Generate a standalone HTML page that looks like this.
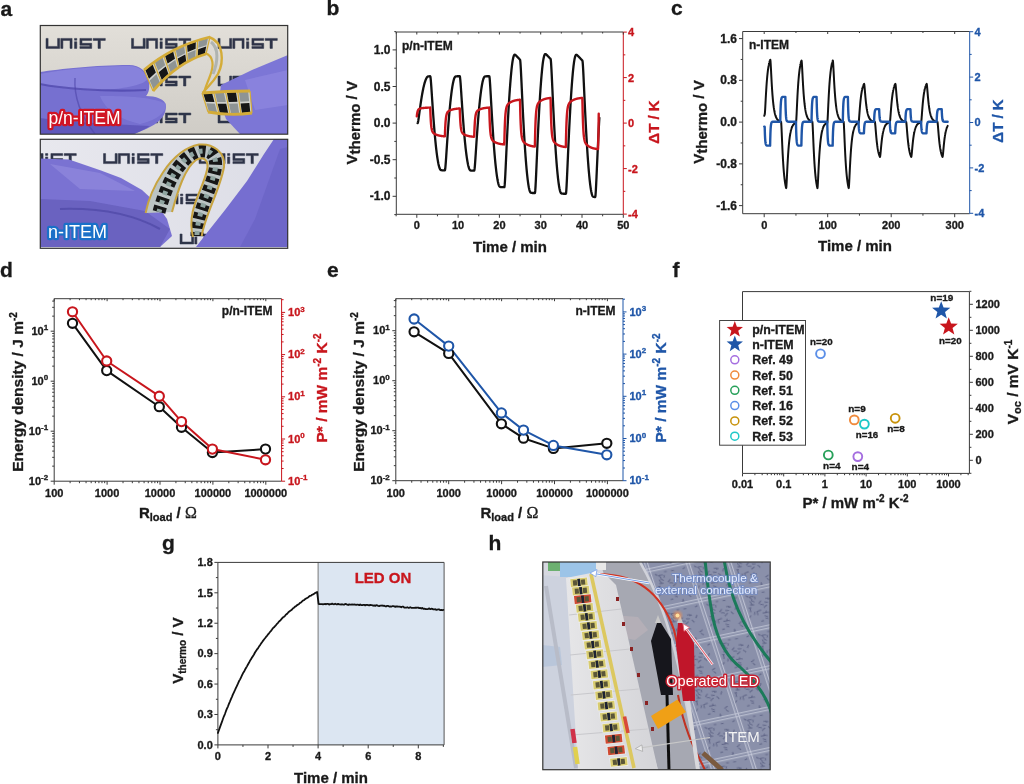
<!DOCTYPE html>
<html><head><meta charset="utf-8"><style>
html,body{margin:0;padding:0;background:#fff;}
body{width:1024px;height:784px;overflow:hidden;}
svg{display:block;filter:blur(0.3px);}
</style></head><body>
<svg width="1024" height="784" viewBox="0 0 1024 784" font-family="Liberation Sans, sans-serif" font-weight="bold">
<rect width="1024" height="784" fill="#fff"/>
<text x="0.5" y="15.5" font-size="21" fill="#1a1a1a" text-anchor="start"  stroke="#1a1a1a" stroke-width="0.32">a</text>
<text x="326.5" y="15.4" font-size="21" fill="#1a1a1a" text-anchor="start"  stroke="#1a1a1a" stroke-width="0.32">b</text>
<text x="671" y="15.4" font-size="21" fill="#1a1a1a" text-anchor="start"  stroke="#1a1a1a" stroke-width="0.32">c</text>
<text x="0" y="276.5" font-size="21" fill="#1a1a1a" text-anchor="start"  stroke="#1a1a1a" stroke-width="0.32">d</text>
<text x="327" y="276.5" font-size="21" fill="#1a1a1a" text-anchor="start"  stroke="#1a1a1a" stroke-width="0.32">e</text>
<text x="672.5" y="276.5" font-size="21" fill="#1a1a1a" text-anchor="start"  stroke="#1a1a1a" stroke-width="0.32">f</text>
<text x="162" y="549.8" font-size="21" fill="#1a1a1a" text-anchor="start"  stroke="#1a1a1a" stroke-width="0.32">g</text>
<text x="488.5" y="550.4" font-size="21" fill="#1a1a1a" text-anchor="start"  stroke="#1a1a1a" stroke-width="0.32">h</text>
<line x1="396.3" y1="32" x2="623.3" y2="32" stroke="#3a3a3a" stroke-width="1"/>
<line x1="396.3" y1="32" x2="396.3" y2="214.3" stroke="#3a3a3a" stroke-width="1"/>
<line x1="396.3" y1="214.3" x2="623.3" y2="214.3" stroke="#3a3a3a" stroke-width="1"/>
<line x1="623.3" y1="32" x2="623.3" y2="214.3" stroke="#c8161d" stroke-width="1"/>
<line x1="396.15" y1="214.3" x2="396.15" y2="216.3" stroke="#3a3a3a" stroke-width="1"/>
<line x1="396.15" y1="32" x2="396.15" y2="33.5" stroke="#3a3a3a" stroke-width="1"/>
<line x1="416.8" y1="214.3" x2="416.8" y2="217.8" stroke="#3a3a3a" stroke-width="1"/>
<line x1="416.8" y1="32" x2="416.8" y2="34.5" stroke="#3a3a3a" stroke-width="1"/>
<text x="416.8" y="229" font-size="11" fill="#1a1a1a" text-anchor="middle"  stroke="#1a1a1a" stroke-width="0.32">0</text>
<line x1="437.45" y1="214.3" x2="437.45" y2="216.3" stroke="#3a3a3a" stroke-width="1"/>
<line x1="437.45" y1="32" x2="437.45" y2="33.5" stroke="#3a3a3a" stroke-width="1"/>
<line x1="458.1" y1="214.3" x2="458.1" y2="217.8" stroke="#3a3a3a" stroke-width="1"/>
<line x1="458.1" y1="32" x2="458.1" y2="34.5" stroke="#3a3a3a" stroke-width="1"/>
<text x="458.1" y="229" font-size="11" fill="#1a1a1a" text-anchor="middle"  stroke="#1a1a1a" stroke-width="0.32">10</text>
<line x1="478.75" y1="214.3" x2="478.75" y2="216.3" stroke="#3a3a3a" stroke-width="1"/>
<line x1="478.75" y1="32" x2="478.75" y2="33.5" stroke="#3a3a3a" stroke-width="1"/>
<line x1="499.4" y1="214.3" x2="499.4" y2="217.8" stroke="#3a3a3a" stroke-width="1"/>
<line x1="499.4" y1="32" x2="499.4" y2="34.5" stroke="#3a3a3a" stroke-width="1"/>
<text x="499.4" y="229" font-size="11" fill="#1a1a1a" text-anchor="middle"  stroke="#1a1a1a" stroke-width="0.32">20</text>
<line x1="520.05" y1="214.3" x2="520.05" y2="216.3" stroke="#3a3a3a" stroke-width="1"/>
<line x1="520.05" y1="32" x2="520.05" y2="33.5" stroke="#3a3a3a" stroke-width="1"/>
<line x1="540.7" y1="214.3" x2="540.7" y2="217.8" stroke="#3a3a3a" stroke-width="1"/>
<line x1="540.7" y1="32" x2="540.7" y2="34.5" stroke="#3a3a3a" stroke-width="1"/>
<text x="540.7" y="229" font-size="11" fill="#1a1a1a" text-anchor="middle"  stroke="#1a1a1a" stroke-width="0.32">30</text>
<line x1="561.35" y1="214.3" x2="561.35" y2="216.3" stroke="#3a3a3a" stroke-width="1"/>
<line x1="561.35" y1="32" x2="561.35" y2="33.5" stroke="#3a3a3a" stroke-width="1"/>
<line x1="582" y1="214.3" x2="582" y2="217.8" stroke="#3a3a3a" stroke-width="1"/>
<line x1="582" y1="32" x2="582" y2="34.5" stroke="#3a3a3a" stroke-width="1"/>
<text x="582" y="229" font-size="11" fill="#1a1a1a" text-anchor="middle"  stroke="#1a1a1a" stroke-width="0.32">40</text>
<line x1="602.65" y1="214.3" x2="602.65" y2="216.3" stroke="#3a3a3a" stroke-width="1"/>
<line x1="602.65" y1="32" x2="602.65" y2="33.5" stroke="#3a3a3a" stroke-width="1"/>
<line x1="623.3" y1="214.3" x2="623.3" y2="217.8" stroke="#3a3a3a" stroke-width="1"/>
<line x1="623.3" y1="32" x2="623.3" y2="34.5" stroke="#3a3a3a" stroke-width="1"/>
<text x="623.3" y="229" font-size="11" fill="#1a1a1a" text-anchor="middle"  stroke="#1a1a1a" stroke-width="0.32">50</text>
<line x1="394.3" y1="214.6" x2="396.3" y2="214.6" stroke="#3a3a3a" stroke-width="1"/>
<line x1="392.6" y1="196.3" x2="396.3" y2="196.3" stroke="#3a3a3a" stroke-width="1"/>
<text x="390.5" y="200.3" font-size="12" fill="#1a1a1a" text-anchor="end"  stroke="#1a1a1a" stroke-width="0.32">-1.0</text>
<line x1="394.3" y1="178" x2="396.3" y2="178" stroke="#3a3a3a" stroke-width="1"/>
<line x1="392.6" y1="159.7" x2="396.3" y2="159.7" stroke="#3a3a3a" stroke-width="1"/>
<text x="390.5" y="163.7" font-size="12" fill="#1a1a1a" text-anchor="end"  stroke="#1a1a1a" stroke-width="0.32">-0.5</text>
<line x1="394.3" y1="141.4" x2="396.3" y2="141.4" stroke="#3a3a3a" stroke-width="1"/>
<line x1="392.6" y1="123.1" x2="396.3" y2="123.1" stroke="#3a3a3a" stroke-width="1"/>
<text x="390.5" y="127.1" font-size="12" fill="#1a1a1a" text-anchor="end"  stroke="#1a1a1a" stroke-width="0.32">0.0</text>
<line x1="394.3" y1="104.8" x2="396.3" y2="104.8" stroke="#3a3a3a" stroke-width="1"/>
<line x1="392.6" y1="86.5" x2="396.3" y2="86.5" stroke="#3a3a3a" stroke-width="1"/>
<text x="390.5" y="90.5" font-size="12" fill="#1a1a1a" text-anchor="end"  stroke="#1a1a1a" stroke-width="0.32">0.5</text>
<line x1="394.3" y1="68.2" x2="396.3" y2="68.2" stroke="#3a3a3a" stroke-width="1"/>
<line x1="392.6" y1="49.9" x2="396.3" y2="49.9" stroke="#3a3a3a" stroke-width="1"/>
<text x="390.5" y="53.9" font-size="12" fill="#1a1a1a" text-anchor="end"  stroke="#1a1a1a" stroke-width="0.32">1.0</text>
<line x1="394.3" y1="31.6" x2="396.3" y2="31.6" stroke="#3a3a3a" stroke-width="1"/>
<line x1="623.3" y1="214.1" x2="626.8" y2="214.1" stroke="#c8161d" stroke-width="1"/>
<text x="628" y="218.1" font-size="11" fill="#c8161d" text-anchor="start"  stroke="#c8161d" stroke-width="0.32">-4</text>
<line x1="623.3" y1="191.35" x2="625.3" y2="191.35" stroke="#c8161d" stroke-width="1"/>
<line x1="623.3" y1="168.6" x2="626.8" y2="168.6" stroke="#c8161d" stroke-width="1"/>
<text x="628" y="172.6" font-size="11" fill="#c8161d" text-anchor="start"  stroke="#c8161d" stroke-width="0.32">-2</text>
<line x1="623.3" y1="145.85" x2="625.3" y2="145.85" stroke="#c8161d" stroke-width="1"/>
<line x1="623.3" y1="123.1" x2="626.8" y2="123.1" stroke="#c8161d" stroke-width="1"/>
<text x="628" y="127.1" font-size="11" fill="#c8161d" text-anchor="start"  stroke="#c8161d" stroke-width="0.32">0</text>
<line x1="623.3" y1="100.35" x2="625.3" y2="100.35" stroke="#c8161d" stroke-width="1"/>
<line x1="623.3" y1="77.6" x2="626.8" y2="77.6" stroke="#c8161d" stroke-width="1"/>
<text x="628" y="81.6" font-size="11" fill="#c8161d" text-anchor="start"  stroke="#c8161d" stroke-width="0.32">2</text>
<line x1="623.3" y1="54.85" x2="625.3" y2="54.85" stroke="#c8161d" stroke-width="1"/>
<line x1="623.3" y1="32.1" x2="626.8" y2="32.1" stroke="#c8161d" stroke-width="1"/>
<text x="628" y="36.1" font-size="11" fill="#c8161d" text-anchor="start"  stroke="#c8161d" stroke-width="0.32">4</text>
<text x="402" y="49.5" font-size="12" fill="#1a1a1a" text-anchor="start"  stroke="#1a1a1a" stroke-width="0.32">p/n-ITEM</text>
<text x="510" y="252.2" font-size="15" fill="#1a1a1a" text-anchor="middle"  stroke="#1a1a1a" stroke-width="0.32">Time / min</text>
<text transform="translate(356.8,122.75) rotate(-90)" font-size="15" fill="#1a1a1a" text-anchor="middle" stroke="#1a1a1a" stroke-width="0.32">V<tspan dy="3">thermo</tspan><tspan dy="-3"> / V</tspan></text>
<text transform="translate(658.5,122) rotate(-90)" font-size="15" fill="#c8161d" text-anchor="middle" stroke="#c8161d" stroke-width="0.32">ΔT / K</text>
<path d="M417.63,123.1 L417.79,122.87 L417.96,122.34 L418.12,121.59 L418.29,120.68 L418.45,119.65 L418.62,118.54 L418.78,117.37 L418.95,116.17 L419.11,114.94 L419.28,113.7 L419.44,112.45 L419.61,111.21 L419.77,109.98 L419.94,108.76 L420.1,107.55 L420.27,106.36 L420.43,105.18 L420.6,104.03 L420.76,102.9 L420.93,101.79 L421.1,100.7 L421.26,99.63 L421.43,98.58 L421.59,97.56 L421.76,96.56 L421.92,95.59 L422.09,94.64 L422.25,93.71 L422.42,92.8 L422.58,91.92 L422.75,91.06 L422.91,90.23 L423.08,89.42 L423.24,88.63 L423.41,87.87 L423.57,87.13 L423.74,86.41 L423.9,85.72 L424.07,85.06 L424.23,84.41 L424.4,83.8 L424.56,83.2 L424.73,82.63 L424.89,82.09 L425.06,81.57 L425.23,81.07 L425.39,80.6 L425.56,80.15 L425.72,79.73 L425.89,79.33 L426.05,78.96 L426.22,78.61 L426.38,78.29 L426.55,77.99 L426.71,77.72 L426.88,77.47 L427.04,77.25 L427.21,77.05 L427.37,76.89 L427.54,76.74 L427.7,76.63 L427.87,76.54 L428.03,76.47 L428.2,76.42 L428.36,76.38 L428.53,76.35 L428.69,76.32 L428.86,76.31 L429.02,76.29 L429.19,76.28 L429.36,76.28 L429.52,76.27 L429.69,76.27 L429.85,76.26 L430.02,76.26 L430.18,76.26 L430.35,76.54 L430.51,77.47 L430.68,78.87 L430.84,80.63 L431.01,82.64 L431.17,84.83 L431.34,87.15 L431.5,89.56 L431.67,92.02 L431.83,94.51 L432,97 L432.16,99.5 L432.33,101.98 L432.49,104.44 L432.66,106.87 L432.82,109.27 L432.99,111.64 L433.15,113.96 L433.32,116.25 L433.49,118.49 L433.65,120.69 L433.82,122.85 L433.98,124.95 L434.15,127.02 L434.31,129.04 L434.48,131.01 L434.64,132.93 L434.81,134.81 L434.97,136.64 L435.14,138.42 L435.3,140.15 L435.47,141.84 L435.63,143.48 L435.8,145.07 L435.96,146.61 L436.13,148.11 L436.29,149.56 L436.46,150.96 L436.62,152.31 L436.79,153.61 L436.95,154.86 L437.12,156.07 L437.28,157.22 L437.45,158.33 L437.62,159.39 L437.78,160.4 L437.95,161.36 L438.11,162.27 L438.28,163.13 L438.44,163.94 L438.61,164.7 L438.77,165.41 L438.94,166.07 L439.1,166.68 L439.27,167.24 L439.43,167.75 L439.6,168.2 L439.76,168.61 L439.93,168.96 L440.09,169.26 L440.26,169.51 L440.42,169.7 L440.59,169.85 L440.75,169.96 L440.92,170.05 L441.08,170.11 L441.25,170.16 L441.41,170.2 L441.58,170.23 L441.75,170.25 L441.91,170.26 L442.08,170.28 L442.24,170.28 L442.41,170.29 L442.57,170.3 L442.74,170.3 L442.9,170.3 L443.07,170.31 L443.23,170.31 L443.4,170.31 L443.56,170.31 L443.73,170.31 L443.89,170.31 L444.06,170.31 L444.22,170.31 L444.39,170.31 L444.55,170.31 L444.72,170.31 L444.88,170.31 L445.05,169.85 L445.21,168.79 L445.38,167.28 L445.54,165.46 L445.71,163.39 L445.88,161.16 L446.04,158.82 L446.21,156.4 L446.37,153.93 L446.54,151.44 L446.7,148.94 L446.87,146.44 L447.03,143.97 L447.2,141.51 L447.36,139.09 L447.53,136.7 L447.69,134.34 L447.86,132.03 L448.02,129.75 L448.19,127.52 L448.35,125.33 L448.52,123.19 L448.68,121.09 L448.85,119.04 L449.01,117.03 L449.18,115.07 L449.34,113.16 L449.51,111.3 L449.67,109.48 L449.84,107.71 L450.01,105.99 L450.17,104.31 L450.34,102.68 L450.5,101.1 L450.67,99.57 L450.83,98.09 L451,96.65 L451.16,95.27 L451.33,93.93 L451.49,92.64 L451.66,91.4 L451.82,90.21 L451.99,89.06 L452.15,87.97 L452.32,86.92 L452.48,85.93 L452.65,84.98 L452.81,84.08 L452.98,83.23 L453.14,82.43 L453.31,81.69 L453.47,80.99 L453.64,80.34 L453.8,79.74 L453.97,79.2 L454.14,78.7 L454.3,78.26 L454.47,77.86 L454.63,77.52 L454.8,77.24 L454.96,77 L455.13,76.82 L455.29,76.68 L455.46,76.58 L455.62,76.5 L455.79,76.44 L455.95,76.4 L456.12,76.36 L456.28,76.33 L456.45,76.31 L456.61,76.3 L456.78,76.29 L456.94,76.28 L457.11,76.27 L457.27,76.27 L457.44,76.26 L457.6,76.26 L457.77,76.26 L457.93,76.26 L458.1,76.26 L458.27,76.26 L458.43,76.25 L458.6,76.25 L458.76,76.25 L458.93,76.25 L459.09,76.25 L459.26,76.25 L459.42,76.25 L459.59,76.25 L459.75,76.25 L459.92,76.72 L460.08,77.78 L460.25,79.29 L460.41,81.13 L460.58,83.2 L460.74,85.44 L460.91,87.79 L461.07,90.22 L461.24,92.7 L461.4,95.2 L461.57,97.71 L461.73,100.21 L461.9,102.7 L462.06,105.16 L462.23,107.6 L462.4,110 L462.56,112.36 L462.73,114.69 L462.89,116.97 L463.06,119.21 L463.22,121.41 L463.39,123.56 L463.55,125.67 L463.72,127.73 L463.88,129.74 L464.05,131.71 L464.21,133.63 L464.38,135.5 L464.54,137.32 L464.71,139.1 L464.87,140.83 L465.04,142.51 L465.2,144.15 L465.37,145.73 L465.53,147.27 L465.7,148.76 L465.86,150.2 L466.03,151.59 L466.19,152.93 L466.36,154.23 L466.53,155.47 L466.69,156.67 L466.86,157.82 L467.02,158.92 L467.19,159.97 L467.35,160.97 L467.52,161.92 L467.68,162.82 L467.85,163.67 L468.01,164.47 L468.18,165.22 L468.34,165.93 L468.51,166.58 L468.67,167.18 L468.84,167.72 L469,168.22 L469.17,168.67 L469.33,169.06 L469.5,169.4 L469.66,169.69 L469.83,169.93 L469.99,170.11 L470.16,170.25 L470.32,170.35 L470.49,170.43 L470.66,170.49 L470.82,170.54 L470.99,170.57 L471.15,170.6 L471.32,170.62 L471.48,170.63 L471.65,170.64 L471.81,170.65 L471.98,170.66 L472.14,170.66 L472.31,170.67 L472.47,170.67 L472.64,170.67 L472.8,170.67 L472.97,170.68 L473.13,170.68 L473.3,170.68 L473.46,170.68 L473.63,170.68 L473.79,170.68 L473.96,170.68 L474.12,170.68 L474.29,170.53 L474.45,169.75 L474.62,168.44 L474.79,166.76 L474.95,164.79 L475.12,162.63 L475.28,160.33 L475.45,157.93 L475.61,155.47 L475.78,152.98 L475.94,150.48 L476.11,147.97 L476.27,145.47 L476.44,143 L476.6,140.55 L476.77,138.13 L476.93,135.75 L477.1,133.4 L477.26,131.1 L477.43,128.83 L477.59,126.62 L477.76,124.44 L477.92,122.31 L478.09,120.23 L478.25,118.19 L478.42,116.2 L478.58,114.26 L478.75,112.36 L478.92,110.52 L479.08,108.71 L479.25,106.96 L479.41,105.26 L479.58,103.6 L479.74,101.99 L479.91,100.43 L480.07,98.91 L480.24,97.45 L480.4,96.03 L480.57,94.66 L480.73,93.34 L480.9,92.07 L481.06,90.85 L481.23,89.68 L481.39,88.56 L481.56,87.48 L481.72,86.46 L481.89,85.48 L482.05,84.56 L482.22,83.68 L482.38,82.85 L482.55,82.08 L482.71,81.35 L482.88,80.67 L483.05,80.05 L483.21,79.48 L483.38,78.95 L483.54,78.48 L483.71,78.06 L483.87,77.69 L484.04,77.38 L484.2,77.12 L484.37,76.91 L484.53,76.75 L484.7,76.63 L484.86,76.54 L485.03,76.47 L485.19,76.42 L485.36,76.38 L485.52,76.35 L485.69,76.32 L485.85,76.31 L486.02,76.29 L486.18,76.28 L486.35,76.28 L486.51,76.27 L486.68,76.27 L486.84,76.26 L487.01,76.26 L487.18,76.26 L487.34,76.26 L487.51,76.26 L487.67,76.25 L487.84,76.25 L488,76.25 L488.17,76.25 L488.33,76.25 L488.5,76.25 L488.66,76.25 L488.83,76.25 L488.99,76.25 L489.16,76.25 L489.32,76.31 L489.49,77.05 L489.65,78.45 L489.82,80.33 L489.98,82.56 L490.15,85.05 L490.31,87.72 L490.48,90.51 L490.64,93.38 L490.81,96.3 L490.97,99.24 L491.14,102.19 L491.31,105.13 L491.47,108.04 L491.64,110.93 L491.8,113.78 L491.97,116.58 L492.13,119.35 L492.3,122.07 L492.46,124.74 L492.63,127.35 L492.79,129.92 L492.96,132.43 L493.12,134.89 L493.29,137.3 L493.45,139.65 L493.62,141.95 L493.78,144.19 L493.95,146.37 L494.11,148.5 L494.28,150.58 L494.44,152.59 L494.61,154.55 L494.77,156.46 L494.94,158.31 L495.1,160.1 L495.27,161.83 L495.44,163.51 L495.6,165.13 L495.77,166.69 L495.93,168.2 L496.1,169.65 L496.26,171.04 L496.43,172.37 L496.59,173.65 L496.76,174.87 L496.92,176.03 L497.09,177.13 L497.25,178.18 L497.42,179.16 L497.58,180.09 L497.75,180.95 L497.91,181.76 L498.08,182.51 L498.24,183.2 L498.41,183.83 L498.57,184.4 L498.74,184.91 L498.9,185.36 L499.07,185.74 L499.23,186.06 L499.4,186.32 L499.57,186.52 L499.73,186.67 L499.9,186.79 L500.06,186.88 L500.23,186.94 L500.39,186.99 L500.56,187.03 L500.72,187.06 L500.89,187.08 L501.05,187.1 L501.22,187.11 L501.38,187.12 L501.55,187.13 L501.71,187.13 L501.88,187.14 L502.04,187.14 L502.21,187.14 L502.37,187.14 L502.54,187.15 L502.7,187.15 L502.87,187.15 L503.03,187.15 L503.2,187.15 L503.36,187.15 L503.53,187.15 L503.7,187.15 L503.86,187.15 L504.03,187.15 L504.19,187.15 L504.36,187.15 L504.52,186.48 L504.69,184.95 L504.85,182.79 L505.02,180.16 L505.18,177.19 L505.35,173.98 L505.51,170.6 L505.68,167.11 L505.84,163.56 L506.01,159.97 L506.17,156.37 L506.34,152.79 L506.5,149.22 L506.67,145.69 L506.83,142.19 L507,138.75 L507.16,135.36 L507.33,132.03 L507.49,128.75 L507.66,125.54 L507.83,122.39 L507.99,119.31 L508.16,116.28 L508.32,113.33 L508.49,110.44 L508.65,107.62 L508.82,104.87 L508.98,102.18 L509.15,99.57 L509.31,97.02 L509.48,94.54 L509.64,92.13 L509.81,89.78 L509.97,87.51 L510.14,85.31 L510.3,83.17 L510.47,81.1 L510.63,79.11 L510.8,77.18 L510.96,75.32 L511.13,73.54 L511.29,71.82 L511.46,70.17 L511.62,68.6 L511.79,67.09 L511.96,65.66 L512.12,64.32 L512.29,63.1 L512.45,61.97 L512.62,60.93 L512.78,59.98 L512.95,59.11 L513.11,58.33 L513.28,57.62 L513.44,57 L513.61,56.45 L513.77,55.97 L513.94,55.58 L514.1,55.26 L514.27,55.02 L514.43,54.85 L514.6,54.76 L514.76,54.74 L514.93,54.76 L515.09,54.83 L515.26,54.91 L515.42,55.02 L515.59,55.15 L515.75,55.29 L515.92,55.43 L516.09,55.59 L516.25,55.75 L516.42,55.91 L516.58,56.08 L516.75,56.24 L516.91,56.41 L517.08,56.59 L517.24,56.76 L517.41,56.93 L517.57,57.1 L517.74,57.28 L517.9,57.45 L518.07,57.63 L518.23,57.8 L518.4,57.98 L518.56,58.15 L518.73,58.33 L518.89,58.51 L519.06,58.68 L519.22,58.86 L519.39,59.03 L519.55,59.21 L519.72,59.38 L519.88,59.56 L520.05,59.73 L520.22,60.52 L520.38,62.13 L520.55,64.33 L520.71,66.97 L520.88,69.92 L521.04,73.1 L521.21,76.44 L521.37,79.88 L521.54,83.37 L521.7,86.9 L521.87,90.43 L522.03,93.96 L522.2,97.46 L522.36,100.92 L522.53,104.35 L522.69,107.72 L522.86,111.05 L523.02,114.32 L523.19,117.53 L523.35,120.68 L523.52,123.76 L523.68,126.79 L523.85,129.75 L524.01,132.64 L524.18,135.47 L524.35,138.24 L524.51,140.93 L524.68,143.56 L524.84,146.13 L525.01,148.63 L525.17,151.06 L525.34,153.42 L525.5,155.72 L525.67,157.94 L525.83,160.11 L526,162.2 L526.16,164.22 L526.33,166.18 L526.49,168.07 L526.66,169.89 L526.82,171.64 L526.99,173.32 L527.15,174.93 L527.32,176.48 L527.48,177.95 L527.65,179.36 L527.81,180.69 L527.98,181.96 L528.14,183.16 L528.31,184.28 L528.48,185.34 L528.64,186.32 L528.81,187.24 L528.97,188.08 L529.14,188.85 L529.3,189.55 L529.47,190.18 L529.63,190.73 L529.8,191.21 L529.96,191.62 L530.13,191.95 L530.29,192.2 L530.46,192.4 L530.62,192.54 L530.79,192.66 L530.95,192.74 L531.12,192.8 L531.28,192.85 L531.45,192.89 L531.61,192.92 L531.78,192.94 L531.94,192.96 L532.11,192.97 L532.27,192.98 L532.44,192.98 L532.61,192.99 L532.77,192.99 L532.94,193 L533.1,193 L533.27,193 L533.43,193 L533.6,193 L533.76,193 L533.93,193 L534.09,193 L534.26,193 L534.42,193.01 L534.59,193.01 L534.75,193.01 L534.92,193.01 L535.08,192.3 L535.25,190.7 L535.41,188.43 L535.58,185.67 L535.74,182.56 L535.91,179.19 L536.07,175.65 L536.24,172 L536.4,168.27 L536.57,164.51 L536.74,160.73 L536.9,156.97 L537.07,153.23 L537.23,149.52 L537.4,145.86 L537.56,142.25 L537.73,138.7 L537.89,135.2 L538.06,131.77 L538.22,128.4 L538.39,125.1 L538.55,121.86 L538.72,118.69 L538.88,115.6 L539.05,112.57 L539.21,109.61 L539.38,106.72 L539.54,103.91 L539.71,101.16 L539.87,98.49 L540.04,95.89 L540.2,93.36 L540.37,90.9 L540.53,88.52 L540.7,86.21 L540.87,83.97 L541.03,81.8 L541.2,79.71 L541.36,77.69 L541.53,75.74 L541.69,73.87 L541.86,72.07 L542.02,70.34 L542.19,68.69 L542.35,67.11 L542.52,65.6 L542.68,64.2 L542.85,62.91 L543.01,61.72 L543.18,60.63 L543.34,59.63 L543.51,58.71 L543.67,57.88 L543.84,57.14 L544,56.47 L544.17,55.89 L544.33,55.38 L544.5,54.96 L544.66,54.61 L544.83,54.35 L545,54.17 L545.16,54.07 L545.33,54.04 L545.49,54.06 L545.66,54.11 L545.82,54.2 L545.99,54.3 L546.15,54.42 L546.32,54.56 L546.48,54.71 L546.65,54.86 L546.81,55.02 L546.98,55.18 L547.14,55.34 L547.31,55.51 L547.47,55.68 L547.64,55.85 L547.8,56.03 L547.97,56.2 L548.13,56.37 L548.3,56.55 L548.46,56.72 L548.63,56.9 L548.79,57.07 L548.96,57.25 L549.13,57.42 L549.29,57.6 L549.46,57.77 L549.62,57.95 L549.79,58.12 L549.95,58.3 L550.12,58.48 L550.28,58.65 L550.45,58.83 L550.61,59 L550.78,59.8 L550.94,61.42 L551.11,63.64 L551.27,66.31 L551.44,69.3 L551.6,72.51 L551.77,75.89 L551.93,79.36 L552.1,82.9 L552.26,86.46 L552.43,90.04 L552.59,93.6 L552.76,97.14 L552.92,100.64 L553.09,104.1 L553.26,107.52 L553.42,110.88 L553.59,114.18 L553.75,117.43 L553.92,120.61 L554.08,123.73 L554.25,126.79 L554.41,129.78 L554.58,132.71 L554.74,135.57 L554.91,138.36 L555.07,141.09 L555.24,143.75 L555.4,146.34 L555.57,148.87 L555.73,151.33 L555.9,153.72 L556.06,156.04 L556.23,158.29 L556.39,160.47 L556.56,162.59 L556.72,164.64 L556.89,166.61 L557.05,168.52 L557.22,170.36 L557.39,172.13 L557.55,173.83 L557.72,175.47 L557.88,177.03 L558.05,178.52 L558.21,179.94 L558.38,181.29 L558.54,182.57 L558.71,183.78 L558.87,184.92 L559.04,185.99 L559.2,186.98 L559.37,187.91 L559.53,188.76 L559.7,189.54 L559.86,190.25 L560.03,190.88 L560.19,191.44 L560.36,191.92 L560.52,192.33 L560.69,192.67 L560.85,192.93 L561.02,193.12 L561.18,193.27 L561.35,193.38 L561.52,193.47 L561.68,193.53 L561.85,193.58 L562.01,193.62 L562.18,193.65 L562.34,193.67 L562.51,193.69 L562.67,193.7 L562.84,193.71 L563,193.72 L563.17,193.72 L563.33,193.73 L563.5,193.73 L563.66,193.73 L563.83,193.73 L563.99,193.73 L564.16,193.73 L564.32,193.74 L564.49,193.74 L564.65,193.74 L564.82,193.74 L564.98,193.74 L565.15,193.74 L565.31,193.74 L565.48,193.74 L565.65,193.74 L565.81,193.74 L565.98,193.52 L566.14,192.33 L566.31,190.37 L566.47,187.84 L566.64,184.88 L566.8,181.63 L566.97,178.17 L567.13,174.57 L567.3,170.87 L567.46,167.12 L567.63,163.35 L567.79,159.58 L567.96,155.83 L568.12,152.1 L568.29,148.42 L568.45,144.78 L568.62,141.2 L568.78,137.67 L568.95,134.21 L569.11,130.81 L569.28,127.47 L569.44,124.2 L569.61,121 L569.78,117.87 L569.94,114.8 L570.11,111.81 L570.27,108.89 L570.44,106.04 L570.6,103.26 L570.77,100.55 L570.93,97.91 L571.1,95.35 L571.26,92.85 L571.43,90.43 L571.59,88.09 L571.76,85.81 L571.92,83.61 L572.09,81.48 L572.25,79.42 L572.42,77.44 L572.58,75.53 L572.75,73.69 L572.91,71.92 L573.08,70.23 L573.24,68.62 L573.41,67.08 L573.57,65.62 L573.74,64.28 L573.91,63.04 L574.07,61.9 L574.24,60.85 L574.4,59.89 L574.57,59.02 L574.73,58.23 L574.9,57.52 L575.06,56.9 L575.23,56.36 L575.39,55.89 L575.56,55.51 L575.72,55.21 L575.89,54.98 L576.05,54.84 L576.22,54.78 L576.38,54.77 L576.55,54.81 L576.71,54.88 L576.88,54.98 L577.04,55.09 L577.21,55.22 L577.37,55.36 L577.54,55.51 L577.7,55.67 L577.87,55.83 L578.04,55.99 L578.2,56.16 L578.37,56.33 L578.53,56.5 L578.7,56.67 L578.86,56.84 L579.03,57.02 L579.19,57.19 L579.36,57.37 L579.52,57.54 L579.69,57.72 L579.85,57.89 L580.02,58.07 L580.18,58.24 L580.35,58.42 L580.51,58.59 L580.68,58.77 L580.84,58.94 L581.01,59.12 L581.17,59.3 L581.34,59.47 L581.5,59.65 L581.67,59.82 L581.83,60 L582,60.17 L582.17,60.35 L582.33,60.53 L582.5,60.89 L582.66,62.15 L582.83,64.12 L582.99,66.61 L583.16,69.49 L583.32,72.64 L583.49,75.98 L583.65,79.45 L583.82,83 L583.98,86.6 L584.15,90.22 L584.31,93.83 L584.48,97.43 L584.64,101 L584.81,104.53 L584.97,108.01 L585.14,111.44 L585.3,114.81 L585.47,118.13 L585.63,121.38 L585.8,124.57 L585.96,127.7 L586.13,130.77 L586.3,133.76 L586.46,136.69 L586.63,139.56 L586.79,142.35 L586.96,145.08 L587.12,147.74 L587.29,150.33 L587.45,152.85 L587.62,155.31 L587.78,157.69 L587.95,160.01 L588.11,162.25 L588.28,164.43 L588.44,166.54 L588.61,168.58 L588.77,170.54 L588.94,172.44 L589.1,174.27 L589.27,176.03 L589.43,177.71 L589.6,179.33 L589.76,180.88 L589.93,182.35 L590.09,183.75 L590.26,185.09 L590.43,186.35 L590.59,187.54 L590.76,188.65 L590.92,189.7 L591.09,190.67 L591.25,191.57 L591.42,192.39 L591.58,193.15 L591.75,193.83 L591.91,194.43 L592.08,194.96 L592.24,195.41 L592.41,195.79 L592.57,196.09 L592.74,196.32 L592.9,196.49 L593.07,196.62 L593.23,196.72 L593.4,196.79 L593.56,196.85 L593.73,196.9 L593.89,196.93 L594.06,196.95 L594.22,196.97 L594.39,196.99 L594.56,197 L594.72,197.01 L594.89,197.01 L595.05,197.02 L595.22,197.02 L595.38,196.33 L595.55,194.76 L595.71,192.52 L595.88,189.81 L596.04,186.74 L596.21,183.43 L596.37,179.94 L596.54,176.35 L596.7,172.68 L596.87,168.97 L597.03,165.26 L597.2,161.55 L597.36,157.87 L597.53,154.22 L597.69,150.62 L597.86,147.06 L598.02,143.56 L598.19,140.12 L598.35,136.74 L598.52,133.42 L598.69,130.17 L598.85,126.99 L599.02,123.87 L599.18,120.82 L599.35,117.84" fill="none" stroke="#111" stroke-width="2.3" stroke-linejoin="round" stroke-linecap="round" />
<path d="M416.8,116.31 L416.97,114.84 L417.13,113.67 L417.3,112.72 L417.46,111.96 L417.63,111.34 L417.79,110.84 L417.96,110.43 L418.12,110.1 L418.29,109.82 L418.45,109.6 L418.62,109.41 L418.78,109.25 L418.95,109.12 L419.11,109 L419.28,108.91 L419.44,108.82 L419.61,108.75 L419.77,108.68 L419.94,108.62 L420.1,108.57 L420.27,108.52 L420.43,108.48 L420.6,108.44 L420.76,108.4 L420.93,108.37 L421.1,108.33 L421.26,108.3 L421.43,108.27 L421.59,108.24 L421.76,108.22 L421.92,108.19 L422.09,108.16 L422.25,108.14 L422.42,108.12 L422.58,108.1 L422.75,108.07 L422.91,108.05 L423.08,108.03 L423.24,108.01 L423.41,108 L423.57,107.98 L423.74,107.96 L423.9,107.94 L424.07,107.93 L424.23,107.91 L424.4,107.89 L424.56,107.88 L424.73,107.86 L424.89,107.85 L425.06,107.84 L425.23,107.82 L425.39,107.81 L425.56,107.8 L425.72,107.79 L425.89,107.77 L426.05,107.76 L426.22,107.75 L426.38,107.74 L426.55,107.73 L426.71,107.72 L426.88,107.71 L427.04,107.7 L427.21,107.69 L427.37,107.68 L427.54,107.68 L427.7,107.67 L427.87,107.66 L428.03,107.65 L428.2,107.64 L428.36,107.64 L428.53,107.63 L428.69,107.62 L428.86,107.62 L429.02,107.61 L429.19,107.6 L429.36,107.6 L429.52,107.59 L429.69,107.59 L429.85,107.58 L430.02,107.57 L430.18,107.57 L430.35,111.32 L430.51,115.45 L430.68,118.76 L430.84,121.44 L431.01,123.59 L431.17,125.33 L431.34,126.75 L431.5,127.91 L431.67,128.85 L431.83,129.63 L432,130.28 L432.16,130.81 L432.33,131.27 L432.49,131.65 L432.66,131.98 L432.82,132.26 L432.99,132.5 L433.15,132.72 L433.32,132.91 L433.49,133.08 L433.65,133.24 L433.82,133.38 L433.98,133.51 L434.15,133.63 L434.31,133.74 L434.48,133.85 L434.64,133.95 L434.81,134.04 L434.97,134.13 L435.14,134.21 L435.3,134.3 L435.47,134.37 L435.63,134.45 L435.8,134.52 L435.96,134.59 L436.13,134.66 L436.29,134.72 L436.46,134.79 L436.62,134.85 L436.79,134.9 L436.95,134.96 L437.12,135.02 L437.28,135.07 L437.45,135.12 L437.62,135.17 L437.78,135.22 L437.95,135.26 L438.11,135.31 L438.28,135.35 L438.44,135.4 L438.61,135.44 L438.77,135.48 L438.94,135.52 L439.1,135.55 L439.27,135.59 L439.43,135.63 L439.6,135.66 L439.76,135.69 L439.93,135.73 L440.09,135.76 L440.26,135.79 L440.42,135.82 L440.59,135.84 L440.75,135.87 L440.92,135.9 L441.08,135.92 L441.25,135.95 L441.41,135.97 L441.58,136 L441.75,136.02 L441.91,136.04 L442.08,136.06 L442.24,136.09 L442.41,136.11 L442.57,136.12 L442.74,136.14 L442.9,136.16 L443.07,136.18 L443.23,136.2 L443.4,136.21 L443.56,136.23 L443.73,136.25 L443.89,136.26 L444.06,136.28 L444.22,136.29 L444.39,136.3 L444.55,136.32 L444.72,136.33 L444.88,136.34 L445.05,131.6 L445.21,127.79 L445.38,124.72 L445.54,122.26 L445.71,120.27 L445.88,118.66 L446.04,117.35 L446.21,116.28 L446.37,115.41 L446.54,114.69 L446.7,114.09 L446.87,113.6 L447.03,113.18 L447.2,112.82 L447.36,112.52 L447.53,112.26 L447.69,112.03 L447.86,111.83 L448.02,111.66 L448.19,111.5 L448.35,111.35 L448.52,111.22 L448.68,111.1 L448.85,110.99 L449.01,110.88 L449.18,110.79 L449.34,110.69 L449.51,110.61 L449.67,110.52 L449.84,110.44 L450.01,110.37 L450.17,110.3 L450.34,110.23 L450.5,110.16 L450.67,110.09 L450.83,110.03 L451,109.97 L451.16,109.91 L451.33,109.86 L451.49,109.8 L451.66,109.75 L451.82,109.7 L451.99,109.65 L452.15,109.6 L452.32,109.56 L452.48,109.51 L452.65,109.47 L452.81,109.43 L452.98,109.38 L453.14,109.34 L453.31,109.31 L453.47,109.27 L453.64,109.23 L453.8,109.2 L453.97,109.16 L454.14,109.13 L454.3,109.1 L454.47,109.07 L454.63,109.04 L454.8,109.01 L454.96,108.98 L455.13,108.95 L455.29,108.93 L455.46,108.9 L455.62,108.88 L455.79,108.85 L455.95,108.83 L456.12,108.81 L456.28,108.79 L456.45,108.76 L456.61,108.74 L456.78,108.72 L456.94,108.7 L457.11,108.69 L457.27,108.67 L457.44,108.65 L457.6,108.63 L457.77,108.62 L457.93,108.6 L458.1,108.58 L458.27,108.57 L458.43,108.55 L458.6,108.54 L458.76,108.53 L458.93,108.51 L459.09,108.5 L459.26,108.49 L459.42,108.47 L459.59,108.46 L459.75,108.45 L459.92,113.28 L460.08,117.15 L460.25,120.26 L460.41,122.77 L460.58,124.79 L460.74,126.43 L460.91,127.76 L461.07,128.84 L461.24,129.73 L461.4,130.46 L461.57,131.07 L461.73,131.57 L461.9,132 L462.06,132.36 L462.23,132.67 L462.4,132.93 L462.56,133.17 L462.73,133.37 L462.89,133.55 L463.06,133.71 L463.22,133.86 L463.39,133.99 L463.55,134.12 L463.72,134.23 L463.88,134.34 L464.05,134.44 L464.21,134.53 L464.38,134.62 L464.54,134.71 L464.71,134.79 L464.87,134.87 L465.04,134.94 L465.2,135.01 L465.37,135.08 L465.53,135.15 L465.7,135.21 L465.86,135.27 L466.03,135.33 L466.19,135.39 L466.36,135.45 L466.53,135.5 L466.69,135.55 L466.86,135.6 L467.02,135.65 L467.19,135.7 L467.35,135.75 L467.52,135.79 L467.68,135.83 L467.85,135.88 L468.01,135.92 L468.18,135.95 L468.34,135.99 L468.51,136.03 L468.67,136.07 L468.84,136.1 L469,136.13 L469.17,136.17 L469.33,136.2 L469.5,136.23 L469.66,136.26 L469.83,136.29 L469.99,136.32 L470.16,136.34 L470.32,136.37 L470.49,136.39 L470.66,136.42 L470.82,136.44 L470.99,136.47 L471.15,136.49 L471.32,136.51 L471.48,136.53 L471.65,136.55 L471.81,136.57 L471.98,136.59 L472.14,136.61 L472.31,136.63 L472.47,136.65 L472.64,136.66 L472.8,136.68 L472.97,136.69 L473.13,136.71 L473.3,136.73 L473.46,136.74 L473.63,136.75 L473.79,136.77 L473.96,136.78 L474.12,136.79 L474.29,134.17 L474.45,129.72 L474.62,126.14 L474.79,123.26 L474.95,120.94 L475.12,119.07 L475.28,117.55 L475.45,116.31 L475.61,115.3 L475.78,114.47 L475.94,113.78 L476.11,113.21 L476.27,112.73 L476.44,112.33 L476.6,111.99 L476.77,111.69 L476.93,111.44 L477.1,111.22 L477.26,111.02 L477.43,110.84 L477.59,110.68 L477.76,110.54 L477.92,110.41 L478.09,110.28 L478.25,110.17 L478.42,110.07 L478.58,109.97 L478.75,109.87 L478.92,109.78 L479.08,109.7 L479.25,109.61 L479.41,109.54 L479.58,109.46 L479.74,109.39 L479.91,109.32 L480.07,109.25 L480.24,109.19 L480.4,109.13 L480.57,109.07 L480.73,109.01 L480.9,108.95 L481.06,108.9 L481.23,108.85 L481.39,108.79 L481.56,108.74 L481.72,108.7 L481.89,108.65 L482.05,108.61 L482.22,108.56 L482.38,108.52 L482.55,108.48 L482.71,108.44 L482.88,108.4 L483.05,108.36 L483.21,108.33 L483.38,108.29 L483.54,108.26 L483.71,108.23 L483.87,108.19 L484.04,108.16 L484.2,108.13 L484.37,108.1 L484.53,108.07 L484.7,108.05 L484.86,108.02 L485.03,108 L485.19,107.97 L485.36,107.95 L485.52,107.92 L485.69,107.9 L485.85,107.88 L486.02,107.86 L486.18,107.84 L486.35,107.82 L486.51,107.8 L486.68,107.78 L486.84,107.76 L487.01,107.74 L487.18,107.72 L487.34,107.71 L487.51,107.69 L487.67,107.68 L487.84,107.66 L488,107.65 L488.17,107.63 L488.33,107.62 L488.5,107.6 L488.66,107.59 L488.83,107.58 L488.99,107.57 L489.16,107.55 L489.32,109.24 L489.49,115.17 L489.65,119.92 L489.82,123.75 L489.98,126.83 L490.15,129.32 L490.31,131.34 L490.48,132.98 L490.64,134.32 L490.81,135.42 L490.97,136.33 L491.14,137.08 L491.31,137.71 L491.47,138.24 L491.64,138.7 L491.8,139.08 L491.97,139.42 L492.13,139.71 L492.3,139.97 L492.46,140.2 L492.63,140.41 L492.79,140.59 L492.96,140.77 L493.12,140.92 L493.29,141.07 L493.45,141.21 L493.62,141.34 L493.78,141.46 L493.95,141.58 L494.11,141.69 L494.28,141.79 L494.44,141.89 L494.61,141.99 L494.77,142.08 L494.94,142.17 L495.1,142.26 L495.27,142.34 L495.44,142.42 L495.6,142.5 L495.77,142.57 L495.93,142.65 L496.1,142.72 L496.26,142.79 L496.43,142.85 L496.59,142.92 L496.76,142.98 L496.92,143.04 L497.09,143.09 L497.25,143.15 L497.42,143.21 L497.58,143.26 L497.75,143.31 L497.91,143.36 L498.08,143.41 L498.24,143.45 L498.41,143.5 L498.57,143.54 L498.74,143.59 L498.9,143.63 L499.07,143.67 L499.23,143.71 L499.4,143.74 L499.57,143.78 L499.73,143.81 L499.9,143.85 L500.06,143.88 L500.23,143.91 L500.39,143.95 L500.56,143.98 L500.72,144.01 L500.89,144.03 L501.05,144.06 L501.22,144.09 L501.38,144.11 L501.55,144.14 L501.71,144.16 L501.88,144.19 L502.04,144.21 L502.21,144.23 L502.37,144.25 L502.54,144.27 L502.7,144.29 L502.87,144.31 L503.03,144.33 L503.2,144.35 L503.36,144.37 L503.53,144.39 L503.7,144.4 L503.86,144.42 L504.03,144.44 L504.19,144.45 L504.36,142.41 L504.52,135.23 L504.69,129.48 L504.85,124.85 L505.02,121.11 L505.18,118.1 L505.35,115.66 L505.51,113.67 L505.68,112.05 L505.84,110.72 L506.01,109.62 L506.17,108.71 L506.34,107.94 L506.5,107.3 L506.67,106.75 L506.83,106.29 L507,105.88 L507.16,105.53 L507.33,105.22 L507.49,104.94 L507.66,104.69 L507.83,104.46 L507.99,104.25 L508.16,104.06 L508.32,103.88 L508.49,103.72 L508.65,103.56 L508.82,103.41 L508.98,103.27 L509.15,103.14 L509.31,103.01 L509.48,102.89 L509.64,102.77 L509.81,102.66 L509.97,102.55 L510.14,102.45 L510.3,102.35 L510.47,102.25 L510.63,102.16 L510.8,102.07 L510.96,101.98 L511.13,101.9 L511.29,101.81 L511.46,101.73 L511.62,101.66 L511.79,101.58 L511.96,101.51 L512.12,101.44 L512.29,101.37 L512.45,101.31 L512.62,101.24 L512.78,101.18 L512.95,101.12 L513.11,101.06 L513.28,101.01 L513.44,100.95 L513.61,100.9 L513.77,100.85 L513.94,100.8 L514.1,100.75 L514.27,100.7 L514.43,100.66 L514.6,100.61 L514.76,100.57 L514.93,100.53 L515.09,100.49 L515.26,100.45 L515.42,100.41 L515.59,100.38 L515.75,100.34 L515.92,100.31 L516.09,100.27 L516.25,100.24 L516.42,100.21 L516.58,100.18 L516.75,100.15 L516.91,100.12 L517.08,100.09 L517.24,100.07 L517.41,100.04 L517.57,100.02 L517.74,99.99 L517.9,99.97 L518.07,99.94 L518.23,99.92 L518.4,99.9 L518.56,99.88 L518.73,99.86 L518.89,99.84 L519.06,99.82 L519.22,99.8 L519.39,99.78 L519.55,99.77 L519.72,99.75 L519.88,99.73 L520.05,101.88 L520.22,109.41 L520.38,115.45 L520.55,120.31 L520.71,124.23 L520.88,127.39 L521.04,129.96 L521.21,132.04 L521.37,133.75 L521.54,135.14 L521.7,136.3 L521.87,137.25 L522.03,138.06 L522.2,138.73 L522.36,139.3 L522.53,139.79 L522.69,140.22 L522.86,140.59 L523.02,140.92 L523.19,141.21 L523.35,141.47 L523.52,141.71 L523.68,141.93 L523.85,142.13 L524.01,142.32 L524.18,142.49 L524.35,142.65 L524.51,142.81 L524.68,142.96 L524.84,143.1 L525.01,143.23 L525.17,143.36 L525.34,143.48 L525.5,143.6 L525.67,143.71 L525.83,143.82 L526,143.93 L526.16,144.03 L526.33,144.13 L526.49,144.22 L526.66,144.31 L526.82,144.4 L526.99,144.49 L527.15,144.57 L527.32,144.65 L527.48,144.73 L527.65,144.81 L527.81,144.88 L527.98,144.95 L528.14,145.02 L528.31,145.09 L528.48,145.15 L528.64,145.21 L528.81,145.27 L528.97,145.33 L529.14,145.39 L529.3,145.45 L529.47,145.5 L529.63,145.55 L529.8,145.6 L529.96,145.65 L530.13,145.7 L530.29,145.75 L530.46,145.79 L530.62,145.83 L530.79,145.88 L530.95,145.92 L531.12,145.96 L531.28,145.99 L531.45,146.03 L531.61,146.07 L531.78,146.1 L531.94,146.14 L532.11,146.17 L532.27,146.2 L532.44,146.23 L532.61,146.26 L532.77,146.29 L532.94,146.32 L533.1,146.35 L533.27,146.37 L533.43,146.4 L533.6,146.42 L533.76,146.45 L533.93,146.47 L534.09,146.49 L534.26,146.51 L534.42,146.54 L534.59,146.56 L534.75,146.58 L534.92,144.35 L535.08,136.54 L535.25,130.27 L535.41,125.23 L535.58,121.16 L535.74,117.88 L535.91,115.22 L536.07,113.06 L536.24,111.3 L536.4,109.85 L536.57,108.65 L536.74,107.66 L536.9,106.83 L537.07,106.14 L537.23,105.54 L537.4,105.04 L537.56,104.6 L537.73,104.21 L537.89,103.87 L538.06,103.57 L538.22,103.3 L538.39,103.06 L538.55,102.83 L538.72,102.62 L538.88,102.43 L539.05,102.25 L539.21,102.08 L539.38,101.92 L539.54,101.77 L539.71,101.63 L539.87,101.49 L540.04,101.36 L540.2,101.23 L540.37,101.11 L540.53,101 L540.7,100.88 L540.87,100.78 L541.03,100.67 L541.2,100.57 L541.36,100.47 L541.53,100.38 L541.69,100.29 L541.86,100.2 L542.02,100.11 L542.19,100.03 L542.35,99.95 L542.52,99.87 L542.68,99.8 L542.85,99.72 L543.01,99.65 L543.18,99.58 L543.34,99.52 L543.51,99.45 L543.67,99.39 L543.84,99.33 L544,99.27 L544.17,99.21 L544.33,99.16 L544.5,99.1 L544.66,99.05 L544.83,99 L545,98.95 L545.16,98.9 L545.33,98.86 L545.49,98.81 L545.66,98.77 L545.82,98.73 L545.99,98.69 L546.15,98.65 L546.32,98.61 L546.48,98.57 L546.65,98.54 L546.81,98.5 L546.98,98.47 L547.14,98.44 L547.31,98.4 L547.47,98.37 L547.64,98.34 L547.8,98.31 L547.97,98.29 L548.13,98.26 L548.3,98.23 L548.46,98.21 L548.63,98.18 L548.79,98.16 L548.96,98.14 L549.13,98.11 L549.29,98.09 L549.46,98.07 L549.62,98.05 L549.79,98.03 L549.95,98.01 L550.12,97.99 L550.28,97.97 L550.45,97.95 L550.61,100.2 L550.78,108.09 L550.94,114.42 L551.11,119.51 L551.27,123.61 L551.44,126.92 L551.6,129.61 L551.77,131.79 L551.93,133.58 L552.1,135.04 L552.26,136.25 L552.43,137.25 L552.59,138.09 L552.76,138.79 L552.92,139.39 L553.09,139.91 L553.26,140.35 L553.42,140.74 L553.59,141.08 L553.75,141.39 L553.92,141.66 L554.08,141.91 L554.25,142.14 L554.41,142.35 L554.58,142.55 L554.74,142.73 L554.91,142.9 L555.07,143.06 L555.24,143.22 L555.4,143.36 L555.57,143.5 L555.73,143.64 L555.9,143.76 L556.06,143.89 L556.23,144.01 L556.39,144.12 L556.56,144.23 L556.72,144.34 L556.89,144.44 L557.05,144.54 L557.22,144.63 L557.39,144.73 L557.55,144.82 L557.72,144.9 L557.88,144.99 L558.05,145.07 L558.21,145.15 L558.38,145.23 L558.54,145.3 L558.71,145.37 L558.87,145.44 L559.04,145.51 L559.2,145.58 L559.37,145.64 L559.53,145.7 L559.7,145.76 L559.86,145.82 L560.03,145.88 L560.19,145.93 L560.36,145.98 L560.52,146.04 L560.69,146.08 L560.85,146.13 L561.02,146.18 L561.18,146.23 L561.35,146.27 L561.52,146.31 L561.68,146.35 L561.85,146.39 L562.01,146.43 L562.18,146.47 L562.34,146.51 L562.51,146.54 L562.67,146.58 L562.84,146.61 L563,146.64 L563.17,146.67 L563.33,146.7 L563.5,146.73 L563.66,146.76 L563.83,146.79 L563.99,146.82 L564.16,146.84 L564.32,146.87 L564.49,146.89 L564.65,146.91 L564.82,146.94 L564.98,146.96 L565.15,146.98 L565.31,147 L565.48,147.02 L565.65,147.04 L565.81,147.06 L565.98,140.65 L566.14,133.58 L566.31,127.91 L566.47,123.34 L566.64,119.66 L566.8,116.68 L566.97,114.26 L567.13,112.29 L567.3,110.68 L567.46,109.35 L567.63,108.25 L567.79,107.34 L567.96,106.57 L568.12,105.92 L568.29,105.37 L568.45,104.89 L568.62,104.48 L568.78,104.11 L568.95,103.79 L569.11,103.5 L569.28,103.24 L569.44,103.01 L569.61,102.79 L569.78,102.59 L569.94,102.4 L570.11,102.22 L570.27,102.06 L570.44,101.9 L570.6,101.75 L570.77,101.61 L570.93,101.47 L571.1,101.34 L571.26,101.22 L571.43,101.1 L571.59,100.98 L571.76,100.87 L571.92,100.76 L572.09,100.66 L572.25,100.56 L572.42,100.46 L572.58,100.37 L572.75,100.28 L572.91,100.19 L573.08,100.1 L573.24,100.02 L573.41,99.94 L573.57,99.86 L573.74,99.79 L573.91,99.71 L574.07,99.64 L574.24,99.57 L574.4,99.51 L574.57,99.44 L574.73,99.38 L574.9,99.32 L575.06,99.26 L575.23,99.2 L575.39,99.15 L575.56,99.1 L575.72,99.04 L575.89,98.99 L576.05,98.95 L576.22,98.9 L576.38,98.85 L576.55,98.81 L576.71,98.76 L576.88,98.72 L577.04,98.68 L577.21,98.64 L577.37,98.61 L577.54,98.57 L577.7,98.53 L577.87,98.5 L578.04,98.46 L578.2,98.43 L578.37,98.4 L578.53,98.37 L578.7,98.34 L578.86,98.31 L579.03,98.28 L579.19,98.26 L579.36,98.23 L579.52,98.2 L579.69,98.18 L579.85,98.16 L580.02,98.13 L580.18,98.11 L580.35,98.09 L580.51,98.07 L580.68,98.05 L580.84,98.03 L581.01,98.01 L581.17,97.99 L581.34,97.97 L581.5,97.95 L581.67,97.94 L581.83,97.92 L582,97.9 L582.17,97.89 L582.33,97.87 L582.5,104.55 L582.66,111.91 L582.83,117.82 L582.99,122.57 L583.16,126.41 L583.32,129.52 L583.49,132.04 L583.65,134.09 L583.82,135.78 L583.98,137.16 L584.15,138.31 L584.31,139.26 L584.48,140.06 L584.64,140.74 L584.81,141.32 L584.97,141.82 L585.14,142.25 L585.3,142.63 L585.47,142.97 L585.63,143.28 L585.8,143.55 L585.96,143.8 L586.13,144.03 L586.3,144.24 L586.46,144.44 L586.63,144.62 L586.79,144.8 L586.96,144.96 L587.12,145.12 L587.29,145.27 L587.45,145.41 L587.62,145.55 L587.78,145.68 L587.95,145.81 L588.11,145.93 L588.28,146.05 L588.44,146.16 L588.61,146.27 L588.77,146.38 L588.94,146.48 L589.1,146.58 L589.27,146.68 L589.43,146.77 L589.6,146.86 L589.76,146.95 L589.93,147.03 L590.09,147.11 L590.26,147.19 L590.43,147.27 L590.59,147.34 L590.76,147.42 L590.92,147.49 L591.09,147.55 L591.25,147.62 L591.42,147.68 L591.58,147.75 L591.75,147.81 L591.91,147.86 L592.08,147.92 L592.24,147.97 L592.41,148.03 L592.57,148.08 L592.74,148.13 L592.9,148.18 L593.07,148.22 L593.23,148.27 L593.4,148.31 L593.56,148.36 L593.73,148.4 L593.89,148.44 L594.06,148.48 L594.22,148.51 L594.39,148.55 L594.56,148.59 L594.72,148.62 L594.89,148.65 L595.05,148.69 L595.22,148.72 L595.38,148.75 L595.55,148.78 L595.71,148.81 L595.88,148.83 L596.04,148.86 L596.21,148.89 L596.37,148.91 L596.54,148.94 L596.7,148.96 L596.87,148.98 L597.03,149.01 L597.2,149.03 L597.36,149.05 L597.53,149.07 L597.69,149.09 L597.86,149.11 L598.02,149.13 L598.19,145.02 L598.35,138.03 L598.52,132.42 L598.73,113.77" fill="none" stroke="#c8161d" stroke-width="2.4" stroke-linejoin="round" stroke-linecap="round" />
<line x1="742.7" y1="31.5" x2="969.7" y2="31.5" stroke="#3a3a3a" stroke-width="1"/>
<line x1="742.7" y1="31.5" x2="742.7" y2="213.7" stroke="#3a3a3a" stroke-width="1"/>
<line x1="742.7" y1="213.7" x2="969.7" y2="213.7" stroke="#3a3a3a" stroke-width="1"/>
<line x1="969.7" y1="31.5" x2="969.7" y2="213.7" stroke="#1f56a8" stroke-width="1"/>
<line x1="764.2" y1="213.7" x2="764.2" y2="217.2" stroke="#3a3a3a" stroke-width="1"/>
<line x1="764.2" y1="31.5" x2="764.2" y2="34" stroke="#3a3a3a" stroke-width="1"/>
<text x="764.2" y="229" font-size="11" fill="#1a1a1a" text-anchor="middle"  stroke="#1a1a1a" stroke-width="0.32">0</text>
<line x1="795.95" y1="213.7" x2="795.95" y2="215.7" stroke="#3a3a3a" stroke-width="1"/>
<line x1="795.95" y1="31.5" x2="795.95" y2="33" stroke="#3a3a3a" stroke-width="1"/>
<line x1="827.7" y1="213.7" x2="827.7" y2="217.2" stroke="#3a3a3a" stroke-width="1"/>
<line x1="827.7" y1="31.5" x2="827.7" y2="34" stroke="#3a3a3a" stroke-width="1"/>
<text x="827.7" y="229" font-size="11" fill="#1a1a1a" text-anchor="middle"  stroke="#1a1a1a" stroke-width="0.32">100</text>
<line x1="859.45" y1="213.7" x2="859.45" y2="215.7" stroke="#3a3a3a" stroke-width="1"/>
<line x1="859.45" y1="31.5" x2="859.45" y2="33" stroke="#3a3a3a" stroke-width="1"/>
<line x1="891.2" y1="213.7" x2="891.2" y2="217.2" stroke="#3a3a3a" stroke-width="1"/>
<line x1="891.2" y1="31.5" x2="891.2" y2="34" stroke="#3a3a3a" stroke-width="1"/>
<text x="891.2" y="229" font-size="11" fill="#1a1a1a" text-anchor="middle"  stroke="#1a1a1a" stroke-width="0.32">200</text>
<line x1="922.95" y1="213.7" x2="922.95" y2="215.7" stroke="#3a3a3a" stroke-width="1"/>
<line x1="922.95" y1="31.5" x2="922.95" y2="33" stroke="#3a3a3a" stroke-width="1"/>
<line x1="954.7" y1="213.7" x2="954.7" y2="217.2" stroke="#3a3a3a" stroke-width="1"/>
<line x1="954.7" y1="31.5" x2="954.7" y2="34" stroke="#3a3a3a" stroke-width="1"/>
<text x="954.7" y="229" font-size="11" fill="#1a1a1a" text-anchor="middle"  stroke="#1a1a1a" stroke-width="0.32">300</text>
<line x1="739" y1="205.62" x2="742.7" y2="205.62" stroke="#3a3a3a" stroke-width="1"/>
<text x="737" y="209.62" font-size="12" fill="#1a1a1a" text-anchor="end"  stroke="#1a1a1a" stroke-width="0.32">-1.6</text>
<line x1="740.7" y1="184.74" x2="742.7" y2="184.74" stroke="#3a3a3a" stroke-width="1"/>
<line x1="739" y1="163.86" x2="742.7" y2="163.86" stroke="#3a3a3a" stroke-width="1"/>
<text x="737" y="167.86" font-size="12" fill="#1a1a1a" text-anchor="end"  stroke="#1a1a1a" stroke-width="0.32">-0.8</text>
<line x1="740.7" y1="142.98" x2="742.7" y2="142.98" stroke="#3a3a3a" stroke-width="1"/>
<line x1="739" y1="122.1" x2="742.7" y2="122.1" stroke="#3a3a3a" stroke-width="1"/>
<text x="737" y="126.1" font-size="12" fill="#1a1a1a" text-anchor="end"  stroke="#1a1a1a" stroke-width="0.32">0.0</text>
<line x1="740.7" y1="101.22" x2="742.7" y2="101.22" stroke="#3a3a3a" stroke-width="1"/>
<line x1="739" y1="80.34" x2="742.7" y2="80.34" stroke="#3a3a3a" stroke-width="1"/>
<text x="737" y="84.34" font-size="12" fill="#1a1a1a" text-anchor="end"  stroke="#1a1a1a" stroke-width="0.32">0.8</text>
<line x1="740.7" y1="59.46" x2="742.7" y2="59.46" stroke="#3a3a3a" stroke-width="1"/>
<line x1="739" y1="38.58" x2="742.7" y2="38.58" stroke="#3a3a3a" stroke-width="1"/>
<text x="737" y="42.58" font-size="12" fill="#1a1a1a" text-anchor="end"  stroke="#1a1a1a" stroke-width="0.32">1.6</text>
<line x1="969.7" y1="213.3" x2="973.2" y2="213.3" stroke="#1f56a8" stroke-width="1"/>
<text x="974.5" y="217.1" font-size="11" fill="#1f56a8" text-anchor="start"  stroke="#1f56a8" stroke-width="0.32">-4</text>
<line x1="969.7" y1="190.6" x2="971.7" y2="190.6" stroke="#1f56a8" stroke-width="1"/>
<line x1="969.7" y1="167.9" x2="973.2" y2="167.9" stroke="#1f56a8" stroke-width="1"/>
<text x="974.5" y="171.7" font-size="11" fill="#1f56a8" text-anchor="start"  stroke="#1f56a8" stroke-width="0.32">-2</text>
<line x1="969.7" y1="145.2" x2="971.7" y2="145.2" stroke="#1f56a8" stroke-width="1"/>
<line x1="969.7" y1="122.5" x2="973.2" y2="122.5" stroke="#1f56a8" stroke-width="1"/>
<text x="974.5" y="126.3" font-size="11" fill="#1f56a8" text-anchor="start"  stroke="#1f56a8" stroke-width="0.32">0</text>
<line x1="969.7" y1="99.8" x2="971.7" y2="99.8" stroke="#1f56a8" stroke-width="1"/>
<line x1="969.7" y1="77.1" x2="973.2" y2="77.1" stroke="#1f56a8" stroke-width="1"/>
<text x="974.5" y="80.9" font-size="11" fill="#1f56a8" text-anchor="start"  stroke="#1f56a8" stroke-width="0.32">2</text>
<line x1="969.7" y1="54.4" x2="971.7" y2="54.4" stroke="#1f56a8" stroke-width="1"/>
<line x1="969.7" y1="31.7" x2="973.2" y2="31.7" stroke="#1f56a8" stroke-width="1"/>
<text x="974.5" y="35.5" font-size="11" fill="#1f56a8" text-anchor="start"  stroke="#1f56a8" stroke-width="0.32">4</text>
<text x="749" y="49" font-size="12" fill="#1a1a1a" text-anchor="start"  stroke="#1a1a1a" stroke-width="0.32">n-ITEM</text>
<text x="855" y="251" font-size="15" fill="#1a1a1a" text-anchor="middle"  stroke="#1a1a1a" stroke-width="0.32">Time / min</text>
<text transform="translate(703.5,122) rotate(-90)" font-size="15" fill="#1a1a1a" text-anchor="middle" stroke="#1a1a1a" stroke-width="0.32">V<tspan dy="3">thermo</tspan><tspan dy="-3"> / V</tspan></text>
<text transform="translate(1003,121) rotate(-90)" font-size="15" fill="#1f56a8" text-anchor="middle" stroke="#1f56a8" stroke-width="0.32">ΔT / K</text>
<path d="M764.2,115.8 L764.26,115.63 L764.33,115.47 L764.39,115.31 L764.45,115.16 L764.52,115.01 L764.58,114.86 L764.64,114.72 L764.71,114.57 L764.77,114.26 L764.84,113.76 L764.9,113.09 L764.96,112.3 L765.03,111.4 L765.09,110.41 L765.15,109.36 L765.22,108.26 L765.28,107.11 L765.34,105.94 L765.41,104.75 L765.47,103.54 L765.53,102.33 L765.6,101.13 L765.66,99.92 L765.72,98.73 L765.79,97.55 L765.85,96.39 L765.91,95.24 L765.98,94.12 L766.04,93.01 L766.11,91.93 L766.17,90.87 L766.23,89.83 L766.3,88.82 L766.36,87.83 L766.42,86.86 L766.49,85.92 L766.55,85 L766.61,84.11 L766.68,83.24 L766.74,82.4 L766.8,81.58 L766.87,80.78 L766.93,80 L766.99,79.24 L767.06,78.51 L767.12,77.8 L767.18,77.1 L767.25,76.43 L767.31,75.78 L767.38,75.14 L767.44,74.53 L767.5,73.93 L767.57,73.35 L767.63,72.78 L767.69,72.24 L767.76,71.71 L767.82,71.19 L767.88,70.69 L767.95,70.21 L768.01,69.74 L768.07,69.28 L768.14,68.84 L768.2,68.41 L768.26,67.99 L768.33,67.58 L768.39,67.19 L768.45,66.81 L768.52,66.44 L768.58,66.08 L768.64,65.73 L768.71,65.4 L768.77,65.07 L768.84,64.75 L768.9,64.44 L768.96,64.14 L769.03,63.85 L769.09,63.57 L769.15,63.3 L769.22,63.04 L769.28,62.78 L769.34,62.53 L769.41,62.29 L769.47,62.05 L769.53,61.83 L769.6,61.6 L769.66,61.39 L769.72,61.18 L769.79,60.98 L769.85,60.79 L769.91,60.6 L769.98,60.41 L770.04,60.23 L770.11,60.06 L770.17,59.89 L770.23,59.73 L770.3,59.74 L770.36,60 L770.42,60.47 L770.49,61.11 L770.55,61.9 L770.61,62.8 L770.68,63.8 L770.74,64.87 L770.8,66 L770.87,67.18 L770.93,68.38 L770.99,69.61 L771.06,70.86 L771.12,72.11 L771.18,73.36 L771.25,74.61 L771.31,75.85 L771.38,77.08 L771.44,78.29 L771.5,79.48 L771.57,80.66 L771.63,81.81 L771.69,82.94 L771.76,84.04 L771.82,85.13 L771.88,86.18 L771.95,87.22 L772.01,88.22 L772.07,89.2 L772.14,90.16 L772.2,91.09 L772.26,92 L772.33,92.88 L772.39,93.74 L772.45,94.58 L772.52,95.39 L772.58,96.18 L772.65,96.95 L772.71,97.69 L772.77,98.42 L772.84,99.12 L772.9,99.8 L772.96,100.47 L773.03,101.11 L773.09,101.74 L773.15,102.34 L773.22,102.93 L773.28,103.5 L773.34,104.06 L773.41,104.6 L773.47,105.12 L773.53,105.63 L773.6,106.12 L773.66,106.6 L773.72,107.06 L773.79,107.51 L773.85,107.95 L773.92,108.37 L773.98,108.78 L774.04,109.18 L774.11,109.57 L774.17,109.94 L774.23,110.3 L774.3,110.66 L774.36,111 L774.42,111.33 L774.49,111.65 L774.55,111.97 L774.61,112.27 L774.68,112.56 L774.74,112.85 L774.8,113.13 L774.87,113.4 L774.93,113.66 L774.99,113.91 L775.06,114.15 L775.12,114.39 L775.19,114.62 L775.25,114.85 L775.31,115.06 L775.38,115.27 L775.44,115.48 L775.5,115.68 L775.57,115.87 L775.63,116.06 L775.69,116.24 L775.76,116.41 L775.82,116.58 L775.88,116.75 L775.95,116.91 L776.01,117.06 L776.07,117.21 L776.14,117.36 L776.2,117.5 L776.26,117.64 L776.33,117.77 L776.39,117.9 L776.46,118.03 L776.52,118.15 L776.58,118.27 L776.65,118.38 L776.71,118.49 L776.77,118.6 L776.84,118.71 L776.9,118.81 L776.96,118.91 L777.03,119 L777.09,119.1 L777.15,119.19 L777.22,119.27 L777.28,119.36 L777.34,119.44 L777.41,119.52 L777.47,119.6 L777.53,119.67 L777.6,119.74 L777.66,119.81 L777.73,119.88 L777.79,119.95 L777.85,120.01 L777.92,120.08 L777.98,120.14 L778.04,120.2 L778.11,120.25 L778.17,120.31 L778.23,120.36 L778.3,120.41 L778.36,120.46 L778.42,120.51 L778.49,120.56 L778.55,120.61 L778.61,120.65 L778.68,120.69 L778.74,120.74 L778.8,120.78 L778.87,120.82 L778.93,120.86 L779,120.89 L779.06,120.93 L779.12,120.96 L779.19,121 L779.25,121.03 L779.31,121.06 L779.38,121.09 L779.44,121.12 L779.5,121.15 L779.57,121.18 L779.63,121.21 L779.69,121.24 L779.76,121.26 L779.82,121.29 L779.88,121.31 L779.95,121.33 L780.01,121.36 L780.07,121.38 L780.14,121.4 L780.2,121.42 L780.27,121.44 L780.33,121.46 L780.39,121.48 L780.46,121.5 L780.52,121.52 L780.58,121.54 L780.65,121.55 L780.71,121.57 L780.77,121.58 L780.84,121.6 L780.9,121.61 L780.96,121.63 L781.03,121.64 L781.09,121.84 L781.15,122.31 L781.22,123 L781.28,123.87 L781.34,124.9 L781.41,126.05 L781.47,127.3 L781.54,128.63 L781.6,130.01 L781.66,131.45 L781.73,132.91 L781.79,134.39 L781.85,135.89 L781.92,137.39 L781.98,138.88 L782.04,140.37 L782.11,141.84 L782.17,143.3 L782.23,144.74 L782.3,146.15 L782.36,147.54 L782.42,148.9 L782.49,150.24 L782.55,151.54 L782.61,152.82 L782.68,154.07 L782.74,155.28 L782.81,156.47 L782.87,157.63 L782.93,158.75 L783,159.85 L783.06,160.92 L783.12,161.96 L783.19,162.97 L783.25,163.95 L783.31,164.91 L783.38,165.84 L783.44,166.74 L783.5,167.62 L783.57,168.47 L783.63,169.29 L783.69,170.1 L783.76,170.88 L783.82,171.63 L783.88,172.37 L783.95,173.08 L784.01,173.77 L784.08,174.45 L784.14,175.1 L784.2,175.73 L784.27,176.34 L784.33,176.94 L784.39,177.52 L784.46,178.08 L784.52,178.62 L784.58,179.15 L784.65,179.67 L784.71,180.16 L784.77,180.64 L784.84,181.11 L784.9,181.57 L784.96,182.01 L785.03,182.44 L785.09,182.85 L785.15,183.25 L785.22,183.64 L785.28,184.02 L785.35,184.39 L785.41,184.74 L785.47,185.09 L785.54,185.43 L785.6,185.75 L785.66,186.07 L785.73,186.37 L785.79,186.67 L785.85,186.96 L785.92,187.24 L785.98,187.51 L786.04,187.77 L786.11,188.03 L786.17,188.09 L786.23,187.88 L786.3,187.43 L786.36,186.79 L786.42,186 L786.49,185.07 L786.55,184.04 L786.62,182.92 L786.68,181.74 L786.74,180.51 L786.81,179.24 L786.87,177.94 L786.93,176.63 L787,175.31 L787.06,173.98 L787.12,172.66 L787.19,171.35 L787.25,170.04 L787.31,168.76 L787.38,167.49 L787.44,166.25 L787.5,165.02 L787.57,163.82 L787.63,162.64 L787.7,161.49 L787.76,160.37 L787.82,159.27 L787.89,158.2 L787.95,157.15 L788.01,156.13 L788.08,155.14 L788.14,154.17 L788.2,153.23 L788.27,152.32 L788.33,151.43 L788.39,150.56 L788.46,149.72 L788.52,148.9 L788.58,148.11 L788.65,147.34 L788.71,146.59 L788.77,145.86 L788.84,145.15 L788.9,144.47 L788.97,143.8 L789.03,143.16 L789.09,142.53 L789.16,141.92 L789.22,141.33 L789.28,140.75 L789.35,140.2 L789.41,139.66 L789.47,139.13 L789.54,138.62 L789.6,138.13 L789.66,137.65 L789.73,137.18 L789.79,136.73 L789.85,136.3 L789.92,135.87 L789.98,135.46 L790.04,135.06 L790.11,134.67 L790.17,134.3 L790.24,133.93 L790.3,133.58 L790.36,133.23 L790.43,132.9 L790.49,132.58 L790.55,132.26 L790.62,131.96 L790.68,131.66 L790.74,131.38 L790.81,131.1 L790.87,130.83 L790.93,130.57 L791,130.32 L791.06,130.07 L791.12,129.83 L791.19,129.6 L791.25,129.38 L791.31,129.16 L791.38,128.95 L791.44,128.74 L791.51,128.54 L791.57,128.35 L791.63,128.16 L791.7,127.98 L791.76,127.8 L791.82,127.63 L791.89,127.47 L791.95,127.31 L792.01,127.15 L792.08,127 L792.14,126.85 L792.2,126.71 L792.27,126.57 L792.33,126.44 L792.39,126.31 L792.46,126.18 L792.52,126.06 L792.58,125.94 L792.65,125.83 L792.71,125.72 L792.78,125.61 L792.84,125.5 L792.9,125.4 L792.97,125.3 L793.03,125.21 L793.09,125.11 L793.16,125.02 L793.22,124.94 L793.28,124.85 L793.35,124.77 L793.41,124.69 L793.47,124.61 L793.54,124.54 L793.6,124.46 L793.66,124.39 L793.73,124.32 L793.79,124.26 L793.85,124.19 L793.92,124.13 L793.98,124.07 L794.05,124.01 L794.11,123.95 L794.17,123.9 L794.24,123.84 L794.3,123.79 L794.36,123.74 L794.43,123.69 L794.49,123.64 L794.55,123.6 L794.62,123.55 L794.68,123.51 L794.74,123.47 L794.81,123.43 L794.87,123.39 L794.93,123.35 L795,123.31 L795.06,123.27 L795.12,123.24 L795.19,123.21 L795.25,123.17 L795.32,123.14 L795.38,123.11 L795.44,123.08 L795.51,123.05 L795.57,123.02 L795.63,122.99 L795.7,122.97 L795.76,122.94 L795.82,122.92 L795.89,122.89 L795.95,122.87 L796.01,122.78 L796.08,122.43 L796.14,121.87 L796.2,121.13 L796.27,120.23 L796.33,119.22 L796.39,118.1 L796.46,116.91 L796.52,115.66 L796.59,114.36 L796.65,113.03 L796.71,111.68 L796.78,110.31 L796.84,108.93 L796.9,107.56 L796.97,106.2 L797.03,104.84 L797.09,103.5 L797.16,102.18 L797.22,100.87 L797.28,99.59 L797.35,98.33 L797.41,97.1 L797.47,95.9 L797.54,94.72 L797.6,93.56 L797.66,92.44 L797.73,91.34 L797.79,90.27 L797.86,89.23 L797.92,88.21 L797.98,87.22 L798.05,86.26 L798.11,85.32 L798.17,84.41 L798.24,83.53 L798.3,82.67 L798.36,81.83 L798.43,81.02 L798.49,80.23 L798.55,79.47 L798.62,78.72 L798.68,78 L798.74,77.3 L798.81,76.62 L798.87,75.96 L798.93,75.32 L799,74.7 L799.06,74.09 L799.13,73.51 L799.19,72.94 L799.25,72.38 L799.32,71.85 L799.38,71.33 L799.44,70.82 L799.51,70.33 L799.57,69.86 L799.63,69.4 L799.7,68.95 L799.76,68.52 L799.82,68.1 L799.89,67.69 L799.95,67.29 L800.01,66.91 L800.08,66.54 L800.14,66.18 L800.2,65.82 L800.27,65.48 L800.33,65.15 L800.4,64.83 L800.46,64.52 L800.52,64.22 L800.59,63.93 L800.65,63.65 L800.71,63.37 L800.78,63.1 L800.84,62.84 L800.9,62.59 L800.97,62.35 L801.03,62.11 L801.09,61.88 L801.16,61.66 L801.22,61.45 L801.28,61.24 L801.35,61.03 L801.41,60.84 L801.47,60.65 L801.54,60.53 L801.6,60.67 L801.67,61.04 L801.73,61.59 L801.79,62.3 L801.86,63.14 L801.92,64.08 L801.98,65.1 L802.05,66.19 L802.11,67.33 L802.17,68.51 L802.24,69.71 L802.3,70.93 L802.36,72.17 L802.43,73.4 L802.49,74.64 L802.55,75.86 L802.62,77.08 L802.68,78.28 L802.74,79.47 L802.81,80.64 L802.87,81.79 L802.94,82.91 L803,84.01 L803.06,85.09 L803.13,86.15 L803.19,87.18 L803.25,88.19 L803.32,89.17 L803.38,90.12 L803.44,91.06 L803.51,91.96 L803.57,92.85 L803.63,93.71 L803.7,94.54 L803.76,95.35 L803.82,96.14 L803.89,96.91 L803.95,97.66 L804.01,98.38 L804.08,99.09 L804.14,99.77 L804.21,100.43 L804.27,101.08 L804.33,101.71 L804.4,102.31 L804.46,102.9 L804.52,103.48 L804.59,104.03 L804.65,104.57 L804.71,105.09 L804.78,105.6 L804.84,106.09 L804.9,106.57 L804.97,107.04 L805.03,107.49 L805.09,107.92 L805.16,108.35 L805.22,108.76 L805.28,109.16 L805.35,109.55 L805.41,109.92 L805.48,110.29 L805.54,110.64 L805.6,110.98 L805.67,111.31 L805.73,111.64 L805.79,111.95 L805.86,112.25 L805.92,112.55 L805.98,112.83 L806.05,113.11 L806.11,113.38 L806.17,113.64 L806.24,113.9 L806.3,114.14 L806.36,114.38 L806.43,114.61 L806.49,114.83 L806.55,115.05 L806.62,115.26 L806.68,115.47 L806.75,115.67 L806.81,115.86 L806.87,116.05 L806.94,116.23 L807,116.4 L807.06,116.57 L807.13,116.74 L807.19,116.9 L807.25,117.05 L807.32,117.21 L807.38,117.35 L807.44,117.49 L807.51,117.63 L807.57,117.77 L807.63,117.9 L807.7,118.02 L807.76,118.14 L807.82,118.26 L807.89,118.38 L807.95,118.49 L808.02,118.6 L808.08,118.7 L808.14,118.8 L808.21,118.9 L808.27,119 L808.33,119.09 L808.4,119.18 L808.46,119.27 L808.52,119.35 L808.59,119.44 L808.65,119.51 L808.71,119.59 L808.78,119.67 L808.84,119.74 L808.9,119.81 L808.97,119.88 L809.03,119.95 L809.09,120.01 L809.16,120.07 L809.22,120.13 L809.29,120.19 L809.35,120.25 L809.41,120.31 L809.48,120.36 L809.54,120.41 L809.6,120.46 L809.67,120.51 L809.73,120.56 L809.79,120.6 L809.86,120.65 L809.92,120.69 L809.98,120.73 L810.05,120.78 L810.11,120.82 L810.17,120.85 L810.24,120.89 L810.3,120.93 L810.36,120.96 L810.43,121 L810.49,121.03 L810.56,121.06 L810.62,121.09 L810.68,121.12 L810.75,121.15 L810.81,121.18 L810.87,121.21 L810.94,121.23 L811,121.26 L811.06,121.29 L811.13,121.31 L811.19,121.33 L811.25,121.36 L811.32,121.38 L811.38,121.4 L811.44,121.42 L811.51,121.44 L811.57,121.46 L811.63,121.48 L811.7,121.5 L811.76,121.52 L811.83,121.53 L811.89,121.55 L811.95,121.57 L812.02,121.58 L812.08,121.6 L812.14,121.61 L812.21,121.63 L812.27,121.64 L812.33,121.73 L812.4,122.1 L812.46,122.7 L812.52,123.51 L812.59,124.48 L812.65,125.58 L812.71,126.79 L812.78,128.09 L812.84,129.46 L812.9,130.87 L812.97,132.32 L813.03,133.8 L813.1,135.29 L813.16,136.79 L813.22,138.29 L813.29,139.78 L813.35,141.26 L813.41,142.72 L813.48,144.17 L813.54,145.59 L813.6,146.99 L813.67,148.36 L813.73,149.71 L813.79,151.03 L813.86,152.31 L813.92,153.57 L813.98,154.8 L814.05,156 L814.11,157.17 L814.17,158.31 L814.24,159.42 L814.3,160.5 L814.37,161.55 L814.43,162.57 L814.49,163.57 L814.56,164.53 L814.62,165.47 L814.68,166.38 L814.75,167.27 L814.81,168.13 L814.87,168.97 L814.94,169.78 L815,170.57 L815.06,171.33 L815.13,172.08 L815.19,172.8 L815.25,173.5 L815.32,174.18 L815.38,174.84 L815.44,175.48 L815.51,176.1 L815.57,176.71 L815.64,177.29 L815.7,177.86 L815.76,178.41 L815.83,178.94 L815.89,179.46 L815.95,179.97 L816.02,180.45 L816.08,180.93 L816.14,181.39 L816.21,181.83 L816.27,182.27 L816.33,182.69 L816.4,183.09 L816.46,183.49 L816.52,183.87 L816.59,184.24 L816.65,184.6 L816.71,184.95 L816.78,185.29 L816.84,185.62 L816.91,185.94 L816.97,186.25 L817.03,186.55 L817.1,186.84 L817.16,187.13 L817.22,187.4 L817.29,187.67 L817.35,187.93 L817.41,188.1 L817.48,187.99 L817.54,187.63 L817.6,187.07 L817.67,186.33 L817.73,185.46 L817.79,184.46 L817.86,183.38 L817.92,182.22 L817.98,181.01 L818.05,179.75 L818.11,178.46 L818.18,177.16 L818.24,175.84 L818.3,174.51 L818.37,173.19 L818.43,171.87 L818.49,170.56 L818.56,169.27 L818.62,168 L818.68,166.74 L818.75,165.51 L818.81,164.3 L818.87,163.11 L818.94,161.95 L819,160.81 L819.06,159.71 L819.13,158.62 L819.19,157.57 L819.25,156.54 L819.32,155.53 L819.38,154.56 L819.44,153.61 L819.51,152.68 L819.57,151.78 L819.64,150.91 L819.7,150.06 L819.76,149.23 L819.83,148.43 L819.89,147.64 L819.95,146.89 L820.02,146.15 L820.08,145.44 L820.14,144.74 L820.21,144.07 L820.27,143.41 L820.33,142.78 L820.4,142.16 L820.46,141.56 L820.52,140.98 L820.59,140.42 L820.65,139.87 L820.71,139.34 L820.78,138.82 L820.84,138.32 L820.91,137.84 L820.97,137.37 L821.03,136.91 L821.1,136.47 L821.16,136.04 L821.22,135.62 L821.29,135.22 L821.35,134.83 L821.41,134.44 L821.48,134.08 L821.54,133.72 L821.6,133.37 L821.67,133.03 L821.73,132.71 L821.79,132.39 L821.86,132.08 L821.92,131.78 L821.98,131.49 L822.05,131.21 L822.11,130.94 L822.18,130.67 L822.24,130.42 L822.3,130.17 L822.37,129.93 L822.43,129.69 L822.49,129.46 L822.56,129.24 L822.62,129.03 L822.68,128.82 L822.75,128.62 L822.81,128.43 L822.87,128.24 L822.94,128.05 L823,127.87 L823.06,127.7 L823.13,127.53 L823.19,127.37 L823.25,127.21 L823.32,127.06 L823.38,126.91 L823.45,126.77 L823.51,126.63 L823.57,126.49 L823.64,126.36 L823.7,126.23 L823.76,126.11 L823.83,125.99 L823.89,125.87 L823.95,125.76 L824.02,125.65 L824.08,125.54 L824.14,125.44 L824.21,125.34 L824.27,125.24 L824.33,125.15 L824.4,125.06 L824.46,124.97 L824.52,124.88 L824.59,124.8 L824.65,124.72 L824.72,124.64 L824.78,124.57 L824.84,124.49 L824.91,124.42 L824.97,124.35 L825.03,124.28 L825.1,124.22 L825.16,124.15 L825.22,124.09 L825.29,124.03 L825.35,123.98 L825.41,123.92 L825.48,123.86 L825.54,123.81 L825.6,123.76 L825.67,123.71 L825.73,123.66 L825.79,123.62 L825.86,123.57 L825.92,123.53 L825.99,123.48 L826.05,123.44 L826.11,123.4 L826.18,123.36 L826.24,123.33 L826.3,123.29 L826.37,123.25 L826.43,123.22 L826.49,123.19 L826.56,123.15 L826.62,123.12 L826.68,123.09 L826.75,123.06 L826.81,123.03 L826.87,123 L826.94,122.98 L827,122.95 L827.06,122.93 L827.13,122.9 L827.19,122.88 L827.26,122.85 L827.32,122.66 L827.38,122.23 L827.45,121.59 L827.51,120.78 L827.57,119.84 L827.64,118.78 L827.7,117.63 L827.76,116.41 L827.83,115.14 L827.89,113.83 L827.95,112.49 L828.02,111.13 L828.08,109.76 L828.14,108.38 L828.21,107.01 L828.27,105.65 L828.33,104.3 L828.4,102.97 L828.46,101.65 L828.53,100.36 L828.59,99.08 L828.65,97.84 L828.72,96.61 L828.78,95.42 L828.84,94.25 L828.91,93.11 L828.97,91.99 L829.03,90.91 L829.1,89.85 L829.16,88.81 L829.22,87.81 L829.29,86.83 L829.35,85.88 L829.41,84.96 L829.48,84.06 L829.54,83.18 L829.6,82.33 L829.67,81.51 L829.73,80.7 L829.8,79.92 L829.86,79.17 L829.92,78.43 L829.99,77.72 L830.05,77.03 L830.11,76.35 L830.18,75.7 L830.24,75.07 L830.3,74.45 L830.37,73.85 L830.43,73.27 L830.49,72.71 L830.56,72.17 L830.62,71.64 L830.68,71.12 L830.75,70.63 L830.81,70.14 L830.87,69.67 L830.94,69.22 L831,68.78 L831.07,68.35 L831.13,67.93 L831.19,67.53 L831.26,67.14 L831.32,66.76 L831.38,66.39 L831.45,66.03 L831.51,65.69 L831.57,65.35 L831.64,65.02 L831.7,64.71 L831.76,64.4 L831.83,64.1 L831.89,63.81 L831.95,63.53 L832.02,63.26 L832.08,63 L832.14,62.74 L832.21,62.49 L832.27,62.25 L832.34,62.02 L832.4,61.79 L832.46,61.57 L832.53,61.36 L832.59,61.15 L832.65,60.95 L832.72,60.76 L832.78,60.57 L832.84,60.55 L832.91,60.79 L832.97,61.24 L833.03,61.86 L833.1,62.62 L833.16,63.5 L833.22,64.48 L833.29,65.53 L833.35,66.64 L833.41,67.8 L833.48,68.98 L833.54,70.2 L833.61,71.43 L833.67,72.66 L833.73,73.9 L833.8,75.13 L833.86,76.35 L833.92,77.56 L833.99,78.76 L834.05,79.94 L834.11,81.1 L834.18,82.24 L834.24,83.35 L834.3,84.45 L834.37,85.52 L834.43,86.56 L834.49,87.58 L834.56,88.58 L834.62,89.55 L834.68,90.5 L834.75,91.42 L834.81,92.32 L834.88,93.19 L834.94,94.04 L835,94.87 L835.07,95.67 L835.13,96.45 L835.19,97.21 L835.26,97.95 L835.32,98.67 L835.38,99.36 L835.45,100.04 L835.51,100.69 L835.57,101.33 L835.64,101.95 L835.7,102.55 L835.76,103.13 L835.83,103.7 L835.89,104.25 L835.95,104.78 L836.02,105.3 L836.08,105.8 L836.15,106.29 L836.21,106.76 L836.27,107.22 L836.34,107.66 L836.4,108.1 L836.46,108.51 L836.53,108.92 L836.59,109.31 L836.65,109.7 L836.72,110.07 L836.78,110.43 L836.84,110.78 L836.91,111.12 L836.97,111.44 L837.03,111.76 L837.1,112.07 L837.16,112.37 L837.22,112.66 L837.29,112.95 L837.35,113.22 L837.42,113.49 L837.48,113.74 L837.54,113.99 L837.61,114.24 L837.67,114.47 L837.73,114.7 L837.8,114.92 L837.86,115.14 L837.92,115.35 L837.99,115.55 L838.05,115.74 L838.11,115.93 L838.18,116.12 L838.24,116.3 L838.3,116.47 L838.37,116.64 L838.43,116.8 L838.49,116.96 L838.56,117.12 L838.62,117.26 L838.69,117.41 L838.75,117.55 L838.81,117.69 L838.88,117.82 L838.94,117.95 L839,118.07 L839.07,118.19 L839.13,118.31 L839.19,118.42 L839.26,118.53 L839.32,118.64 L839.38,118.74 L839.45,118.84 L839.51,118.94 L839.57,119.04 L839.64,119.13 L839.7,119.22 L839.76,119.3 L839.83,119.39 L839.89,119.47 L839.96,119.55 L840.02,119.62 L840.08,119.7 L840.15,119.77 L840.21,119.84 L840.27,119.91 L840.34,119.97 L840.4,120.04 L840.46,120.1 L840.53,120.16 L840.59,120.22 L840.65,120.27 L840.72,120.33 L840.78,120.38 L840.84,120.43 L840.91,120.48 L840.97,120.53 L841.03,120.58 L841.1,120.62 L841.16,120.67 L841.23,120.71 L841.29,120.75 L841.35,120.79 L841.42,120.83 L841.48,120.87 L841.54,120.91 L841.61,120.94 L841.67,120.98 L841.73,121.01 L841.8,121.04 L841.86,121.07 L841.92,121.1 L841.99,121.13 L842.05,121.16 L842.11,121.19 L842.18,121.22 L842.24,121.24 L842.3,121.27 L842.37,121.3 L842.43,121.32 L842.5,121.34 L842.56,121.37 L842.62,121.39 L842.69,121.41 L842.75,121.43 L842.81,121.45 L842.88,121.47 L842.94,121.49 L843,121.51 L843.07,121.52 L843.13,121.54 L843.19,121.56 L843.26,121.57 L843.32,121.59 L843.38,121.61 L843.45,121.62 L843.51,121.63 L843.57,121.65 L843.64,121.85 L843.7,122.31 L843.77,123 L843.83,123.88 L843.89,124.91 L843.96,126.06 L844.02,127.3 L844.08,128.63 L844.15,130.02 L844.21,131.45 L844.27,132.91 L844.34,134.4 L844.4,135.89 L844.46,137.39 L844.53,138.89 L844.59,140.37 L844.65,141.85 L844.72,143.3 L844.78,144.74 L844.84,146.15 L844.91,147.54 L844.97,148.9 L845.04,150.24 L845.1,151.55 L845.16,152.82 L845.23,154.07 L845.29,155.29 L845.35,156.47 L845.42,157.63 L845.48,158.76 L845.54,159.85 L845.61,160.92 L845.67,161.96 L845.73,162.97 L845.8,163.96 L845.86,164.91 L845.92,165.84 L845.99,166.74 L846.05,167.62 L846.11,168.47 L846.18,169.3 L846.24,170.1 L846.31,170.88 L846.37,171.63 L846.43,172.37 L846.5,173.08 L846.56,173.78 L846.62,174.45 L846.69,175.1 L846.75,175.73 L846.81,176.35 L846.88,176.94 L846.94,177.52 L847,178.08 L847.07,178.63 L847.13,179.15 L847.19,179.67 L847.26,180.16 L847.32,180.65 L847.38,181.11 L847.45,181.57 L847.51,182.01 L847.58,182.44 L847.64,182.85 L847.7,183.25 L847.77,183.64 L847.83,184.02 L847.89,184.39 L847.96,184.74 L848.02,185.09 L848.08,185.43 L848.15,185.75 L848.21,186.07 L848.27,186.37 L848.34,186.67 L848.4,186.96 L848.46,187.24 L848.53,187.51 L848.59,187.77 L848.65,188.03 L848.72,188.09 L848.78,187.88 L848.85,187.43 L848.91,186.79 L848.97,186 L849.04,185.07 L849.1,184.04 L849.16,182.93 L849.23,181.74 L849.29,180.51 L849.35,179.24 L849.42,177.94 L849.48,176.63 L849.54,175.31 L849.61,173.98 L849.67,172.66 L849.73,171.35 L849.8,170.05 L849.86,168.76 L849.92,167.49 L849.99,166.25 L850.05,165.02 L850.12,163.82 L850.18,162.64 L850.24,161.49 L850.31,160.37 L850.37,159.27 L850.43,158.2 L850.5,157.15 L850.56,156.13 L850.62,155.14 L850.69,154.17 L850.75,153.23 L850.81,152.32 L850.88,151.43 L850.94,150.56 L851,149.72 L851.07,148.9 L851.13,148.11 L851.19,147.34 L851.26,146.59 L851.32,145.86 L851.39,145.15 L851.45,144.47 L851.51,143.8 L851.58,143.16 L851.64,142.53 L851.7,141.92 L851.77,141.33 L851.83,140.75 L851.89,140.2 L851.96,139.66 L852.02,139.13 L852.08,138.62 L852.15,138.13 L852.21,137.65 L852.27,137.18 L852.34,136.73 L852.4,136.3 L852.46,135.87 L852.53,135.46 L852.59,135.06 L852.66,134.67 L852.72,134.3 L852.78,133.93 L852.85,133.58 L852.91,133.23 L852.97,132.9 L853.04,132.58 L853.1,132.26 L853.16,131.96 L853.23,131.66 L853.29,131.38 L853.35,131.1 L853.42,130.83 L853.48,130.57 L853.54,130.32 L853.61,130.07 L853.67,129.83 L853.73,129.6 L853.8,129.38 L853.86,129.16 L853.93,128.95 L853.99,128.74 L854.05,128.54 L854.12,128.35 L854.18,128.16 L854.24,127.98 L854.31,127.81 L854.37,127.63 L854.43,127.47 L854.5,127.31 L854.56,127.15 L854.62,127 L854.69,126.85 L854.75,126.71 L854.81,126.57 L854.88,126.44 L854.94,126.31 L855,126.18 L855.07,126.06 L855.13,125.94 L855.2,125.83 L855.26,125.72 L855.32,125.61 L855.39,125.5 L855.45,125.4 L855.51,125.3 L855.58,125.21 L855.64,125.11 L855.7,125.02 L855.77,124.94 L855.83,124.85 L855.89,124.77 L855.96,124.69 L856.02,124.61 L856.08,124.54 L856.15,124.46 L856.21,124.39 L856.28,124.32 L856.34,124.26 L856.4,124.19 L856.47,124.13 L856.53,124.07 L856.59,124.01 L856.66,123.95 L856.72,123.9 L856.78,123.84 L856.85,123.79 L856.91,123.74 L856.97,123.69 L857.04,123.64 L857.1,123.6 L857.16,123.55 L857.23,123.51 L857.29,123.47 L857.35,123.43 L857.42,123.39 L857.48,123.35 L857.55,123.31 L857.61,123.27 L857.67,123.24 L857.74,123.21 L857.8,123.17 L857.86,123.14 L857.93,123.11 L857.99,123.08 L858.05,123.05 L858.12,123.02 L858.18,122.99 L858.24,122.97 L858.31,122.94 L858.37,122.92 L858.43,122.89 L858.5,122.87 L858.56,122.8 L858.62,122.58 L858.69,122.22 L858.75,121.75 L858.82,121.19 L858.88,120.55 L858.94,119.85 L859.01,119.1 L859.07,118.32 L859.13,117.51 L859.2,116.67 L859.26,115.83 L859.32,114.97 L859.39,114.11 L859.45,113.25 L859.51,112.4 L859.58,111.55 L859.64,110.71 L859.7,109.89 L859.77,109.07 L859.83,108.27 L859.89,107.49 L859.96,106.72 L860.02,105.96 L860.09,105.23 L860.15,104.5 L860.21,103.8 L860.28,103.12 L860.34,102.45 L860.4,101.8 L860.47,101.16 L860.53,100.54 L860.59,99.94 L860.66,99.36 L860.72,98.79 L860.78,98.24 L860.85,97.7 L860.91,97.18 L860.97,96.67 L861.04,96.18 L861.1,95.7 L861.16,95.24 L861.23,94.79 L861.29,94.35 L861.36,93.92 L861.42,93.51 L861.48,93.11 L861.55,92.72 L861.61,92.34 L861.67,91.98 L861.74,91.62 L861.8,91.28 L861.86,90.94 L861.93,90.62 L861.99,90.3 L862.05,90 L862.12,89.7 L862.18,89.41 L862.24,89.13 L862.31,88.86 L862.37,88.6 L862.43,88.35 L862.5,88.1 L862.56,87.86 L862.63,87.63 L862.69,87.4 L862.75,87.18 L862.82,86.97 L862.88,86.76 L862.94,86.56 L863.01,86.37 L863.07,86.18 L863.13,86 L863.2,85.82 L863.26,85.65 L863.32,85.48 L863.39,85.32 L863.45,85.16 L863.51,85.01 L863.58,84.86 L863.64,84.72 L863.7,84.58 L863.77,84.45 L863.83,84.32 L863.9,84.19 L863.96,84.07 L864.02,83.95 L864.09,83.87 L864.15,83.96 L864.21,84.19 L864.28,84.53 L864.34,84.97 L864.4,85.49 L864.47,86.07 L864.53,86.71 L864.59,87.38 L864.66,88.09 L864.72,88.82 L864.78,89.57 L864.85,90.33 L864.91,91.1 L864.97,91.86 L865.04,92.63 L865.1,93.39 L865.17,94.15 L865.23,94.89 L865.29,95.63 L865.36,96.36 L865.42,97.07 L865.48,97.77 L865.55,98.45 L865.61,99.12 L865.67,99.78 L865.74,100.42 L865.8,101.04 L865.86,101.65 L865.93,102.25 L865.99,102.82 L866.05,103.39 L866.12,103.94 L866.18,104.47 L866.24,104.99 L866.31,105.49 L866.37,105.98 L866.44,106.46 L866.5,106.92 L866.56,107.37 L866.63,107.81 L866.69,108.24 L866.75,108.65 L866.82,109.05 L866.88,109.44 L866.94,109.81 L867.01,110.18 L867.07,110.54 L867.13,110.88 L867.2,111.22 L867.26,111.54 L867.32,111.86 L867.39,112.16 L867.45,112.46 L867.51,112.75 L867.58,113.03 L867.64,113.3 L867.71,113.56 L867.77,113.82 L867.83,114.06 L867.9,114.3 L867.96,114.54 L868.02,114.76 L868.09,114.98 L868.15,115.2 L868.21,115.4 L868.28,115.6 L868.34,115.8 L868.4,115.99 L868.47,116.17 L868.53,116.35 L868.59,116.52 L868.66,116.69 L868.72,116.85 L868.78,117.01 L868.85,117.16 L868.91,117.31 L868.98,117.45 L869.04,117.59 L869.1,117.72 L869.17,117.85 L869.23,117.98 L869.29,118.11 L869.36,118.22 L869.42,118.34 L869.48,118.45 L869.55,118.56 L869.61,118.67 L869.67,118.77 L869.74,118.87 L869.8,118.97 L869.86,119.06 L869.93,119.15 L869.99,119.24 L870.05,119.33 L870.12,119.41 L870.18,119.49 L870.25,119.57 L870.31,119.64 L870.37,119.72 L870.44,119.79 L870.5,119.86 L870.56,119.92 L870.63,119.99 L870.69,120.05 L870.75,120.11 L870.82,120.17 L870.88,120.23 L870.94,120.29 L871.01,120.34 L871.07,120.39 L871.13,120.45 L871.2,120.49 L871.26,120.54 L871.32,120.59 L871.39,120.63 L871.45,120.68 L871.52,120.72 L871.58,120.76 L871.64,120.8 L871.71,120.84 L871.77,120.88 L871.83,120.92 L871.9,120.95 L871.96,120.99 L872.02,121.02 L872.09,121.05 L872.15,121.08 L872.21,121.11 L872.28,121.14 L872.34,121.17 L872.4,121.2 L872.47,121.23 L872.53,121.25 L872.59,121.28 L872.66,121.3 L872.72,121.33 L872.79,121.35 L872.85,121.37 L872.91,121.39 L872.98,121.41 L873.04,121.44 L873.1,121.46 L873.17,121.47 L873.23,121.49 L873.29,121.51 L873.36,121.53 L873.42,121.55 L873.48,121.56 L873.55,121.58 L873.61,121.59 L873.67,121.61 L873.74,121.62 L873.8,121.64 L873.86,121.65 L873.93,121.67 L873.99,121.68 L874.06,121.69 L874.12,121.7 L874.18,121.72 L874.25,121.73 L874.31,121.74 L874.37,121.75 L874.44,121.76 L874.5,121.77 L874.56,121.78 L874.63,121.79 L874.69,121.8 L874.75,121.81 L874.82,121.82 L874.88,121.86 L874.94,122.06 L875.01,122.38 L875.07,122.8 L875.13,123.32 L875.2,123.9 L875.26,124.54 L875.33,125.23 L875.39,125.95 L875.45,126.69 L875.52,127.46 L875.58,128.24 L875.64,129.03 L875.71,129.82 L875.77,130.61 L875.83,131.4 L875.9,132.18 L875.96,132.95 L876.02,133.71 L876.09,134.47 L876.15,135.2 L876.21,135.93 L876.28,136.64 L876.34,137.33 L876.4,138.02 L876.47,138.68 L876.53,139.33 L876.6,139.96 L876.66,140.58 L876.72,141.18 L876.79,141.77 L876.85,142.34 L876.91,142.89 L876.98,143.43 L877.04,143.95 L877.1,144.46 L877.17,144.96 L877.23,145.44 L877.29,145.91 L877.36,146.36 L877.42,146.81 L877.48,147.23 L877.55,147.65 L877.61,148.06 L877.67,148.45 L877.74,148.83 L877.8,149.2 L877.87,149.56 L877.93,149.91 L877.99,150.24 L878.06,150.57 L878.12,150.89 L878.18,151.2 L878.25,151.5 L878.31,151.79 L878.37,152.07 L878.44,152.35 L878.5,152.61 L878.56,152.87 L878.63,153.12 L878.69,153.36 L878.75,153.6 L878.82,153.83 L878.88,154.05 L878.94,154.26 L879.01,154.47 L879.07,154.67 L879.14,154.87 L879.2,155.06 L879.26,155.24 L879.33,155.42 L879.39,155.6 L879.45,155.77 L879.52,155.93 L879.58,156.09 L879.64,156.24 L879.71,156.39 L879.77,156.54 L879.83,156.68 L879.9,156.81 L879.96,156.9 L880.02,156.85 L880.09,156.66 L880.15,156.36 L880.21,155.97 L880.28,155.51 L880.34,154.99 L880.41,154.42 L880.47,153.81 L880.53,153.17 L880.6,152.5 L880.66,151.82 L880.72,151.13 L880.79,150.44 L880.85,149.74 L880.91,149.04 L880.98,148.35 L881.04,147.66 L881.1,146.98 L881.17,146.3 L881.23,145.64 L881.29,144.99 L881.36,144.35 L881.42,143.73 L881.48,143.12 L881.55,142.52 L881.61,141.93 L881.68,141.36 L881.74,140.8 L881.8,140.26 L881.87,139.73 L881.93,139.22 L881.99,138.72 L882.06,138.23 L882.12,137.75 L882.18,137.29 L882.25,136.84 L882.31,136.41 L882.37,135.98 L882.44,135.57 L882.5,135.17 L882.56,134.78 L882.63,134.41 L882.69,134.04 L882.75,133.68 L882.82,133.34 L882.88,133 L882.95,132.68 L883.01,132.36 L883.07,132.06 L883.14,131.76 L883.2,131.47 L883.26,131.19 L883.33,130.92 L883.39,130.66 L883.45,130.4 L883.52,130.15 L883.58,129.91 L883.64,129.68 L883.71,129.45 L883.77,129.23 L883.83,129.02 L883.9,128.81 L883.96,128.61 L884.02,128.42 L884.09,128.23 L884.15,128.04 L884.22,127.87 L884.28,127.69 L884.34,127.53 L884.41,127.36 L884.47,127.21 L884.53,127.05 L884.6,126.9 L884.66,126.76 L884.72,126.62 L884.79,126.49 L884.85,126.35 L884.91,126.23 L884.98,126.1 L885.04,125.98 L885.1,125.87 L885.17,125.75 L885.23,125.65 L885.29,125.54 L885.36,125.44 L885.42,125.34 L885.49,125.24 L885.55,125.15 L885.61,125.05 L885.68,124.97 L885.74,124.88 L885.8,124.8 L885.87,124.72 L885.93,124.64 L885.99,124.56 L886.06,124.49 L886.12,124.42 L886.18,124.35 L886.25,124.28 L886.31,124.21 L886.37,124.15 L886.44,124.09 L886.5,124.03 L886.56,123.97 L886.63,123.92 L886.69,123.86 L886.76,123.81 L886.82,123.76 L886.88,123.71 L886.95,123.66 L887.01,123.61 L887.07,123.57 L887.14,123.52 L887.2,123.48 L887.26,123.44 L887.33,123.4 L887.39,123.36 L887.45,123.32 L887.52,123.29 L887.58,123.25 L887.64,123.22 L887.71,123.18 L887.77,123.15 L887.83,123.12 L887.9,123.09 L887.96,123.06 L888.03,123.03 L888.09,123 L888.15,122.98 L888.22,122.95 L888.28,122.92 L888.34,122.9 L888.41,122.88 L888.47,122.85 L888.53,122.83 L888.6,122.81 L888.66,122.79 L888.72,122.77 L888.79,122.75 L888.85,122.73 L888.91,122.71 L888.98,122.69 L889.04,122.67 L889.1,122.66 L889.17,122.64 L889.23,122.62 L889.3,122.61 L889.36,122.59 L889.42,122.58 L889.49,122.56 L889.55,122.55 L889.61,122.54 L889.68,122.52 L889.74,122.51 L889.8,122.49 L889.87,122.34 L889.93,122.05 L889.99,121.63 L890.06,121.11 L890.12,120.51 L890.18,119.84 L890.25,119.12 L890.31,118.36 L890.37,117.56 L890.44,116.75 L890.5,115.91 L890.57,115.07 L890.63,114.22 L890.69,113.36 L890.76,112.51 L890.82,111.67 L890.88,110.84 L890.95,110.01 L891.01,109.2 L891.07,108.4 L891.14,107.61 L891.2,106.84 L891.26,106.08 L891.33,105.35 L891.39,104.62 L891.45,103.92 L891.52,103.23 L891.58,102.56 L891.64,101.91 L891.71,101.27 L891.77,100.65 L891.84,100.05 L891.9,99.46 L891.96,98.89 L892.03,98.33 L892.09,97.79 L892.15,97.27 L892.22,96.76 L892.28,96.27 L892.34,95.79 L892.41,95.32 L892.47,94.87 L892.53,94.43 L892.6,94 L892.66,93.58 L892.72,93.18 L892.79,92.79 L892.85,92.41 L892.91,92.04 L892.98,91.69 L893.04,91.34 L893.11,91 L893.17,90.68 L893.23,90.36 L893.3,90.05 L893.36,89.75 L893.42,89.46 L893.49,89.18 L893.55,88.91 L893.61,88.65 L893.68,88.39 L893.74,88.14 L893.8,87.9 L893.87,87.67 L893.93,87.44 L893.99,87.22 L894.06,87.01 L894.12,86.8 L894.18,86.6 L894.25,86.4 L894.31,86.21 L894.38,86.03 L894.44,85.85 L894.5,85.68 L894.57,85.51 L894.63,85.35 L894.69,85.19 L894.76,85.04 L894.82,84.89 L894.88,84.75 L894.95,84.61 L895.01,84.47 L895.07,84.34 L895.14,84.21 L895.2,84.09 L895.26,83.97 L895.33,83.86 L895.39,83.88 L895.45,84.06 L895.52,84.36 L895.58,84.76 L895.65,85.25 L895.71,85.81 L895.77,86.43 L895.84,87.09 L895.9,87.79 L895.96,88.51 L896.03,89.25 L896.09,90.01 L896.15,90.77 L896.22,91.54 L896.28,92.31 L896.34,93.07 L896.41,93.83 L896.47,94.58 L896.53,95.32 L896.6,96.05 L896.66,96.77 L896.72,97.48 L896.79,98.17 L896.85,98.84 L896.92,99.51 L896.98,100.15 L897.04,100.78 L897.11,101.4 L897.17,102 L897.23,102.58 L897.3,103.15 L897.36,103.71 L897.42,104.25 L897.49,104.77 L897.55,105.28 L897.61,105.78 L897.68,106.26 L897.74,106.73 L897.8,107.19 L897.87,107.63 L897.93,108.06 L897.99,108.48 L898.06,108.88 L898.12,109.28 L898.19,109.66 L898.25,110.03 L898.31,110.39 L898.38,110.74 L898.44,111.08 L898.5,111.41 L898.57,111.73 L898.63,112.04 L898.69,112.34 L898.76,112.63 L898.82,112.91 L898.88,113.19 L898.95,113.45 L899.01,113.71 L899.07,113.96 L899.14,114.21 L899.2,114.44 L899.26,114.67 L899.33,114.89 L899.39,115.11 L899.46,115.32 L899.52,115.52 L899.58,115.72 L899.65,115.91 L899.71,116.09 L899.77,116.27 L899.84,116.45 L899.9,116.62 L899.96,116.78 L900.03,116.94 L900.09,117.09 L900.15,117.24 L900.22,117.39 L900.28,117.53 L900.34,117.67 L900.41,117.8 L900.47,117.93 L900.53,118.05 L900.6,118.18 L900.66,118.29 L900.73,118.41 L900.79,118.52 L900.85,118.62 L900.92,118.73 L900.98,118.83 L901.04,118.93 L901.11,119.02 L901.17,119.11 L901.23,119.2 L901.3,119.29 L901.36,119.37 L901.42,119.46 L901.49,119.54 L901.55,119.61 L901.61,119.69 L901.68,119.76 L901.74,119.83 L901.8,119.9 L901.87,119.96 L901.93,120.03 L902,120.09 L902.06,120.15 L902.12,120.21 L902.19,120.26 L902.25,120.32 L902.31,120.37 L902.38,120.42 L902.44,120.47 L902.5,120.52 L902.57,120.57 L902.63,120.62 L902.69,120.66 L902.76,120.7 L902.82,120.75 L902.88,120.79 L902.95,120.83 L903.01,120.86 L903.07,120.9 L903.14,120.94 L903.2,120.97 L903.27,121.01 L903.33,121.04 L903.39,121.07 L903.46,121.1 L903.52,121.13 L903.58,121.16 L903.65,121.19 L903.71,121.21 L903.77,121.24 L903.84,121.27 L903.9,121.29 L903.96,121.32 L904.03,121.34 L904.09,121.36 L904.15,121.38 L904.22,121.41 L904.28,121.43 L904.34,121.45 L904.41,121.47 L904.47,121.49 L904.54,121.5 L904.6,121.52 L904.66,121.54 L904.73,121.56 L904.79,121.57 L904.85,121.59 L904.92,121.6 L904.98,121.62 L905.04,121.63 L905.11,121.65 L905.17,121.66 L905.23,121.67 L905.3,121.69 L905.36,121.7 L905.42,121.71 L905.49,121.72 L905.55,121.73 L905.61,121.74 L905.68,121.76 L905.74,121.77 L905.81,121.78 L905.87,121.79 L905.93,121.79 L906,121.8 L906.06,121.81 L906.12,121.83 L906.19,121.96 L906.25,122.24 L906.31,122.62 L906.38,123.1 L906.44,123.66 L906.5,124.28 L906.57,124.95 L906.63,125.66 L906.69,126.39 L906.76,127.15 L906.82,127.93 L906.88,128.71 L906.95,129.5 L907.01,130.29 L907.08,131.08 L907.14,131.87 L907.2,132.64 L907.27,133.41 L907.33,134.17 L907.39,134.91 L907.46,135.64 L907.52,136.36 L907.58,137.06 L907.65,137.74 L907.71,138.42 L907.77,139.07 L907.84,139.71 L907.9,140.33 L907.96,140.94 L908.03,141.53 L908.09,142.11 L908.15,142.67 L908.22,143.22 L908.28,143.75 L908.35,144.26 L908.41,144.76 L908.47,145.25 L908.54,145.72 L908.6,146.18 L908.66,146.63 L908.73,147.06 L908.79,147.49 L908.85,147.89 L908.92,148.29 L908.98,148.68 L909.04,149.05 L909.11,149.41 L909.17,149.77 L909.23,150.11 L909.3,150.44 L909.36,150.76 L909.42,151.08 L909.49,151.38 L909.55,151.67 L909.62,151.96 L909.68,152.24 L909.74,152.51 L909.81,152.77 L909.87,153.02 L909.93,153.27 L910,153.5 L910.06,153.73 L910.12,153.96 L910.19,154.18 L910.25,154.39 L910.31,154.59 L910.38,154.79 L910.44,154.98 L910.5,155.17 L910.57,155.35 L910.63,155.53 L910.69,155.7 L910.76,155.86 L910.82,156.02 L910.89,156.18 L910.95,156.33 L911.01,156.48 L911.08,156.62 L911.14,156.76 L911.2,156.89 L911.27,156.89 L911.33,156.75 L911.39,156.49 L911.46,156.14 L911.52,155.7 L911.58,155.2 L911.65,154.65 L911.71,154.05 L911.77,153.42 L911.84,152.77 L911.9,152.1 L911.96,151.41 L912.03,150.72 L912.09,150.02 L912.16,149.32 L912.22,148.62 L912.28,147.93 L912.35,147.25 L912.41,146.57 L912.47,145.91 L912.54,145.25 L912.6,144.61 L912.66,143.98 L912.73,143.36 L912.79,142.75 L912.85,142.16 L912.92,141.59 L912.98,141.02 L913.04,140.48 L913.11,139.94 L913.17,139.42 L913.23,138.91 L913.3,138.42 L913.36,137.94 L913.43,137.47 L913.49,137.02 L913.55,136.58 L913.62,136.15 L913.68,135.73 L913.74,135.33 L913.81,134.94 L913.87,134.56 L913.93,134.18 L914,133.83 L914.06,133.48 L914.12,133.14 L914.19,132.81 L914.25,132.49 L914.31,132.18 L914.38,131.88 L914.44,131.59 L914.5,131.3 L914.57,131.03 L914.63,130.76 L914.7,130.5 L914.76,130.25 L914.82,130.01 L914.89,129.77 L914.95,129.54 L915.01,129.32 L915.08,129.1 L915.14,128.89 L915.2,128.69 L915.27,128.49 L915.33,128.3 L915.39,128.12 L915.46,127.94 L915.52,127.76 L915.58,127.59 L915.65,127.43 L915.71,127.27 L915.77,127.11 L915.84,126.96 L915.9,126.82 L915.97,126.68 L916.03,126.54 L916.09,126.41 L916.16,126.28 L916.22,126.15 L916.28,126.03 L916.35,125.91 L916.41,125.8 L916.47,125.69 L916.54,125.58 L916.6,125.48 L916.66,125.38 L916.73,125.28 L916.79,125.18 L916.85,125.09 L916.92,125 L916.98,124.91 L917.04,124.83 L917.11,124.75 L917.17,124.67 L917.24,124.59 L917.3,124.52 L917.36,124.44 L917.43,124.37 L917.49,124.31 L917.55,124.24 L917.62,124.18 L917.68,124.11 L917.74,124.05 L917.81,124 L917.87,123.94 L917.93,123.88 L918,123.83 L918.06,123.78 L918.12,123.73 L918.19,123.68 L918.25,123.63 L918.31,123.59 L918.38,123.54 L918.44,123.5 L918.51,123.46 L918.57,123.42 L918.63,123.38 L918.7,123.34 L918.76,123.3 L918.82,123.27 L918.89,123.23 L918.95,123.2 L919.01,123.16 L919.08,123.13 L919.14,123.1 L919.2,123.07 L919.27,123.04 L919.33,123.01 L919.39,122.99 L919.46,122.96 L919.52,122.93 L919.58,122.91 L919.65,122.89 L919.71,122.86 L919.78,122.84 L919.84,122.82 L919.9,122.8 L919.97,122.77 L920.03,122.75 L920.09,122.73 L920.16,122.72 L920.22,122.7 L920.28,122.68 L920.35,122.66 L920.41,122.65 L920.47,122.63 L920.54,122.61 L920.6,122.6 L920.66,122.58 L920.73,122.57 L920.79,122.55 L920.85,122.54 L920.92,122.53 L920.98,122.51 L921.05,122.5 L921.11,122.45 L921.17,122.24 L921.24,121.89 L921.3,121.43 L921.36,120.88 L921.43,120.25 L921.49,119.56 L921.55,118.82 L921.62,118.04 L921.68,117.24 L921.74,116.41 L921.81,115.57 L921.87,114.72 L921.93,113.87 L922,113.02 L922.06,112.18 L922.12,111.33 L922.19,110.5 L922.25,109.68 L922.32,108.87 L922.38,108.08 L922.44,107.3 L922.51,106.53 L922.57,105.79 L922.63,105.05 L922.7,104.34 L922.76,103.64 L922.82,102.96 L922.89,102.3 L922.95,101.65 L923.01,101.02 L923.08,100.41 L923.14,99.81 L923.2,99.23 L923.27,98.66 L923.33,98.12 L923.39,97.58 L923.46,97.06 L923.52,96.56 L923.59,96.07 L923.65,95.6 L923.71,95.14 L923.78,94.69 L923.84,94.25 L923.9,93.83 L923.97,93.42 L924.03,93.02 L924.09,92.64 L924.16,92.26 L924.22,91.9 L924.28,91.54 L924.35,91.2 L924.41,90.87 L924.47,90.55 L924.54,90.23 L924.6,89.93 L924.66,89.64 L924.73,89.35 L924.79,89.07 L924.86,88.8 L924.92,88.54 L924.98,88.29 L925.05,88.04 L925.11,87.81 L925.17,87.58 L925.24,87.35 L925.3,87.13 L925.36,86.92 L925.43,86.72 L925.49,86.52 L925.55,86.33 L925.62,86.14 L925.68,85.96 L925.74,85.78 L925.81,85.61 L925.87,85.45 L925.93,85.28 L926,85.13 L926.06,84.98 L926.13,84.83 L926.19,84.69 L926.25,84.55 L926.32,84.42 L926.38,84.29 L926.44,84.16 L926.51,84.04 L926.57,83.92 L926.63,83.85 L926.7,83.94 L926.76,84.16 L926.82,84.51 L926.89,84.95 L926.95,85.47 L927.01,86.05 L927.08,86.69 L927.14,87.36 L927.2,88.07 L927.27,88.8 L927.33,89.55 L927.4,90.31 L927.46,91.08 L927.52,91.85 L927.59,92.61 L927.65,93.38 L927.71,94.13 L927.78,94.88 L927.84,95.62 L927.9,96.34 L927.97,97.05 L928.03,97.75 L928.09,98.44 L928.16,99.11 L928.22,99.77 L928.28,100.41 L928.35,101.03 L928.41,101.64 L928.47,102.23 L928.54,102.81 L928.6,103.38 L928.67,103.93 L928.73,104.46 L928.79,104.98 L928.86,105.48 L928.92,105.98 L928.98,106.45 L929.05,106.92 L929.11,107.37 L929.17,107.8 L929.24,108.23 L929.3,108.64 L929.36,109.04 L929.43,109.43 L929.49,109.81 L929.55,110.17 L929.62,110.53 L929.68,110.87 L929.74,111.21 L929.81,111.54 L929.87,111.85 L929.94,112.16 L930,112.45 L930.06,112.74 L930.13,113.02 L930.19,113.29 L930.25,113.56 L930.32,113.81 L930.38,114.06 L930.44,114.3 L930.51,114.53 L930.57,114.76 L930.63,114.98 L930.7,115.19 L930.76,115.4 L930.82,115.6 L930.89,115.79 L930.95,115.98 L931.01,116.17 L931.08,116.34 L931.14,116.52 L931.21,116.68 L931.27,116.85 L931.33,117 L931.4,117.16 L931.46,117.3 L931.52,117.45 L931.59,117.59 L931.65,117.72 L931.71,117.85 L931.78,117.98 L931.84,118.1 L931.9,118.22 L931.97,118.34 L932.03,118.45 L932.09,118.56 L932.16,118.67 L932.22,118.77 L932.28,118.87 L932.35,118.97 L932.41,119.06 L932.48,119.15 L932.54,119.24 L932.6,119.32 L932.67,119.41 L932.73,119.49 L932.79,119.57 L932.86,119.64 L932.92,119.72 L932.98,119.79 L933.05,119.86 L933.11,119.92 L933.17,119.99 L933.24,120.05 L933.3,120.11 L933.36,120.17 L933.43,120.23 L933.49,120.29 L933.55,120.34 L933.62,120.39 L933.68,120.44 L933.75,120.49 L933.81,120.54 L933.87,120.59 L933.94,120.63 L934,120.68 L934.06,120.72 L934.13,120.76 L934.19,120.8 L934.25,120.84 L934.32,120.88 L934.38,120.91 L934.44,120.95 L934.51,120.98 L934.57,121.02 L934.63,121.05 L934.7,121.08 L934.76,121.11 L934.82,121.14 L934.89,121.17 L934.95,121.2 L935.02,121.23 L935.08,121.25 L935.14,121.28 L935.21,121.3 L935.27,121.33 L935.33,121.35 L935.4,121.37 L935.46,121.39 L935.52,121.41 L935.59,121.43 L935.65,121.45 L935.71,121.47 L935.78,121.49 L935.84,121.51 L935.9,121.53 L935.97,121.55 L936.03,121.56 L936.09,121.58 L936.16,121.59 L936.22,121.61 L936.29,121.62 L936.35,121.64 L936.41,121.65 L936.48,121.67 L936.54,121.68 L936.6,121.69 L936.67,121.7 L936.73,121.72 L936.79,121.73 L936.86,121.74 L936.92,121.75 L936.98,121.76 L937.05,121.77 L937.11,121.78 L937.17,121.79 L937.24,121.8 L937.3,121.81 L937.36,121.82 L937.43,121.86 L937.49,122.06 L937.56,122.38 L937.62,122.8 L937.68,123.32 L937.75,123.9 L937.81,124.54 L937.87,125.23 L937.94,125.95 L938,126.69 L938.06,127.46 L938.13,128.24 L938.19,129.03 L938.25,129.82 L938.32,130.61 L938.38,131.4 L938.44,132.18 L938.51,132.95 L938.57,133.71 L938.63,134.47 L938.7,135.2 L938.76,135.93 L938.83,136.64 L938.89,137.33 L938.95,138.02 L939.02,138.68 L939.08,139.33 L939.14,139.96 L939.21,140.58 L939.27,141.18 L939.33,141.77 L939.4,142.34 L939.46,142.89 L939.52,143.43 L939.59,143.95 L939.65,144.46 L939.71,144.96 L939.78,145.44 L939.84,145.91 L939.9,146.36 L939.97,146.81 L940.03,147.23 L940.1,147.65 L940.16,148.06 L940.22,148.45 L940.29,148.83 L940.35,149.2 L940.41,149.56 L940.48,149.91 L940.54,150.24 L940.6,150.57 L940.67,150.89 L940.73,151.2 L940.79,151.5 L940.86,151.79 L940.92,152.07 L940.98,152.35 L941.05,152.61 L941.11,152.87 L941.17,153.12 L941.24,153.36 L941.3,153.6 L941.37,153.83 L941.43,154.05 L941.49,154.26 L941.56,154.47 L941.62,154.67 L941.68,154.87 L941.75,155.06 L941.81,155.24 L941.87,155.42 L941.94,155.6 L942,155.77 L942.06,155.93 L942.13,156.09 L942.19,156.24 L942.25,156.39 L942.32,156.54 L942.38,156.68 L942.44,156.81 L942.51,156.9 L942.57,156.85 L942.64,156.66 L942.7,156.36 L942.76,155.97 L942.83,155.51 L942.89,154.99 L942.95,154.42 L943.02,153.81 L943.08,153.17 L943.14,152.5 L943.21,151.82 L943.27,151.13 L943.33,150.44 L943.4,149.74 L943.46,149.04 L943.52,148.35 L943.59,147.66 L943.65,146.98 L943.71,146.3 L943.78,145.64 L943.84,144.99 L943.91,144.35 L943.97,143.73 L944.03,143.12 L944.1,142.52 L944.16,141.93 L944.22,141.36 L944.29,140.8 L944.35,140.26 L944.41,139.73 L944.48,139.22 L944.54,138.72 L944.6,138.23 L944.67,137.75 L944.73,137.29 L944.79,136.84 L944.86,136.41 L944.92,135.98 L944.98,135.57 L945.05,135.17 L945.11,134.78 L945.18,134.41 L945.24,134.04 L945.3,133.68 L945.37,133.34 L945.43,133 L945.49,132.68 L945.56,132.36 L945.62,132.06 L945.68,131.76 L945.75,131.47 L945.81,131.19 L945.87,130.92 L945.94,130.66 L946,130.4 L946.06,130.15 L946.13,129.91 L946.19,129.68 L946.25,129.45 L946.32,129.23 L946.38,129.02 L946.45,128.81 L946.51,128.61 L946.57,128.42 L946.64,128.23 L946.7,128.04 L946.76,127.87 L946.83,127.69 L946.89,127.53 L946.95,127.36 L947.02,127.21 L947.08,127.05 L947.14,126.9 L947.21,126.76 L947.27,126.62 L947.33,126.49 L947.4,126.35 L947.46,126.23 L947.52,126.1 L947.59,125.98 L947.65,125.87" fill="none" stroke="#111" stroke-width="2.0" stroke-linejoin="round" stroke-linecap="round" />
<path d="M764.2,126.59 L764.26,126.59 L764.33,126.59 L764.39,126.59 L764.45,126.59 L764.52,126.59 L764.58,126.59 L764.64,126.59 L764.71,127.13 L764.77,129.63 L764.84,131.79 L764.9,133.66 L764.96,135.28 L765.03,136.68 L765.09,137.89 L765.15,138.94 L765.22,139.84 L765.28,140.63 L765.34,141.31 L765.41,141.89 L765.47,142.4 L765.53,142.84 L765.6,143.22 L765.66,143.55 L765.72,143.83 L765.79,144.08 L765.85,144.29 L765.91,144.47 L765.98,144.63 L766.04,144.77 L766.11,144.89 L766.17,144.99 L766.23,145.08 L766.3,145.16 L766.36,145.23 L766.42,145.28 L766.49,145.33 L766.55,145.38 L766.61,145.41 L766.68,145.45 L766.74,145.47 L766.8,145.5 L766.87,145.52 L766.93,145.54 L766.99,145.55 L767.06,145.57 L767.12,145.58 L767.18,145.59 L767.25,145.6 L767.31,145.61 L767.38,145.61 L767.44,145.62 L767.5,145.62 L767.57,145.63 L767.63,145.63 L767.69,145.63 L767.76,145.64 L767.82,145.64 L767.88,145.64 L767.95,145.64 L768.01,145.64 L768.07,145.65 L768.14,145.65 L768.2,145.65 L768.26,145.65 L768.33,145.65 L768.39,145.65 L768.45,145.65 L768.52,145.65 L768.58,145.65 L768.64,145.65 L768.71,145.65 L768.77,145.65 L768.84,145.65 L768.9,145.65 L768.96,145.65 L769.03,145.65 L769.09,145.65 L769.15,145.65 L769.22,145.65 L769.28,145.65 L769.34,145.65 L769.41,145.65 L769.47,145.65 L769.53,145.65 L769.6,145.65 L769.66,145.65 L769.72,145.65 L769.79,145.65 L769.85,145.65 L769.91,145.65 L769.98,145.65 L770.04,145.65 L770.11,145.65 L770.17,142.42 L770.23,139.63 L770.3,137.21 L770.36,135.12 L770.42,133.31 L770.49,131.74 L770.55,130.39 L770.61,129.22 L770.68,128.2 L770.74,127.33 L770.8,126.57 L770.87,125.91 L770.93,125.34 L770.99,124.85 L771.06,124.43 L771.12,124.06 L771.18,123.74 L771.25,123.47 L771.31,123.23 L771.38,123.02 L771.44,122.85 L771.5,122.69 L771.57,122.56 L771.63,122.44 L771.69,122.34 L771.76,122.26 L771.82,122.18 L771.88,122.12 L771.95,122.06 L772.01,122.02 L772.07,121.97 L772.14,121.94 L772.2,121.91 L772.26,121.88 L772.33,121.86 L772.39,121.84 L772.45,121.82 L772.52,121.8 L772.58,121.79 L772.65,121.78 L772.71,121.77 L772.77,121.76 L772.84,121.75 L772.9,121.75 L772.96,121.74 L773.03,121.74 L773.09,121.73 L773.15,121.73 L773.22,121.73 L773.28,121.72 L773.34,121.72 L773.41,121.72 L773.47,121.72 L773.53,121.72 L773.6,121.71 L773.66,121.71 L773.72,121.71 L773.79,121.71 L773.85,121.71 L773.92,121.71 L773.98,121.71 L774.04,121.71 L774.11,121.71 L774.17,121.71 L774.23,121.71 L774.3,121.71 L774.36,121.71 L774.42,121.71 L774.49,121.71 L774.55,121.71 L774.61,121.71 L774.68,121.71 L774.74,121.71 L774.8,121.71 L774.87,121.71 L774.93,121.71 L774.99,121.71 L775.06,121.71 L775.12,121.71 L775.19,121.71 L775.25,121.71 L775.31,121.71 L775.38,121.71 L775.44,121.71 L775.5,121.71 L775.57,121.71 L775.63,121.71 L775.69,121.71 L775.76,121.71 L775.82,121.71 L775.88,121.71 L775.95,121.71 L776.01,121.71 L776.07,121.71 L776.14,121.71 L776.2,121.71 L776.26,121.71 L776.33,121.71 L776.39,121.71 L776.46,121.71 L776.52,121.71 L776.58,121.71 L776.65,121.71 L776.71,121.71 L776.77,121.71 L776.84,121.71 L776.9,121.71 L776.96,121.71 L777.03,121.71 L777.09,121.71 L777.15,121.71 L777.22,121.71 L777.28,121.71 L777.34,121.71 L777.41,121.71 L777.47,121.71 L777.53,121.71 L777.6,121.71 L777.66,121.71 L777.73,121.71 L777.79,121.71 L777.85,121.71 L777.92,121.71 L777.98,121.71 L778.04,121.71 L778.11,121.71 L778.17,121.71 L778.23,121.71 L778.3,121.71 L778.36,121.71 L778.42,121.71 L778.49,121.71 L778.55,121.71 L778.61,121.71 L778.68,121.71 L778.74,121.71 L778.8,121.71 L778.87,121.71 L778.93,121.71 L779,121.71 L779.06,121.71 L779.12,121.71 L779.19,121.71 L779.25,121.71 L779.31,121.71 L779.38,121.71 L779.44,121.71 L779.5,121.71 L779.57,121.71 L779.63,121.71 L779.69,121.71 L779.76,121.71 L779.82,121.71 L779.88,121.71 L779.95,121.71 L780.01,121.71 L780.07,121.71 L780.14,121.71 L780.2,121.71 L780.27,121.71 L780.33,118.35 L780.39,115.45 L780.46,112.94 L780.52,110.77 L780.58,108.89 L780.65,107.27 L780.71,105.86 L780.77,104.65 L780.84,103.59 L780.9,102.68 L780.96,101.9 L781.03,101.22 L781.09,100.63 L781.15,100.12 L781.22,99.68 L781.28,99.29 L781.34,98.96 L781.41,98.68 L781.47,98.43 L781.54,98.22 L781.6,98.03 L781.66,97.87 L781.73,97.74 L781.79,97.62 L781.85,97.51 L781.92,97.42 L781.98,97.35 L782.04,97.28 L782.11,97.22 L782.17,97.17 L782.23,97.13 L782.3,97.09 L782.36,97.06 L782.42,97.03 L782.49,97 L782.55,96.98 L782.61,96.97 L782.68,96.95 L782.74,96.94 L782.81,96.92 L782.87,96.91 L782.93,96.91 L783,96.9 L783.06,96.89 L783.12,96.89 L783.19,96.88 L783.25,96.88 L783.31,96.87 L783.38,96.87 L783.44,96.87 L783.5,96.86 L783.57,96.86 L783.63,96.86 L783.69,96.86 L783.76,96.86 L783.82,96.86 L783.88,96.86 L783.95,96.85 L784.01,96.85 L784.08,96.85 L784.14,96.85 L784.2,96.85 L784.27,96.85 L784.33,96.85 L784.39,96.85 L784.46,96.85 L784.52,96.85 L784.58,96.85 L784.65,96.85 L784.71,96.85 L784.77,96.85 L784.84,96.85 L784.9,96.85 L784.96,96.85 L785.03,96.85 L785.09,96.85 L785.15,96.85 L785.22,96.85 L785.28,96.85 L785.35,96.85 L785.41,100.2 L785.47,103.1 L785.54,105.61 L785.6,107.79 L785.66,109.66 L785.73,111.29 L785.79,112.69 L785.85,113.91 L785.92,114.96 L785.98,115.87 L786.04,116.66 L786.11,117.34 L786.17,117.93 L786.23,118.44 L786.3,118.88 L786.36,119.26 L786.42,119.59 L786.49,119.88 L786.55,120.12 L786.62,120.34 L786.68,120.52 L786.74,120.68 L786.81,120.82 L786.87,120.94 L786.93,121.04 L787,121.13 L787.06,121.21 L787.12,121.28 L787.19,121.33 L787.25,121.38 L787.31,121.43 L787.38,121.46 L787.44,121.5 L787.5,121.53 L787.57,121.55 L787.63,121.57 L787.7,121.59 L787.76,121.6 L787.82,121.62 L787.89,121.63 L787.95,121.64 L788.01,121.65 L788.08,121.66 L788.14,121.66 L788.2,121.67 L788.27,121.67 L788.33,121.68 L788.39,121.68 L788.46,121.69 L788.52,121.69 L788.58,121.69 L788.65,121.69 L788.71,121.69 L788.77,121.7 L788.84,121.7 L788.9,121.7 L788.97,121.7 L789.03,121.7 L789.09,121.7 L789.16,121.7 L789.22,121.7 L789.28,121.7 L789.35,121.7 L789.41,121.7 L789.47,121.7 L789.54,121.7 L789.6,121.7 L789.66,121.7 L789.73,121.7 L789.79,121.7 L789.85,121.7 L789.92,121.7 L789.98,121.7 L790.04,121.7 L790.11,121.71 L790.17,121.71 L790.24,121.71 L790.3,121.71 L790.36,121.71 L790.43,121.71 L790.49,121.71 L790.55,121.71 L790.62,121.71 L790.68,121.71 L790.74,121.71 L790.81,121.71 L790.87,121.71 L790.93,121.71 L791,121.71 L791.06,121.71 L791.12,121.71 L791.19,121.71 L791.25,121.71 L791.31,121.71 L791.38,121.71 L791.44,121.71 L791.51,121.71 L791.57,121.71 L791.63,121.71 L791.7,121.71 L791.76,121.71 L791.82,121.71 L791.89,121.71 L791.95,121.71 L792.01,121.71 L792.08,121.71 L792.14,121.71 L792.2,121.71 L792.27,121.71 L792.33,121.71 L792.39,121.71 L792.46,121.71 L792.52,121.71 L792.58,121.71 L792.65,121.71 L792.71,121.71 L792.78,121.71 L792.84,121.71 L792.9,121.71 L792.97,121.71 L793.03,121.71 L793.09,121.71 L793.16,121.71 L793.22,121.71 L793.28,121.71 L793.35,121.71 L793.41,121.71 L793.47,121.71 L793.54,121.71 L793.6,121.71 L793.66,121.71 L793.73,121.71 L793.79,121.71 L793.85,121.71 L793.92,121.71 L793.98,121.71 L794.05,121.71 L794.11,121.71 L794.17,121.71 L794.24,121.71 L794.3,121.71 L794.36,121.71 L794.43,121.71 L794.49,121.71 L794.55,121.71 L794.62,121.71 L794.68,121.71 L794.74,121.71 L794.81,121.71 L794.87,121.71 L794.93,121.71 L795,121.71 L795.06,121.71 L795.12,121.71 L795.19,121.71 L795.25,121.71 L795.32,121.71 L795.38,121.71 L795.44,121.71 L795.51,121.71 L795.57,121.71 L795.63,121.71 L795.7,121.71 L795.76,121.71 L795.82,121.71 L795.89,121.71 L795.95,121.71 L796.01,123.7 L796.08,126.66 L796.14,129.22 L796.2,131.44 L796.27,133.36 L796.33,135.02 L796.39,136.45 L796.46,137.69 L796.52,138.77 L796.59,139.7 L796.65,140.5 L796.71,141.2 L796.78,141.8 L796.84,142.32 L796.9,142.77 L796.97,143.16 L797.03,143.49 L797.09,143.79 L797.16,144.04 L797.22,144.26 L797.28,144.44 L797.35,144.61 L797.41,144.75 L797.47,144.87 L797.54,144.98 L797.6,145.07 L797.66,145.15 L797.73,145.22 L797.79,145.27 L797.86,145.33 L797.92,145.37 L797.98,145.41 L798.05,145.44 L798.11,145.47 L798.17,145.5 L798.24,145.52 L798.3,145.54 L798.36,145.55 L798.43,145.56 L798.49,145.58 L798.55,145.59 L798.62,145.6 L798.68,145.6 L798.74,145.61 L798.81,145.62 L798.87,145.62 L798.93,145.63 L799,145.63 L799.06,145.63 L799.13,145.64 L799.19,145.64 L799.25,145.64 L799.32,145.64 L799.38,145.64 L799.44,145.65 L799.51,145.65 L799.57,145.65 L799.63,145.65 L799.7,145.65 L799.76,145.65 L799.82,145.65 L799.89,145.65 L799.95,145.65 L800.01,145.65 L800.08,145.65 L800.14,145.65 L800.2,145.65 L800.27,145.65 L800.33,145.65 L800.4,145.65 L800.46,145.65 L800.52,145.65 L800.59,145.65 L800.65,145.65 L800.71,145.65 L800.78,145.65 L800.84,145.65 L800.9,145.65 L800.97,145.65 L801.03,145.65 L801.09,145.65 L801.16,145.65 L801.22,145.65 L801.28,145.65 L801.35,145.65 L801.41,143.66 L801.47,140.7 L801.54,138.13 L801.6,135.92 L801.67,134 L801.73,132.34 L801.79,130.91 L801.86,129.67 L801.92,128.59 L801.98,127.66 L802.05,126.86 L802.11,126.16 L802.17,125.56 L802.24,125.04 L802.3,124.59 L802.36,124.2 L802.43,123.87 L802.49,123.57 L802.55,123.32 L802.62,123.1 L802.68,122.91 L802.74,122.75 L802.81,122.61 L802.87,122.49 L802.94,122.38 L803,122.29 L803.06,122.21 L803.13,122.14 L803.19,122.08 L803.25,122.03 L803.32,121.99 L803.38,121.95 L803.44,121.92 L803.51,121.89 L803.57,121.86 L803.63,121.84 L803.7,121.82 L803.76,121.81 L803.82,121.79 L803.89,121.78 L803.95,121.77 L804.01,121.76 L804.08,121.76 L804.14,121.75 L804.21,121.74 L804.27,121.74 L804.33,121.73 L804.4,121.73 L804.46,121.73 L804.52,121.72 L804.59,121.72 L804.65,121.72 L804.71,121.72 L804.78,121.72 L804.84,121.71 L804.9,121.71 L804.97,121.71 L805.03,121.71 L805.09,121.71 L805.16,121.71 L805.22,121.71 L805.28,121.71 L805.35,121.71 L805.41,121.71 L805.48,121.71 L805.54,121.71 L805.6,121.71 L805.67,121.71 L805.73,121.71 L805.79,121.71 L805.86,121.71 L805.92,121.71 L805.98,121.71 L806.05,121.71 L806.11,121.71 L806.17,121.71 L806.24,121.71 L806.3,121.71 L806.36,121.71 L806.43,121.71 L806.49,121.71 L806.55,121.71 L806.62,121.71 L806.68,121.71 L806.75,121.71 L806.81,121.71 L806.87,121.71 L806.94,121.71 L807,121.71 L807.06,121.71 L807.13,121.71 L807.19,121.71 L807.25,121.71 L807.32,121.71 L807.38,121.71 L807.44,121.71 L807.51,121.71 L807.57,121.71 L807.63,121.71 L807.7,121.71 L807.76,121.71 L807.82,121.71 L807.89,121.71 L807.95,121.71 L808.02,121.71 L808.08,121.71 L808.14,121.71 L808.21,121.71 L808.27,121.71 L808.33,121.71 L808.4,121.71 L808.46,121.71 L808.52,121.71 L808.59,121.71 L808.65,121.71 L808.71,121.71 L808.78,121.71 L808.84,121.71 L808.9,121.71 L808.97,121.71 L809.03,121.71 L809.09,121.71 L809.16,121.71 L809.22,121.71 L809.29,121.71 L809.35,121.71 L809.41,121.71 L809.48,121.71 L809.54,121.71 L809.6,121.71 L809.67,121.71 L809.73,121.71 L809.79,121.71 L809.86,121.71 L809.92,121.71 L809.98,121.71 L810.05,121.71 L810.11,121.71 L810.17,121.71 L810.24,121.71 L810.3,121.71 L810.36,121.71 L810.43,121.71 L810.49,121.71 L810.56,121.71 L810.62,121.71 L810.68,121.71 L810.75,121.71 L810.81,121.71 L810.87,121.71 L810.94,121.71 L811,121.71 L811.06,121.71 L811.13,121.71 L811.19,121.71 L811.25,121.71 L811.32,121.71 L811.38,121.71 L811.44,121.71 L811.51,121.71 L811.57,119.64 L811.63,116.56 L811.7,113.9 L811.76,111.6 L811.83,109.61 L811.89,107.89 L811.95,106.4 L812.02,105.11 L812.08,104 L812.14,103.03 L812.21,102.2 L812.27,101.48 L812.33,100.85 L812.4,100.31 L812.46,99.84 L812.52,99.44 L812.59,99.09 L812.65,98.79 L812.71,98.53 L812.78,98.3 L812.84,98.1 L812.9,97.93 L812.97,97.79 L813.03,97.66 L813.1,97.55 L813.16,97.46 L813.22,97.38 L813.29,97.3 L813.35,97.24 L813.41,97.19 L813.48,97.14 L813.54,97.1 L813.6,97.07 L813.67,97.04 L813.73,97.01 L813.79,96.99 L813.86,96.97 L813.92,96.96 L813.98,96.94 L814.05,96.93 L814.11,96.92 L814.17,96.91 L814.24,96.9 L814.3,96.89 L814.37,96.89 L814.43,96.88 L814.49,96.88 L814.56,96.87 L814.62,96.87 L814.68,96.87 L814.75,96.87 L814.81,96.86 L814.87,96.86 L814.94,96.86 L815,96.86 L815.06,96.86 L815.13,96.86 L815.19,96.85 L815.25,96.85 L815.32,96.85 L815.38,96.85 L815.44,96.85 L815.51,96.85 L815.57,96.85 L815.64,96.85 L815.7,96.85 L815.76,96.85 L815.83,96.85 L815.89,96.85 L815.95,96.85 L816.02,96.85 L816.08,96.85 L816.14,96.85 L816.21,96.85 L816.27,96.85 L816.33,96.85 L816.4,96.85 L816.46,96.85 L816.52,96.85 L816.59,96.85 L816.65,98.92 L816.71,101.99 L816.78,104.65 L816.84,106.95 L816.91,108.94 L816.97,110.67 L817.03,112.16 L817.1,113.44 L817.16,114.56 L817.22,115.52 L817.29,116.36 L817.35,117.08 L817.41,117.7 L817.48,118.24 L817.54,118.71 L817.6,119.11 L817.67,119.46 L817.73,119.77 L817.79,120.03 L817.86,120.25 L817.92,120.45 L817.98,120.62 L818.05,120.77 L818.11,120.89 L818.18,121 L818.24,121.1 L818.3,121.18 L818.37,121.25 L818.43,121.31 L818.49,121.36 L818.56,121.41 L818.62,121.45 L818.68,121.49 L818.75,121.51 L818.81,121.54 L818.87,121.56 L818.94,121.58 L819,121.6 L819.06,121.61 L819.13,121.63 L819.19,121.64 L819.25,121.65 L819.32,121.65 L819.38,121.66 L819.44,121.67 L819.51,121.67 L819.57,121.68 L819.64,121.68 L819.7,121.68 L819.76,121.69 L819.83,121.69 L819.89,121.69 L819.95,121.69 L820.02,121.69 L820.08,121.7 L820.14,121.7 L820.21,121.7 L820.27,121.7 L820.33,121.7 L820.4,121.7 L820.46,121.7 L820.52,121.7 L820.59,121.7 L820.65,121.7 L820.71,121.7 L820.78,121.7 L820.84,121.7 L820.91,121.7 L820.97,121.7 L821.03,121.7 L821.1,121.7 L821.16,121.7 L821.22,121.7 L821.29,121.7 L821.35,121.7 L821.41,121.71 L821.48,121.71 L821.54,121.71 L821.6,121.71 L821.67,121.71 L821.73,121.71 L821.79,121.71 L821.86,121.71 L821.92,121.71 L821.98,121.71 L822.05,121.71 L822.11,121.71 L822.18,121.71 L822.24,121.71 L822.3,121.71 L822.37,121.71 L822.43,121.71 L822.49,121.71 L822.56,121.71 L822.62,121.71 L822.68,121.71 L822.75,121.71 L822.81,121.71 L822.87,121.71 L822.94,121.71 L823,121.71 L823.06,121.71 L823.13,121.71 L823.19,121.71 L823.25,121.71 L823.32,121.71 L823.38,121.71 L823.45,121.71 L823.51,121.71 L823.57,121.71 L823.64,121.71 L823.7,121.71 L823.76,121.71 L823.83,121.71 L823.89,121.71 L823.95,121.71 L824.02,121.71 L824.08,121.71 L824.14,121.71 L824.21,121.71 L824.27,121.71 L824.33,121.71 L824.4,121.71 L824.46,121.71 L824.52,121.71 L824.59,121.71 L824.65,121.71 L824.72,121.71 L824.78,121.71 L824.84,121.71 L824.91,121.71 L824.97,121.71 L825.03,121.71 L825.1,121.71 L825.16,121.71 L825.22,121.71 L825.29,121.71 L825.35,121.71 L825.41,121.71 L825.48,121.71 L825.54,121.71 L825.6,121.71 L825.67,121.71 L825.73,121.71 L825.79,121.71 L825.86,121.71 L825.92,121.71 L825.99,121.71 L826.05,121.71 L826.11,121.71 L826.18,121.71 L826.24,121.71 L826.3,121.71 L826.37,121.71 L826.43,121.71 L826.49,121.71 L826.56,121.71 L826.62,121.71 L826.68,121.71 L826.75,121.71 L826.81,121.71 L826.87,121.71 L826.94,121.71 L827,121.71 L827.06,121.71 L827.13,121.71 L827.19,121.71 L827.26,121.71 L827.32,124.94 L827.38,127.73 L827.45,130.15 L827.51,132.24 L827.57,134.05 L827.64,135.62 L827.7,136.97 L827.76,138.14 L827.83,139.16 L827.89,140.03 L827.95,140.79 L828.02,141.45 L828.08,142.01 L828.14,142.51 L828.21,142.93 L828.27,143.3 L828.33,143.62 L828.4,143.89 L828.46,144.13 L828.53,144.33 L828.59,144.51 L828.65,144.67 L828.72,144.8 L828.78,144.92 L828.84,145.01 L828.91,145.1 L828.97,145.18 L829.03,145.24 L829.1,145.3 L829.16,145.34 L829.22,145.39 L829.29,145.42 L829.35,145.45 L829.41,145.48 L829.48,145.5 L829.54,145.52 L829.6,145.54 L829.67,145.56 L829.73,145.57 L829.8,145.58 L829.86,145.59 L829.92,145.6 L829.99,145.61 L830.05,145.61 L830.11,145.62 L830.18,145.62 L830.24,145.63 L830.3,145.63 L830.37,145.63 L830.43,145.64 L830.49,145.64 L830.56,145.64 L830.62,145.64 L830.68,145.64 L830.75,145.65 L830.81,145.65 L830.87,145.65 L830.94,145.65 L831,145.65 L831.07,145.65 L831.13,145.65 L831.19,145.65 L831.26,145.65 L831.32,145.65 L831.38,145.65 L831.45,145.65 L831.51,145.65 L831.57,145.65 L831.64,145.65 L831.7,145.65 L831.76,145.65 L831.83,145.65 L831.89,145.65 L831.95,145.65 L832.02,145.65 L832.08,145.65 L832.14,145.65 L832.21,145.65 L832.27,145.65 L832.34,145.65 L832.4,145.65 L832.46,145.65 L832.53,145.65 L832.59,145.65 L832.65,145.65 L832.72,142.42 L832.78,139.63 L832.84,137.21 L832.91,135.12 L832.97,133.31 L833.03,131.74 L833.1,130.39 L833.16,129.22 L833.22,128.2 L833.29,127.33 L833.35,126.57 L833.41,125.91 L833.48,125.34 L833.54,124.85 L833.61,124.43 L833.67,124.06 L833.73,123.74 L833.8,123.47 L833.86,123.23 L833.92,123.02 L833.99,122.85 L834.05,122.69 L834.11,122.56 L834.18,122.44 L834.24,122.34 L834.3,122.26 L834.37,122.18 L834.43,122.12 L834.49,122.06 L834.56,122.02 L834.62,121.97 L834.68,121.94 L834.75,121.91 L834.81,121.88 L834.88,121.86 L834.94,121.84 L835,121.82 L835.07,121.8 L835.13,121.79 L835.19,121.78 L835.26,121.77 L835.32,121.76 L835.38,121.75 L835.45,121.75 L835.51,121.74 L835.57,121.74 L835.64,121.73 L835.7,121.73 L835.76,121.73 L835.83,121.72 L835.89,121.72 L835.95,121.72 L836.02,121.72 L836.08,121.72 L836.15,121.71 L836.21,121.71 L836.27,121.71 L836.34,121.71 L836.4,121.71 L836.46,121.71 L836.53,121.71 L836.59,121.71 L836.65,121.71 L836.72,121.71 L836.78,121.71 L836.84,121.71 L836.91,121.71 L836.97,121.71 L837.03,121.71 L837.1,121.71 L837.16,121.71 L837.22,121.71 L837.29,121.71 L837.35,121.71 L837.42,121.71 L837.48,121.71 L837.54,121.71 L837.61,121.71 L837.67,121.71 L837.73,121.71 L837.8,121.71 L837.86,121.71 L837.92,121.71 L837.99,121.71 L838.05,121.71 L838.11,121.71 L838.18,121.71 L838.24,121.71 L838.3,121.71 L838.37,121.71 L838.43,121.71 L838.49,121.71 L838.56,121.71 L838.62,121.71 L838.69,121.71 L838.75,121.71 L838.81,121.71 L838.88,121.71 L838.94,121.71 L839,121.71 L839.07,121.71 L839.13,121.71 L839.19,121.71 L839.26,121.71 L839.32,121.71 L839.38,121.71 L839.45,121.71 L839.51,121.71 L839.57,121.71 L839.64,121.71 L839.7,121.71 L839.76,121.71 L839.83,121.71 L839.89,121.71 L839.96,121.71 L840.02,121.71 L840.08,121.71 L840.15,121.71 L840.21,121.71 L840.27,121.71 L840.34,121.71 L840.4,121.71 L840.46,121.71 L840.53,121.71 L840.59,121.71 L840.65,121.71 L840.72,121.71 L840.78,121.71 L840.84,121.71 L840.91,121.71 L840.97,121.71 L841.03,121.71 L841.1,121.71 L841.16,121.71 L841.23,121.71 L841.29,121.71 L841.35,121.71 L841.42,121.71 L841.48,121.71 L841.54,121.71 L841.61,121.71 L841.67,121.71 L841.73,121.71 L841.8,121.71 L841.86,121.71 L841.92,121.71 L841.99,121.71 L842.05,121.71 L842.11,121.71 L842.18,121.71 L842.24,121.71 L842.3,121.71 L842.37,121.71 L842.43,121.71 L842.5,121.71 L842.56,121.71 L842.62,121.71 L842.69,121.71 L842.75,121.71 L842.81,121.71 L842.88,118.35 L842.94,115.45 L843,112.94 L843.07,110.77 L843.13,108.89 L843.19,107.27 L843.26,105.86 L843.32,104.65 L843.38,103.59 L843.45,102.68 L843.51,101.9 L843.57,101.22 L843.64,100.63 L843.7,100.12 L843.77,99.68 L843.83,99.29 L843.89,98.96 L843.96,98.68 L844.02,98.43 L844.08,98.22 L844.15,98.03 L844.21,97.87 L844.27,97.74 L844.34,97.62 L844.4,97.51 L844.46,97.42 L844.53,97.35 L844.59,97.28 L844.65,97.22 L844.72,97.17 L844.78,97.13 L844.84,97.09 L844.91,97.06 L844.97,97.03 L845.04,97 L845.1,96.98 L845.16,96.97 L845.23,96.95 L845.29,96.94 L845.35,96.92 L845.42,96.91 L845.48,96.91 L845.54,96.9 L845.61,96.89 L845.67,96.89 L845.73,96.88 L845.8,96.88 L845.86,96.87 L845.92,96.87 L845.99,96.87 L846.05,96.86 L846.11,96.86 L846.18,96.86 L846.24,96.86 L846.31,96.86 L846.37,96.86 L846.43,96.86 L846.5,96.85 L846.56,96.85 L846.62,96.85 L846.69,96.85 L846.75,96.85 L846.81,96.85 L846.88,96.85 L846.94,96.85 L847,96.85 L847.07,96.85 L847.13,96.85 L847.19,96.85 L847.26,96.85 L847.32,96.85 L847.38,96.85 L847.45,96.85 L847.51,96.85 L847.58,96.85 L847.64,96.85 L847.7,96.85 L847.77,96.85 L847.83,96.85 L847.89,96.85 L847.96,100.2 L848.02,103.1 L848.08,105.61 L848.15,107.79 L848.21,109.66 L848.27,111.29 L848.34,112.69 L848.4,113.91 L848.46,114.96 L848.53,115.87 L848.59,116.66 L848.65,117.34 L848.72,117.93 L848.78,118.44 L848.85,118.88 L848.91,119.26 L848.97,119.59 L849.04,119.88 L849.1,120.12 L849.16,120.34 L849.23,120.52 L849.29,120.68 L849.35,120.82 L849.42,120.94 L849.48,121.04 L849.54,121.13 L849.61,121.21 L849.67,121.28 L849.73,121.33 L849.8,121.38 L849.86,121.43 L849.92,121.46 L849.99,121.5 L850.05,121.53 L850.12,121.55 L850.18,121.57 L850.24,121.59 L850.31,121.6 L850.37,121.62 L850.43,121.63 L850.5,121.64 L850.56,121.65 L850.62,121.66 L850.69,121.66 L850.75,121.67 L850.81,121.67 L850.88,121.68 L850.94,121.68 L851,121.69 L851.07,121.69 L851.13,121.69 L851.19,121.69 L851.26,121.69 L851.32,121.7 L851.39,121.7 L851.45,121.7 L851.51,121.7 L851.58,121.7 L851.64,121.7 L851.7,121.7 L851.77,121.7 L851.83,121.7 L851.89,121.7 L851.96,121.7 L852.02,121.7 L852.08,121.7 L852.15,121.7 L852.21,121.7 L852.27,121.7 L852.34,121.7 L852.4,121.7 L852.46,121.7 L852.53,121.7 L852.59,121.7 L852.66,121.71 L852.72,121.71 L852.78,121.71 L852.85,121.71 L852.91,121.71 L852.97,121.71 L853.04,121.71 L853.1,121.71 L853.16,121.71 L853.23,121.71 L853.29,121.71 L853.35,121.71 L853.42,121.71 L853.48,121.71 L853.54,121.71 L853.61,121.71 L853.67,121.71 L853.73,121.71 L853.8,121.71 L853.86,121.71 L853.93,121.71 L853.99,121.71 L854.05,121.71 L854.12,121.71 L854.18,121.71 L854.24,121.71 L854.31,121.71 L854.37,121.71 L854.43,121.71 L854.5,121.71 L854.56,121.71 L854.62,121.71 L854.69,121.71 L854.75,121.71 L854.81,121.71 L854.88,121.71 L854.94,121.71 L855,121.71 L855.07,121.71 L855.13,121.71 L855.2,121.71 L855.26,121.71 L855.32,121.71 L855.39,121.71 L855.45,121.71 L855.51,121.71 L855.58,121.71 L855.64,121.71 L855.7,121.71 L855.77,121.71 L855.83,121.71 L855.89,121.71 L855.96,121.71 L856.02,121.71 L856.08,121.71 L856.15,121.71 L856.21,121.71 L856.28,121.71 L856.34,121.71 L856.4,121.71 L856.47,121.71 L856.53,121.71 L856.59,121.71 L856.66,121.71 L856.72,121.71 L856.78,121.71 L856.85,121.71 L856.91,121.71 L856.97,121.71 L857.04,121.71 L857.1,121.71 L857.16,121.71 L857.23,121.71 L857.29,121.71 L857.35,121.71 L857.42,121.71 L857.48,121.71 L857.55,121.71 L857.61,121.71 L857.67,121.71 L857.74,121.71 L857.8,121.71 L857.86,121.71 L857.93,121.71 L857.99,121.71 L858.05,121.71 L858.12,121.71 L858.18,121.71 L858.24,121.71 L858.31,121.71 L858.37,121.71 L858.43,121.71 L858.5,121.71 L858.56,122.68 L858.62,124.13 L858.69,125.38 L858.75,126.46 L858.82,127.39 L858.88,128.2 L858.94,128.9 L859.01,129.51 L859.07,130.03 L859.13,130.49 L859.2,130.88 L859.26,131.22 L859.32,131.51 L859.39,131.77 L859.45,131.99 L859.51,132.18 L859.58,132.34 L859.64,132.48 L859.7,132.61 L859.77,132.71 L859.83,132.81 L859.89,132.89 L859.96,132.95 L860.02,133.01 L860.09,133.07 L860.15,133.11 L860.21,133.15 L860.28,133.18 L860.34,133.21 L860.4,133.24 L860.47,133.26 L860.53,133.28 L860.59,133.29 L860.66,133.31 L860.72,133.32 L860.78,133.33 L860.85,133.34 L860.91,133.35 L860.97,133.35 L861.04,133.36 L861.1,133.36 L861.16,133.37 L861.23,133.37 L861.29,133.37 L861.36,133.38 L861.42,133.38 L861.48,133.38 L861.55,133.38 L861.61,133.39 L861.67,133.39 L861.74,133.39 L861.8,133.39 L861.86,133.39 L861.93,133.39 L861.99,133.39 L862.05,133.39 L862.12,133.39 L862.18,133.39 L862.24,133.39 L862.31,133.39 L862.37,133.39 L862.43,133.39 L862.5,133.39 L862.56,133.39 L862.63,133.39 L862.69,133.4 L862.75,133.4 L862.82,133.4 L862.88,133.4 L862.94,133.4 L863.01,133.4 L863.07,133.4 L863.13,133.4 L863.2,133.4 L863.26,133.4 L863.32,133.4 L863.39,133.4 L863.45,133.4 L863.51,133.4 L863.58,133.4 L863.64,133.4 L863.7,133.4 L863.77,133.4 L863.83,133.4 L863.9,133.4 L863.96,132.42 L864.02,130.98 L864.09,129.73 L864.15,128.64 L864.21,127.71 L864.28,126.9 L864.34,126.2 L864.4,125.59 L864.47,125.07 L864.53,124.61 L864.59,124.22 L864.66,123.88 L864.72,123.59 L864.78,123.33 L864.85,123.11 L864.91,122.92 L864.97,122.76 L865.04,122.62 L865.1,122.49 L865.17,122.39 L865.23,122.3 L865.29,122.22 L865.36,122.15 L865.42,122.09 L865.48,122.04 L865.55,121.99 L865.61,121.95 L865.67,121.92 L865.74,121.89 L865.8,121.87 L865.86,121.84 L865.93,121.83 L865.99,121.81 L866.05,121.8 L866.12,121.78 L866.18,121.77 L866.24,121.76 L866.31,121.76 L866.37,121.75 L866.44,121.74 L866.5,121.74 L866.56,121.73 L866.63,121.73 L866.69,121.73 L866.75,121.72 L866.82,121.72 L866.88,121.72 L866.94,121.72 L867.01,121.72 L867.07,121.71 L867.13,121.71 L867.2,121.71 L867.26,121.71 L867.32,121.71 L867.39,121.71 L867.45,121.71 L867.51,121.71 L867.58,121.71 L867.64,121.71 L867.71,121.71 L867.77,121.71 L867.83,121.71 L867.9,121.71 L867.96,121.71 L868.02,121.71 L868.09,121.71 L868.15,121.71 L868.21,121.71 L868.28,121.71 L868.34,121.71 L868.4,121.71 L868.47,121.71 L868.53,121.71 L868.59,121.71 L868.66,121.71 L868.72,121.71 L868.78,121.71 L868.85,121.71 L868.91,121.71 L868.98,121.71 L869.04,121.71 L869.1,121.71 L869.17,121.71 L869.23,121.71 L869.29,121.71 L869.36,121.71 L869.42,121.71 L869.48,121.71 L869.55,121.71 L869.61,121.71 L869.67,121.71 L869.74,121.71 L869.8,121.71 L869.86,121.71 L869.93,121.71 L869.99,121.71 L870.05,121.71 L870.12,121.71 L870.18,121.71 L870.25,121.71 L870.31,121.71 L870.37,121.71 L870.44,121.71 L870.5,121.71 L870.56,121.71 L870.63,121.71 L870.69,121.71 L870.75,121.71 L870.82,121.71 L870.88,121.71 L870.94,121.71 L871.01,121.71 L871.07,121.71 L871.13,121.71 L871.2,121.71 L871.26,121.71 L871.32,121.71 L871.39,121.71 L871.45,121.71 L871.52,121.71 L871.58,121.71 L871.64,121.71 L871.71,121.71 L871.77,121.71 L871.83,121.71 L871.9,121.71 L871.96,121.71 L872.02,121.71 L872.09,121.71 L872.15,121.71 L872.21,121.71 L872.28,121.71 L872.34,121.71 L872.4,121.71 L872.47,121.71 L872.53,121.71 L872.59,121.71 L872.66,121.71 L872.72,121.71 L872.79,121.71 L872.85,121.71 L872.91,121.71 L872.98,121.71 L873.04,121.71 L873.1,121.71 L873.17,121.71 L873.23,121.71 L873.29,121.71 L873.36,121.71 L873.42,121.71 L873.48,121.71 L873.55,121.71 L873.61,121.71 L873.67,121.71 L873.74,121.71 L873.8,121.71 L873.86,121.71 L873.93,121.71 L873.99,121.71 L874.06,121.71 L874.12,120.66 L874.18,119.1 L874.25,117.75 L874.31,116.58 L874.37,115.57 L874.44,114.7 L874.5,113.95 L874.56,113.29 L874.63,112.73 L874.69,112.24 L874.75,111.82 L874.82,111.45 L874.88,111.14 L874.94,110.86 L875.01,110.63 L875.07,110.42 L875.13,110.24 L875.2,110.09 L875.26,109.96 L875.33,109.84 L875.39,109.74 L875.45,109.66 L875.52,109.58 L875.58,109.52 L875.64,109.46 L875.71,109.42 L875.77,109.37 L875.83,109.34 L875.9,109.31 L875.96,109.28 L876.02,109.26 L876.09,109.24 L876.15,109.22 L876.21,109.2 L876.28,109.19 L876.34,109.18 L876.4,109.17 L876.47,109.16 L876.53,109.15 L876.6,109.15 L876.66,109.14 L876.72,109.14 L876.79,109.13 L876.85,109.13 L876.91,109.13 L876.98,109.12 L877.04,109.12 L877.1,109.12 L877.17,109.12 L877.23,109.12 L877.29,109.12 L877.36,109.11 L877.42,109.11 L877.48,109.11 L877.55,109.11 L877.61,109.11 L877.67,109.11 L877.74,109.11 L877.8,109.11 L877.87,109.11 L877.93,109.11 L877.99,109.11 L878.06,109.11 L878.12,109.11 L878.18,109.11 L878.25,109.11 L878.31,109.11 L878.37,109.11 L878.44,109.11 L878.5,109.11 L878.56,109.11 L878.63,109.11 L878.69,109.11 L878.75,109.11 L878.82,109.11 L878.88,109.11 L878.94,109.11 L879.01,109.11 L879.07,109.11 L879.14,109.11 L879.2,110.16 L879.26,111.71 L879.33,113.06 L879.39,114.23 L879.45,115.24 L879.52,116.11 L879.58,116.87 L879.64,117.52 L879.71,118.08 L879.77,118.57 L879.83,118.99 L879.9,119.36 L879.96,119.68 L880.02,119.95 L880.09,120.19 L880.15,120.39 L880.21,120.57 L880.28,120.72 L880.34,120.86 L880.41,120.97 L880.47,121.07 L880.53,121.16 L880.6,121.23 L880.66,121.29 L880.72,121.35 L880.79,121.4 L880.85,121.44 L880.91,121.47 L880.98,121.51 L881.04,121.53 L881.1,121.56 L881.17,121.58 L881.23,121.59 L881.29,121.61 L881.36,121.62 L881.42,121.63 L881.48,121.64 L881.55,121.65 L881.61,121.66 L881.68,121.66 L881.74,121.67 L881.8,121.68 L881.87,121.68 L881.93,121.68 L881.99,121.69 L882.06,121.69 L882.12,121.69 L882.18,121.69 L882.25,121.69 L882.31,121.7 L882.37,121.7 L882.44,121.7 L882.5,121.7 L882.56,121.7 L882.63,121.7 L882.69,121.7 L882.75,121.7 L882.82,121.7 L882.88,121.7 L882.95,121.7 L883.01,121.7 L883.07,121.7 L883.14,121.7 L883.2,121.7 L883.26,121.7 L883.33,121.7 L883.39,121.7 L883.45,121.7 L883.52,121.7 L883.58,121.7 L883.64,121.71 L883.71,121.71 L883.77,121.71 L883.83,121.71 L883.9,121.71 L883.96,121.71 L884.02,121.71 L884.09,121.71 L884.15,121.71 L884.22,121.71 L884.28,121.71 L884.34,121.71 L884.41,121.71 L884.47,121.71 L884.53,121.71 L884.6,121.71 L884.66,121.71 L884.72,121.71 L884.79,121.71 L884.85,121.71 L884.91,121.71 L884.98,121.71 L885.04,121.71 L885.1,121.71 L885.17,121.71 L885.23,121.71 L885.29,121.71 L885.36,121.71 L885.42,121.71 L885.49,121.71 L885.55,121.71 L885.61,121.71 L885.68,121.71 L885.74,121.71 L885.8,121.71 L885.87,121.71 L885.93,121.71 L885.99,121.71 L886.06,121.71 L886.12,121.71 L886.18,121.71 L886.25,121.71 L886.31,121.71 L886.37,121.71 L886.44,121.71 L886.5,121.71 L886.56,121.71 L886.63,121.71 L886.69,121.71 L886.76,121.71 L886.82,121.71 L886.88,121.71 L886.95,121.71 L887.01,121.71 L887.07,121.71 L887.14,121.71 L887.2,121.71 L887.26,121.71 L887.33,121.71 L887.39,121.71 L887.45,121.71 L887.52,121.71 L887.58,121.71 L887.64,121.71 L887.71,121.71 L887.77,121.71 L887.83,121.71 L887.9,121.71 L887.96,121.71 L888.03,121.71 L888.09,121.71 L888.15,121.71 L888.22,121.71 L888.28,121.71 L888.34,121.71 L888.41,121.71 L888.47,121.71 L888.53,121.71 L888.6,121.71 L888.66,121.71 L888.72,121.71 L888.79,121.71 L888.85,121.71 L888.91,121.71 L888.98,121.71 L889.04,121.71 L889.1,121.71 L889.17,121.71 L889.23,121.71 L889.3,121.71 L889.36,121.71 L889.42,121.71 L889.49,121.71 L889.55,121.71 L889.61,121.71 L889.68,121.71 L889.74,121.71 L889.8,122.04 L889.87,123.57 L889.93,124.9 L889.99,126.04 L890.06,127.04 L890.12,127.89 L890.18,128.64 L890.25,129.28 L890.31,129.83 L890.37,130.31 L890.44,130.73 L890.5,131.09 L890.57,131.4 L890.63,131.67 L890.69,131.9 L890.76,132.1 L890.82,132.28 L890.88,132.43 L890.95,132.56 L891.01,132.67 L891.07,132.77 L891.14,132.85 L891.2,132.93 L891.26,132.99 L891.33,133.05 L891.39,133.09 L891.45,133.13 L891.52,133.17 L891.58,133.2 L891.64,133.23 L891.71,133.25 L891.77,133.27 L891.84,133.29 L891.9,133.3 L891.96,133.31 L892.03,133.32 L892.09,133.33 L892.15,133.34 L892.22,133.35 L892.28,133.36 L892.34,133.36 L892.41,133.37 L892.47,133.37 L892.53,133.37 L892.6,133.38 L892.66,133.38 L892.72,133.38 L892.79,133.38 L892.85,133.39 L892.91,133.39 L892.98,133.39 L893.04,133.39 L893.11,133.39 L893.17,133.39 L893.23,133.39 L893.3,133.39 L893.36,133.39 L893.42,133.39 L893.49,133.39 L893.55,133.39 L893.61,133.39 L893.68,133.39 L893.74,133.39 L893.8,133.39 L893.87,133.39 L893.93,133.4 L893.99,133.4 L894.06,133.4 L894.12,133.4 L894.18,133.4 L894.25,133.4 L894.31,133.4 L894.38,133.4 L894.44,133.4 L894.5,133.4 L894.57,133.4 L894.63,133.4 L894.69,133.4 L894.76,133.4 L894.82,133.4 L894.88,133.4 L894.95,133.4 L895.01,133.4 L895.07,133.4 L895.14,133.4 L895.2,133.06 L895.26,131.53 L895.33,130.2 L895.39,129.06 L895.45,128.07 L895.52,127.21 L895.58,126.47 L895.65,125.82 L895.71,125.27 L895.77,124.79 L895.84,124.37 L895.9,124.01 L895.96,123.7 L896.03,123.43 L896.09,123.2 L896.15,123 L896.22,122.82 L896.28,122.67 L896.34,122.54 L896.41,122.43 L896.47,122.33 L896.53,122.25 L896.6,122.17 L896.66,122.11 L896.72,122.06 L896.79,122.01 L896.85,121.97 L896.92,121.93 L896.98,121.9 L897.04,121.88 L897.11,121.85 L897.17,121.83 L897.23,121.82 L897.3,121.8 L897.36,121.79 L897.42,121.78 L897.49,121.77 L897.55,121.76 L897.61,121.75 L897.68,121.75 L897.74,121.74 L897.8,121.74 L897.87,121.73 L897.93,121.73 L897.99,121.72 L898.06,121.72 L898.12,121.72 L898.19,121.72 L898.25,121.72 L898.31,121.71 L898.38,121.71 L898.44,121.71 L898.5,121.71 L898.57,121.71 L898.63,121.71 L898.69,121.71 L898.76,121.71 L898.82,121.71 L898.88,121.71 L898.95,121.71 L899.01,121.71 L899.07,121.71 L899.14,121.71 L899.2,121.71 L899.26,121.71 L899.33,121.71 L899.39,121.71 L899.46,121.71 L899.52,121.71 L899.58,121.71 L899.65,121.71 L899.71,121.71 L899.77,121.71 L899.84,121.71 L899.9,121.71 L899.96,121.71 L900.03,121.71 L900.09,121.71 L900.15,121.71 L900.22,121.71 L900.28,121.71 L900.34,121.71 L900.41,121.71 L900.47,121.71 L900.53,121.71 L900.6,121.71 L900.66,121.71 L900.73,121.71 L900.79,121.71 L900.85,121.71 L900.92,121.71 L900.98,121.71 L901.04,121.71 L901.11,121.71 L901.17,121.71 L901.23,121.71 L901.3,121.71 L901.36,121.71 L901.42,121.71 L901.49,121.71 L901.55,121.71 L901.61,121.71 L901.68,121.71 L901.74,121.71 L901.8,121.71 L901.87,121.71 L901.93,121.71 L902,121.71 L902.06,121.71 L902.12,121.71 L902.19,121.71 L902.25,121.71 L902.31,121.71 L902.38,121.71 L902.44,121.71 L902.5,121.71 L902.57,121.71 L902.63,121.71 L902.69,121.71 L902.76,121.71 L902.82,121.71 L902.88,121.71 L902.95,121.71 L903.01,121.71 L903.07,121.71 L903.14,121.71 L903.2,121.71 L903.27,121.71 L903.33,121.71 L903.39,121.71 L903.46,121.71 L903.52,121.71 L903.58,121.71 L903.65,121.71 L903.71,121.71 L903.77,121.71 L903.84,121.71 L903.9,121.71 L903.96,121.71 L904.03,121.71 L904.09,121.71 L904.15,121.71 L904.22,121.71 L904.28,121.71 L904.34,121.71 L904.41,121.71 L904.47,121.71 L904.54,121.71 L904.6,121.71 L904.66,121.71 L904.73,121.71 L904.79,121.71 L904.85,121.71 L904.92,121.71 L904.98,121.71 L905.04,121.71 L905.11,121.71 L905.17,121.71 L905.23,121.71 L905.3,121.71 L905.36,121.35 L905.42,119.69 L905.49,118.27 L905.55,117.03 L905.61,115.96 L905.68,115.04 L905.74,114.24 L905.81,113.54 L905.87,112.95 L905.93,112.43 L906,111.98 L906.06,111.59 L906.12,111.26 L906.19,110.97 L906.25,110.72 L906.31,110.5 L906.38,110.31 L906.44,110.15 L906.5,110.01 L906.57,109.89 L906.63,109.78 L906.69,109.69 L906.76,109.61 L906.82,109.54 L906.88,109.48 L906.95,109.43 L907.01,109.39 L907.08,109.35 L907.14,109.32 L907.2,109.29 L907.27,109.27 L907.33,109.24 L907.39,109.23 L907.46,109.21 L907.52,109.2 L907.58,109.18 L907.65,109.17 L907.71,109.16 L907.77,109.16 L907.84,109.15 L907.9,109.14 L907.96,109.14 L908.03,109.13 L908.09,109.13 L908.15,109.13 L908.22,109.12 L908.28,109.12 L908.35,109.12 L908.41,109.12 L908.47,109.12 L908.54,109.12 L908.6,109.11 L908.66,109.11 L908.73,109.11 L908.79,109.11 L908.85,109.11 L908.92,109.11 L908.98,109.11 L909.04,109.11 L909.11,109.11 L909.17,109.11 L909.23,109.11 L909.3,109.11 L909.36,109.11 L909.42,109.11 L909.49,109.11 L909.55,109.11 L909.62,109.11 L909.68,109.11 L909.74,109.11 L909.81,109.11 L909.87,109.11 L909.93,109.11 L910,109.11 L910.06,109.11 L910.12,109.11 L910.19,109.11 L910.25,109.11 L910.31,109.11 L910.38,109.11 L910.44,109.47 L910.5,111.12 L910.57,112.55 L910.63,113.78 L910.69,114.85 L910.76,115.78 L910.82,116.58 L910.89,117.27 L910.95,117.87 L911.01,118.38 L911.08,118.83 L911.14,119.22 L911.2,119.56 L911.27,119.85 L911.33,120.1 L911.39,120.31 L911.46,120.5 L911.52,120.66 L911.58,120.8 L911.65,120.93 L911.71,121.03 L911.77,121.12 L911.84,121.2 L911.9,121.27 L911.96,121.33 L912.03,121.38 L912.09,121.42 L912.16,121.46 L912.22,121.49 L912.28,121.52 L912.35,121.55 L912.41,121.57 L912.47,121.59 L912.54,121.6 L912.6,121.62 L912.66,121.63 L912.73,121.64 L912.79,121.65 L912.85,121.66 L912.92,121.66 L912.98,121.67 L913.04,121.67 L913.11,121.68 L913.17,121.68 L913.23,121.68 L913.3,121.69 L913.36,121.69 L913.43,121.69 L913.49,121.69 L913.55,121.7 L913.62,121.7 L913.68,121.7 L913.74,121.7 L913.81,121.7 L913.87,121.7 L913.93,121.7 L914,121.7 L914.06,121.7 L914.12,121.7 L914.19,121.7 L914.25,121.7 L914.31,121.7 L914.38,121.7 L914.44,121.7 L914.5,121.7 L914.57,121.7 L914.63,121.7 L914.7,121.7 L914.76,121.7 L914.82,121.7 L914.89,121.71 L914.95,121.71 L915.01,121.71 L915.08,121.71 L915.14,121.71 L915.2,121.71 L915.27,121.71 L915.33,121.71 L915.39,121.71 L915.46,121.71 L915.52,121.71 L915.58,121.71 L915.65,121.71 L915.71,121.71 L915.77,121.71 L915.84,121.71 L915.9,121.71 L915.97,121.71 L916.03,121.71 L916.09,121.71 L916.16,121.71 L916.22,121.71 L916.28,121.71 L916.35,121.71 L916.41,121.71 L916.47,121.71 L916.54,121.71 L916.6,121.71 L916.66,121.71 L916.73,121.71 L916.79,121.71 L916.85,121.71 L916.92,121.71 L916.98,121.71 L917.04,121.71 L917.11,121.71 L917.17,121.71 L917.24,121.71 L917.3,121.71 L917.36,121.71 L917.43,121.71 L917.49,121.71 L917.55,121.71 L917.62,121.71 L917.68,121.71 L917.74,121.71 L917.81,121.71 L917.87,121.71 L917.93,121.71 L918,121.71 L918.06,121.71 L918.12,121.71 L918.19,121.71 L918.25,121.71 L918.31,121.71 L918.38,121.71 L918.44,121.71 L918.51,121.71 L918.57,121.71 L918.63,121.71 L918.7,121.71 L918.76,121.71 L918.82,121.71 L918.89,121.71 L918.95,121.71 L919.01,121.71 L919.08,121.71 L919.14,121.71 L919.2,121.71 L919.27,121.71 L919.33,121.71 L919.39,121.71 L919.46,121.71 L919.52,121.71 L919.58,121.71 L919.65,121.71 L919.71,121.71 L919.78,121.71 L919.84,121.71 L919.9,121.71 L919.97,121.71 L920.03,121.71 L920.09,121.71 L920.16,121.71 L920.22,121.71 L920.28,121.71 L920.35,121.71 L920.41,121.71 L920.47,121.71 L920.54,121.71 L920.6,121.71 L920.66,121.71 L920.73,121.71 L920.79,121.71 L920.85,121.71 L920.92,121.71 L920.98,121.71 L921.05,121.71 L921.11,122.68 L921.17,124.13 L921.24,125.38 L921.3,126.46 L921.36,127.39 L921.43,128.2 L921.49,128.9 L921.55,129.51 L921.62,130.03 L921.68,130.49 L921.74,130.88 L921.81,131.22 L921.87,131.51 L921.93,131.77 L922,131.99 L922.06,132.18 L922.12,132.34 L922.19,132.48 L922.25,132.61 L922.32,132.71 L922.38,132.81 L922.44,132.89 L922.51,132.95 L922.57,133.01 L922.63,133.07 L922.7,133.11 L922.76,133.15 L922.82,133.18 L922.89,133.21 L922.95,133.24 L923.01,133.26 L923.08,133.28 L923.14,133.29 L923.2,133.31 L923.27,133.32 L923.33,133.33 L923.39,133.34 L923.46,133.35 L923.52,133.35 L923.59,133.36 L923.65,133.36 L923.71,133.37 L923.78,133.37 L923.84,133.37 L923.9,133.38 L923.97,133.38 L924.03,133.38 L924.09,133.38 L924.16,133.39 L924.22,133.39 L924.28,133.39 L924.35,133.39 L924.41,133.39 L924.47,133.39 L924.54,133.39 L924.6,133.39 L924.66,133.39 L924.73,133.39 L924.79,133.39 L924.86,133.39 L924.92,133.39 L924.98,133.39 L925.05,133.39 L925.11,133.39 L925.17,133.39 L925.24,133.4 L925.3,133.4 L925.36,133.4 L925.43,133.4 L925.49,133.4 L925.55,133.4 L925.62,133.4 L925.68,133.4 L925.74,133.4 L925.81,133.4 L925.87,133.4 L925.93,133.4 L926,133.4 L926.06,133.4 L926.13,133.4 L926.19,133.4 L926.25,133.4 L926.32,133.4 L926.38,133.4 L926.44,133.4 L926.51,132.42 L926.57,130.98 L926.63,129.73 L926.7,128.64 L926.76,127.71 L926.82,126.9 L926.89,126.2 L926.95,125.59 L927.01,125.07 L927.08,124.61 L927.14,124.22 L927.2,123.88 L927.27,123.59 L927.33,123.33 L927.4,123.11 L927.46,122.92 L927.52,122.76 L927.59,122.62 L927.65,122.49 L927.71,122.39 L927.78,122.3 L927.84,122.22 L927.9,122.15 L927.97,122.09 L928.03,122.04 L928.09,121.99 L928.16,121.95 L928.22,121.92 L928.28,121.89 L928.35,121.87 L928.41,121.84 L928.47,121.83 L928.54,121.81 L928.6,121.8 L928.67,121.78 L928.73,121.77 L928.79,121.76 L928.86,121.76 L928.92,121.75 L928.98,121.74 L929.05,121.74 L929.11,121.73 L929.17,121.73 L929.24,121.73 L929.3,121.72 L929.36,121.72 L929.43,121.72 L929.49,121.72 L929.55,121.72 L929.62,121.71 L929.68,121.71 L929.74,121.71 L929.81,121.71 L929.87,121.71 L929.94,121.71 L930,121.71 L930.06,121.71 L930.13,121.71 L930.19,121.71 L930.25,121.71 L930.32,121.71 L930.38,121.71 L930.44,121.71 L930.51,121.71 L930.57,121.71 L930.63,121.71 L930.7,121.71 L930.76,121.71 L930.82,121.71 L930.89,121.71 L930.95,121.71 L931.01,121.71 L931.08,121.71 L931.14,121.71 L931.21,121.71 L931.27,121.71 L931.33,121.71 L931.4,121.71 L931.46,121.71 L931.52,121.71 L931.59,121.71 L931.65,121.71 L931.71,121.71 L931.78,121.71 L931.84,121.71 L931.9,121.71 L931.97,121.71 L932.03,121.71 L932.09,121.71 L932.16,121.71 L932.22,121.71 L932.28,121.71 L932.35,121.71 L932.41,121.71 L932.48,121.71 L932.54,121.71 L932.6,121.71 L932.67,121.71 L932.73,121.71 L932.79,121.71 L932.86,121.71 L932.92,121.71 L932.98,121.71 L933.05,121.71 L933.11,121.71 L933.17,121.71 L933.24,121.71 L933.3,121.71 L933.36,121.71 L933.43,121.71 L933.49,121.71 L933.55,121.71 L933.62,121.71 L933.68,121.71 L933.75,121.71 L933.81,121.71 L933.87,121.71 L933.94,121.71 L934,121.71 L934.06,121.71 L934.13,121.71 L934.19,121.71 L934.25,121.71 L934.32,121.71 L934.38,121.71 L934.44,121.71 L934.51,121.71 L934.57,121.71 L934.63,121.71 L934.7,121.71 L934.76,121.71 L934.82,121.71 L934.89,121.71 L934.95,121.71 L935.02,121.71 L935.08,121.71 L935.14,121.71 L935.21,121.71 L935.27,121.71 L935.33,121.71 L935.4,121.71 L935.46,121.71 L935.52,121.71 L935.59,121.71 L935.65,121.71 L935.71,121.71 L935.78,121.71 L935.84,121.71 L935.9,121.71 L935.97,121.71 L936.03,121.71 L936.09,121.71 L936.16,121.71 L936.22,121.71 L936.29,121.71 L936.35,121.71 L936.41,121.71 L936.48,121.71 L936.54,121.71 L936.6,121.71 L936.67,120.66 L936.73,119.1 L936.79,117.75 L936.86,116.58 L936.92,115.57 L936.98,114.7 L937.05,113.95 L937.11,113.29 L937.17,112.73 L937.24,112.24 L937.3,111.82 L937.36,111.45 L937.43,111.14 L937.49,110.86 L937.56,110.63 L937.62,110.42 L937.68,110.24 L937.75,110.09 L937.81,109.96 L937.87,109.84 L937.94,109.74 L938,109.66 L938.06,109.58 L938.13,109.52 L938.19,109.46 L938.25,109.42 L938.32,109.37 L938.38,109.34 L938.44,109.31 L938.51,109.28 L938.57,109.26 L938.63,109.24 L938.7,109.22 L938.76,109.2 L938.83,109.19 L938.89,109.18 L938.95,109.17 L939.02,109.16 L939.08,109.15 L939.14,109.15 L939.21,109.14 L939.27,109.14 L939.33,109.13 L939.4,109.13 L939.46,109.13 L939.52,109.12 L939.59,109.12 L939.65,109.12 L939.71,109.12 L939.78,109.12 L939.84,109.12 L939.9,109.11 L939.97,109.11 L940.03,109.11 L940.1,109.11 L940.16,109.11 L940.22,109.11 L940.29,109.11 L940.35,109.11 L940.41,109.11 L940.48,109.11 L940.54,109.11 L940.6,109.11 L940.67,109.11 L940.73,109.11 L940.79,109.11 L940.86,109.11 L940.92,109.11 L940.98,109.11 L941.05,109.11 L941.11,109.11 L941.17,109.11 L941.24,109.11 L941.3,109.11 L941.37,109.11 L941.43,109.11 L941.49,109.11 L941.56,109.11 L941.62,109.11 L941.68,109.11 L941.75,110.16 L941.81,111.71 L941.87,113.06 L941.94,114.23 L942,115.24 L942.06,116.11 L942.13,116.87 L942.19,117.52 L942.25,118.08 L942.32,118.57 L942.38,118.99 L942.44,119.36 L942.51,119.68 L942.57,119.95 L942.64,120.19 L942.7,120.39 L942.76,120.57 L942.83,120.72 L942.89,120.86 L942.95,120.97 L943.02,121.07 L943.08,121.16 L943.14,121.23 L943.21,121.29 L943.27,121.35 L943.33,121.4 L943.4,121.44 L943.46,121.47 L943.52,121.51 L943.59,121.53 L943.65,121.56 L943.71,121.58 L943.78,121.59 L943.84,121.61 L943.91,121.62 L943.97,121.63 L944.03,121.64 L944.1,121.65 L944.16,121.66 L944.22,121.66 L944.29,121.67 L944.35,121.68 L944.41,121.68 L944.48,121.68 L944.54,121.69 L944.6,121.69 L944.67,121.69 L944.73,121.69 L944.79,121.69 L944.86,121.7 L944.92,121.7 L944.98,121.7 L945.05,121.7 L945.11,121.7 L945.18,121.7 L945.24,121.7 L945.3,121.7 L945.37,121.7 L945.43,121.7 L945.49,121.7 L945.56,121.7 L945.62,121.7 L945.68,121.7 L945.75,121.7 L945.81,121.7 L945.87,121.7 L945.94,121.7 L946,121.7 L946.06,121.7 L946.13,121.7 L946.19,121.71 L946.25,121.71 L946.32,121.71 L946.38,121.71 L946.45,121.71 L946.51,121.71 L946.57,121.71 L946.64,121.71 L946.7,121.71 L946.76,121.71 L946.83,121.71 L946.89,121.71 L946.95,121.71 L947.02,121.71 L947.08,121.71 L947.14,121.71 L947.21,121.71 L947.27,121.71 L947.33,121.71 L947.4,121.71 L947.46,121.71 L947.52,121.71 L947.59,121.71 L947.65,121.71" fill="none" stroke="#1f56a8" stroke-width="2.4" stroke-linejoin="round" stroke-linecap="round" />
<line x1="54.2" y1="298.7" x2="281.6" y2="298.7" stroke="#3a3a3a" stroke-width="1"/>
<line x1="54.2" y1="298.7" x2="54.2" y2="481.2" stroke="#3a3a3a" stroke-width="1"/>
<line x1="54.2" y1="481.2" x2="281.6" y2="481.2" stroke="#3a3a3a" stroke-width="1"/>
<line x1="281.6" y1="298.7" x2="281.6" y2="481.2" stroke="#c8161d" stroke-width="1"/>
<line x1="54.2" y1="481.2" x2="54.2" y2="484.7" stroke="#3a3a3a" stroke-width="1"/>
<line x1="54.2" y1="298.7" x2="54.2" y2="301.2" stroke="#3a3a3a" stroke-width="1"/>
<text x="54.2" y="497" font-size="11" fill="#1a1a1a" text-anchor="middle"  stroke="#1a1a1a" stroke-width="0.32">100</text>
<line x1="70.12" y1="481.2" x2="70.12" y2="483.2" stroke="#3a3a3a" stroke-width="1"/>
<line x1="70.12" y1="298.7" x2="70.12" y2="300.2" stroke="#3a3a3a" stroke-width="1"/>
<line x1="79.44" y1="481.2" x2="79.44" y2="483.2" stroke="#3a3a3a" stroke-width="1"/>
<line x1="79.44" y1="298.7" x2="79.44" y2="300.2" stroke="#3a3a3a" stroke-width="1"/>
<line x1="86.05" y1="481.2" x2="86.05" y2="483.2" stroke="#3a3a3a" stroke-width="1"/>
<line x1="86.05" y1="298.7" x2="86.05" y2="300.2" stroke="#3a3a3a" stroke-width="1"/>
<line x1="91.18" y1="481.2" x2="91.18" y2="483.2" stroke="#3a3a3a" stroke-width="1"/>
<line x1="91.18" y1="298.7" x2="91.18" y2="300.2" stroke="#3a3a3a" stroke-width="1"/>
<line x1="95.36" y1="481.2" x2="95.36" y2="483.2" stroke="#3a3a3a" stroke-width="1"/>
<line x1="95.36" y1="298.7" x2="95.36" y2="300.2" stroke="#3a3a3a" stroke-width="1"/>
<line x1="98.91" y1="481.2" x2="98.91" y2="483.2" stroke="#3a3a3a" stroke-width="1"/>
<line x1="98.91" y1="298.7" x2="98.91" y2="300.2" stroke="#3a3a3a" stroke-width="1"/>
<line x1="101.97" y1="481.2" x2="101.97" y2="483.2" stroke="#3a3a3a" stroke-width="1"/>
<line x1="101.97" y1="298.7" x2="101.97" y2="300.2" stroke="#3a3a3a" stroke-width="1"/>
<line x1="104.68" y1="481.2" x2="104.68" y2="483.2" stroke="#3a3a3a" stroke-width="1"/>
<line x1="104.68" y1="298.7" x2="104.68" y2="300.2" stroke="#3a3a3a" stroke-width="1"/>
<line x1="107.1" y1="481.2" x2="107.1" y2="484.7" stroke="#3a3a3a" stroke-width="1"/>
<line x1="107.1" y1="298.7" x2="107.1" y2="301.2" stroke="#3a3a3a" stroke-width="1"/>
<text x="107.1" y="497" font-size="11" fill="#1a1a1a" text-anchor="middle"  stroke="#1a1a1a" stroke-width="0.32">1000</text>
<line x1="123.02" y1="481.2" x2="123.02" y2="483.2" stroke="#3a3a3a" stroke-width="1"/>
<line x1="123.02" y1="298.7" x2="123.02" y2="300.2" stroke="#3a3a3a" stroke-width="1"/>
<line x1="132.34" y1="481.2" x2="132.34" y2="483.2" stroke="#3a3a3a" stroke-width="1"/>
<line x1="132.34" y1="298.7" x2="132.34" y2="300.2" stroke="#3a3a3a" stroke-width="1"/>
<line x1="138.95" y1="481.2" x2="138.95" y2="483.2" stroke="#3a3a3a" stroke-width="1"/>
<line x1="138.95" y1="298.7" x2="138.95" y2="300.2" stroke="#3a3a3a" stroke-width="1"/>
<line x1="144.08" y1="481.2" x2="144.08" y2="483.2" stroke="#3a3a3a" stroke-width="1"/>
<line x1="144.08" y1="298.7" x2="144.08" y2="300.2" stroke="#3a3a3a" stroke-width="1"/>
<line x1="148.26" y1="481.2" x2="148.26" y2="483.2" stroke="#3a3a3a" stroke-width="1"/>
<line x1="148.26" y1="298.7" x2="148.26" y2="300.2" stroke="#3a3a3a" stroke-width="1"/>
<line x1="151.81" y1="481.2" x2="151.81" y2="483.2" stroke="#3a3a3a" stroke-width="1"/>
<line x1="151.81" y1="298.7" x2="151.81" y2="300.2" stroke="#3a3a3a" stroke-width="1"/>
<line x1="154.87" y1="481.2" x2="154.87" y2="483.2" stroke="#3a3a3a" stroke-width="1"/>
<line x1="154.87" y1="298.7" x2="154.87" y2="300.2" stroke="#3a3a3a" stroke-width="1"/>
<line x1="157.58" y1="481.2" x2="157.58" y2="483.2" stroke="#3a3a3a" stroke-width="1"/>
<line x1="157.58" y1="298.7" x2="157.58" y2="300.2" stroke="#3a3a3a" stroke-width="1"/>
<line x1="160" y1="481.2" x2="160" y2="484.7" stroke="#3a3a3a" stroke-width="1"/>
<line x1="160" y1="298.7" x2="160" y2="301.2" stroke="#3a3a3a" stroke-width="1"/>
<text x="160" y="497" font-size="11" fill="#1a1a1a" text-anchor="middle"  stroke="#1a1a1a" stroke-width="0.32">10000</text>
<line x1="175.92" y1="481.2" x2="175.92" y2="483.2" stroke="#3a3a3a" stroke-width="1"/>
<line x1="175.92" y1="298.7" x2="175.92" y2="300.2" stroke="#3a3a3a" stroke-width="1"/>
<line x1="185.24" y1="481.2" x2="185.24" y2="483.2" stroke="#3a3a3a" stroke-width="1"/>
<line x1="185.24" y1="298.7" x2="185.24" y2="300.2" stroke="#3a3a3a" stroke-width="1"/>
<line x1="191.85" y1="481.2" x2="191.85" y2="483.2" stroke="#3a3a3a" stroke-width="1"/>
<line x1="191.85" y1="298.7" x2="191.85" y2="300.2" stroke="#3a3a3a" stroke-width="1"/>
<line x1="196.98" y1="481.2" x2="196.98" y2="483.2" stroke="#3a3a3a" stroke-width="1"/>
<line x1="196.98" y1="298.7" x2="196.98" y2="300.2" stroke="#3a3a3a" stroke-width="1"/>
<line x1="201.16" y1="481.2" x2="201.16" y2="483.2" stroke="#3a3a3a" stroke-width="1"/>
<line x1="201.16" y1="298.7" x2="201.16" y2="300.2" stroke="#3a3a3a" stroke-width="1"/>
<line x1="204.71" y1="481.2" x2="204.71" y2="483.2" stroke="#3a3a3a" stroke-width="1"/>
<line x1="204.71" y1="298.7" x2="204.71" y2="300.2" stroke="#3a3a3a" stroke-width="1"/>
<line x1="207.77" y1="481.2" x2="207.77" y2="483.2" stroke="#3a3a3a" stroke-width="1"/>
<line x1="207.77" y1="298.7" x2="207.77" y2="300.2" stroke="#3a3a3a" stroke-width="1"/>
<line x1="210.48" y1="481.2" x2="210.48" y2="483.2" stroke="#3a3a3a" stroke-width="1"/>
<line x1="210.48" y1="298.7" x2="210.48" y2="300.2" stroke="#3a3a3a" stroke-width="1"/>
<line x1="212.9" y1="481.2" x2="212.9" y2="484.7" stroke="#3a3a3a" stroke-width="1"/>
<line x1="212.9" y1="298.7" x2="212.9" y2="301.2" stroke="#3a3a3a" stroke-width="1"/>
<text x="212.9" y="497" font-size="11" fill="#1a1a1a" text-anchor="middle"  stroke="#1a1a1a" stroke-width="0.32">100000</text>
<line x1="228.82" y1="481.2" x2="228.82" y2="483.2" stroke="#3a3a3a" stroke-width="1"/>
<line x1="228.82" y1="298.7" x2="228.82" y2="300.2" stroke="#3a3a3a" stroke-width="1"/>
<line x1="238.14" y1="481.2" x2="238.14" y2="483.2" stroke="#3a3a3a" stroke-width="1"/>
<line x1="238.14" y1="298.7" x2="238.14" y2="300.2" stroke="#3a3a3a" stroke-width="1"/>
<line x1="244.75" y1="481.2" x2="244.75" y2="483.2" stroke="#3a3a3a" stroke-width="1"/>
<line x1="244.75" y1="298.7" x2="244.75" y2="300.2" stroke="#3a3a3a" stroke-width="1"/>
<line x1="249.88" y1="481.2" x2="249.88" y2="483.2" stroke="#3a3a3a" stroke-width="1"/>
<line x1="249.88" y1="298.7" x2="249.88" y2="300.2" stroke="#3a3a3a" stroke-width="1"/>
<line x1="254.06" y1="481.2" x2="254.06" y2="483.2" stroke="#3a3a3a" stroke-width="1"/>
<line x1="254.06" y1="298.7" x2="254.06" y2="300.2" stroke="#3a3a3a" stroke-width="1"/>
<line x1="257.61" y1="481.2" x2="257.61" y2="483.2" stroke="#3a3a3a" stroke-width="1"/>
<line x1="257.61" y1="298.7" x2="257.61" y2="300.2" stroke="#3a3a3a" stroke-width="1"/>
<line x1="260.67" y1="481.2" x2="260.67" y2="483.2" stroke="#3a3a3a" stroke-width="1"/>
<line x1="260.67" y1="298.7" x2="260.67" y2="300.2" stroke="#3a3a3a" stroke-width="1"/>
<line x1="263.38" y1="481.2" x2="263.38" y2="483.2" stroke="#3a3a3a" stroke-width="1"/>
<line x1="263.38" y1="298.7" x2="263.38" y2="300.2" stroke="#3a3a3a" stroke-width="1"/>
<line x1="265.8" y1="481.2" x2="265.8" y2="484.7" stroke="#3a3a3a" stroke-width="1"/>
<line x1="265.8" y1="298.7" x2="265.8" y2="301.2" stroke="#3a3a3a" stroke-width="1"/>
<text x="265.8" y="497" font-size="11" fill="#1a1a1a" text-anchor="middle"  stroke="#1a1a1a" stroke-width="0.32">1000000</text>
<line x1="50.7" y1="481.2" x2="54.2" y2="481.2" stroke="#3a3a3a" stroke-width="1"/>
<text x="48.2" y="484.8" font-size="11" fill="#1a1a1a" text-anchor="end" stroke="#1a1a1a" stroke-width="0.32">10<tspan dy="-4.5" font-size="8">-2</tspan></text>
<line x1="52.2" y1="466.15" x2="54.2" y2="466.15" stroke="#3a3a3a" stroke-width="1"/>
<line x1="52.2" y1="457.34" x2="54.2" y2="457.34" stroke="#3a3a3a" stroke-width="1"/>
<line x1="52.2" y1="451.1" x2="54.2" y2="451.1" stroke="#3a3a3a" stroke-width="1"/>
<line x1="52.2" y1="446.25" x2="54.2" y2="446.25" stroke="#3a3a3a" stroke-width="1"/>
<line x1="52.2" y1="442.29" x2="54.2" y2="442.29" stroke="#3a3a3a" stroke-width="1"/>
<line x1="52.2" y1="438.95" x2="54.2" y2="438.95" stroke="#3a3a3a" stroke-width="1"/>
<line x1="52.2" y1="436.05" x2="54.2" y2="436.05" stroke="#3a3a3a" stroke-width="1"/>
<line x1="52.2" y1="433.49" x2="54.2" y2="433.49" stroke="#3a3a3a" stroke-width="1"/>
<line x1="50.7" y1="431.2" x2="54.2" y2="431.2" stroke="#3a3a3a" stroke-width="1"/>
<text x="48.2" y="434.8" font-size="11" fill="#1a1a1a" text-anchor="end" stroke="#1a1a1a" stroke-width="0.32">10<tspan dy="-4.5" font-size="8">-1</tspan></text>
<line x1="52.2" y1="416.15" x2="54.2" y2="416.15" stroke="#3a3a3a" stroke-width="1"/>
<line x1="52.2" y1="407.34" x2="54.2" y2="407.34" stroke="#3a3a3a" stroke-width="1"/>
<line x1="52.2" y1="401.1" x2="54.2" y2="401.1" stroke="#3a3a3a" stroke-width="1"/>
<line x1="52.2" y1="396.25" x2="54.2" y2="396.25" stroke="#3a3a3a" stroke-width="1"/>
<line x1="52.2" y1="392.29" x2="54.2" y2="392.29" stroke="#3a3a3a" stroke-width="1"/>
<line x1="52.2" y1="388.95" x2="54.2" y2="388.95" stroke="#3a3a3a" stroke-width="1"/>
<line x1="52.2" y1="386.05" x2="54.2" y2="386.05" stroke="#3a3a3a" stroke-width="1"/>
<line x1="52.2" y1="383.49" x2="54.2" y2="383.49" stroke="#3a3a3a" stroke-width="1"/>
<line x1="50.7" y1="381.2" x2="54.2" y2="381.2" stroke="#3a3a3a" stroke-width="1"/>
<text x="48.2" y="384.8" font-size="11" fill="#1a1a1a" text-anchor="end" stroke="#1a1a1a" stroke-width="0.32">10<tspan dy="-4.5" font-size="8">0</tspan></text>
<line x1="52.2" y1="366.15" x2="54.2" y2="366.15" stroke="#3a3a3a" stroke-width="1"/>
<line x1="52.2" y1="357.34" x2="54.2" y2="357.34" stroke="#3a3a3a" stroke-width="1"/>
<line x1="52.2" y1="351.1" x2="54.2" y2="351.1" stroke="#3a3a3a" stroke-width="1"/>
<line x1="52.2" y1="346.25" x2="54.2" y2="346.25" stroke="#3a3a3a" stroke-width="1"/>
<line x1="52.2" y1="342.29" x2="54.2" y2="342.29" stroke="#3a3a3a" stroke-width="1"/>
<line x1="52.2" y1="338.95" x2="54.2" y2="338.95" stroke="#3a3a3a" stroke-width="1"/>
<line x1="52.2" y1="336.05" x2="54.2" y2="336.05" stroke="#3a3a3a" stroke-width="1"/>
<line x1="52.2" y1="333.49" x2="54.2" y2="333.49" stroke="#3a3a3a" stroke-width="1"/>
<line x1="50.7" y1="331.2" x2="54.2" y2="331.2" stroke="#3a3a3a" stroke-width="1"/>
<text x="48.2" y="334.8" font-size="11" fill="#1a1a1a" text-anchor="end" stroke="#1a1a1a" stroke-width="0.32">10<tspan dy="-4.5" font-size="8">1</tspan></text>
<line x1="52.2" y1="316.15" x2="54.2" y2="316.15" stroke="#3a3a3a" stroke-width="1"/>
<line x1="52.2" y1="307.34" x2="54.2" y2="307.34" stroke="#3a3a3a" stroke-width="1"/>
<line x1="52.2" y1="301.1" x2="54.2" y2="301.1" stroke="#3a3a3a" stroke-width="1"/>
<line x1="281.6" y1="481.2" x2="285.1" y2="481.2" stroke="#c8161d" stroke-width="1"/>
<text x="288.1" y="484.8" font-size="11" fill="#c8161d" stroke="#c8161d" stroke-width="0.32">10<tspan dy="-4.5" font-size="8">-1</tspan></text>
<line x1="281.6" y1="468.5" x2="283.6" y2="468.5" stroke="#c8161d" stroke-width="1"/>
<line x1="281.6" y1="461.07" x2="283.6" y2="461.07" stroke="#c8161d" stroke-width="1"/>
<line x1="281.6" y1="455.79" x2="283.6" y2="455.79" stroke="#c8161d" stroke-width="1"/>
<line x1="281.6" y1="451.7" x2="283.6" y2="451.7" stroke="#c8161d" stroke-width="1"/>
<line x1="281.6" y1="448.36" x2="283.6" y2="448.36" stroke="#c8161d" stroke-width="1"/>
<line x1="281.6" y1="445.54" x2="283.6" y2="445.54" stroke="#c8161d" stroke-width="1"/>
<line x1="281.6" y1="443.09" x2="283.6" y2="443.09" stroke="#c8161d" stroke-width="1"/>
<line x1="281.6" y1="440.93" x2="283.6" y2="440.93" stroke="#c8161d" stroke-width="1"/>
<line x1="281.6" y1="439" x2="285.1" y2="439" stroke="#c8161d" stroke-width="1"/>
<text x="288.1" y="442.6" font-size="11" fill="#c8161d" stroke="#c8161d" stroke-width="0.32">10<tspan dy="-4.5" font-size="8">0</tspan></text>
<line x1="281.6" y1="426.3" x2="283.6" y2="426.3" stroke="#c8161d" stroke-width="1"/>
<line x1="281.6" y1="418.87" x2="283.6" y2="418.87" stroke="#c8161d" stroke-width="1"/>
<line x1="281.6" y1="413.59" x2="283.6" y2="413.59" stroke="#c8161d" stroke-width="1"/>
<line x1="281.6" y1="409.5" x2="283.6" y2="409.5" stroke="#c8161d" stroke-width="1"/>
<line x1="281.6" y1="406.16" x2="283.6" y2="406.16" stroke="#c8161d" stroke-width="1"/>
<line x1="281.6" y1="403.34" x2="283.6" y2="403.34" stroke="#c8161d" stroke-width="1"/>
<line x1="281.6" y1="400.89" x2="283.6" y2="400.89" stroke="#c8161d" stroke-width="1"/>
<line x1="281.6" y1="398.73" x2="283.6" y2="398.73" stroke="#c8161d" stroke-width="1"/>
<line x1="281.6" y1="396.8" x2="285.1" y2="396.8" stroke="#c8161d" stroke-width="1"/>
<text x="288.1" y="400.4" font-size="11" fill="#c8161d" stroke="#c8161d" stroke-width="0.32">10<tspan dy="-4.5" font-size="8">1</tspan></text>
<line x1="281.6" y1="384.1" x2="283.6" y2="384.1" stroke="#c8161d" stroke-width="1"/>
<line x1="281.6" y1="376.67" x2="283.6" y2="376.67" stroke="#c8161d" stroke-width="1"/>
<line x1="281.6" y1="371.39" x2="283.6" y2="371.39" stroke="#c8161d" stroke-width="1"/>
<line x1="281.6" y1="367.3" x2="283.6" y2="367.3" stroke="#c8161d" stroke-width="1"/>
<line x1="281.6" y1="363.96" x2="283.6" y2="363.96" stroke="#c8161d" stroke-width="1"/>
<line x1="281.6" y1="361.14" x2="283.6" y2="361.14" stroke="#c8161d" stroke-width="1"/>
<line x1="281.6" y1="358.69" x2="283.6" y2="358.69" stroke="#c8161d" stroke-width="1"/>
<line x1="281.6" y1="356.53" x2="283.6" y2="356.53" stroke="#c8161d" stroke-width="1"/>
<line x1="281.6" y1="354.6" x2="285.1" y2="354.6" stroke="#c8161d" stroke-width="1"/>
<text x="288.1" y="358.2" font-size="11" fill="#c8161d" stroke="#c8161d" stroke-width="0.32">10<tspan dy="-4.5" font-size="8">2</tspan></text>
<line x1="281.6" y1="341.9" x2="283.6" y2="341.9" stroke="#c8161d" stroke-width="1"/>
<line x1="281.6" y1="334.47" x2="283.6" y2="334.47" stroke="#c8161d" stroke-width="1"/>
<line x1="281.6" y1="329.19" x2="283.6" y2="329.19" stroke="#c8161d" stroke-width="1"/>
<line x1="281.6" y1="325.1" x2="283.6" y2="325.1" stroke="#c8161d" stroke-width="1"/>
<line x1="281.6" y1="321.76" x2="283.6" y2="321.76" stroke="#c8161d" stroke-width="1"/>
<line x1="281.6" y1="318.94" x2="283.6" y2="318.94" stroke="#c8161d" stroke-width="1"/>
<line x1="281.6" y1="316.49" x2="283.6" y2="316.49" stroke="#c8161d" stroke-width="1"/>
<line x1="281.6" y1="314.33" x2="283.6" y2="314.33" stroke="#c8161d" stroke-width="1"/>
<line x1="281.6" y1="312.4" x2="285.1" y2="312.4" stroke="#c8161d" stroke-width="1"/>
<text x="288.1" y="316" font-size="11" fill="#c8161d" stroke="#c8161d" stroke-width="0.32">10<tspan dy="-4.5" font-size="8">3</tspan></text>
<line x1="281.6" y1="299.7" x2="283.6" y2="299.7" stroke="#c8161d" stroke-width="1"/>
<text x="272.5" y="315.3" font-size="12" fill="#1a1a1a" text-anchor="end"  stroke="#1a1a1a" stroke-width="0.32">p/n-ITEM</text>
<text x="167.9" y="517.6" font-size="15" fill="#1a1a1a" text-anchor="middle" stroke="#1a1a1a" stroke-width="0.32">R<tspan dy="3" font-size="11">load</tspan><tspan dy="-3"> / </tspan><tspan font-family="Liberation Serif" font-weight="normal" font-size="16">Ω</tspan></text>
<text transform="translate(22.5,392) rotate(-90)" font-size="15.5" fill="#1a1a1a" text-anchor="middle" stroke="#1a1a1a" stroke-width="0.32">Energy density / J m<tspan dy="-6" font-size="10">-2</tspan></text>
<text transform="translate(326.5,388) rotate(-90)" font-size="15.5" fill="#c8161d" text-anchor="middle" stroke="#c8161d" stroke-width="0.32">P* / mW m<tspan dy="-6" font-size="10">-2</tspan><tspan dy="6"> K</tspan><tspan dy="-6" font-size="10">-2</tspan></text>
<path d="M72.5,323.3 L106.7,370.6 L159.3,406.7 L181.5,427.3 L212.4,452.5 L265.5,449.1" fill="none" stroke="#111" stroke-width="2" stroke-linejoin="round" stroke-linecap="round" />
<path d="M72.5,311.8 L106.7,361 L159.3,396.2 L181.5,421.6 L212.4,449.1 L265.5,459.8" fill="none" stroke="#c8161d" stroke-width="2" stroke-linejoin="round" stroke-linecap="round" />
<circle cx="72.5" cy="323.3" r="4.6" fill="#fff" stroke="#111" stroke-width="2.1"/>
<circle cx="106.7" cy="370.6" r="4.6" fill="#fff" stroke="#111" stroke-width="2.1"/>
<circle cx="159.3" cy="406.7" r="4.6" fill="#fff" stroke="#111" stroke-width="2.1"/>
<circle cx="181.5" cy="427.3" r="4.6" fill="#fff" stroke="#111" stroke-width="2.1"/>
<circle cx="212.4" cy="452.5" r="4.6" fill="#fff" stroke="#111" stroke-width="2.1"/>
<circle cx="265.5" cy="449.1" r="4.6" fill="#fff" stroke="#111" stroke-width="2.1"/>
<circle cx="72.5" cy="311.8" r="4.6" fill="#fff" stroke="#c8161d" stroke-width="2.1"/>
<circle cx="106.7" cy="361" r="4.6" fill="#fff" stroke="#c8161d" stroke-width="2.1"/>
<circle cx="159.3" cy="396.2" r="4.6" fill="#fff" stroke="#c8161d" stroke-width="2.1"/>
<circle cx="181.5" cy="421.6" r="4.6" fill="#fff" stroke="#c8161d" stroke-width="2.1"/>
<circle cx="212.4" cy="449.1" r="4.6" fill="#fff" stroke="#c8161d" stroke-width="2.1"/>
<circle cx="265.5" cy="459.8" r="4.6" fill="#fff" stroke="#c8161d" stroke-width="2.1"/>
<line x1="395.8" y1="298.7" x2="623" y2="298.7" stroke="#3a3a3a" stroke-width="1"/>
<line x1="395.8" y1="298.7" x2="395.8" y2="480.7" stroke="#3a3a3a" stroke-width="1"/>
<line x1="395.8" y1="480.7" x2="623" y2="480.7" stroke="#3a3a3a" stroke-width="1"/>
<line x1="623" y1="298.7" x2="623" y2="480.7" stroke="#1f56a8" stroke-width="1"/>
<line x1="395.8" y1="480.7" x2="395.8" y2="484.2" stroke="#3a3a3a" stroke-width="1"/>
<line x1="395.8" y1="298.7" x2="395.8" y2="301.2" stroke="#3a3a3a" stroke-width="1"/>
<text x="395.8" y="497" font-size="11" fill="#1a1a1a" text-anchor="middle"  stroke="#1a1a1a" stroke-width="0.32">100</text>
<line x1="411.72" y1="480.7" x2="411.72" y2="482.7" stroke="#3a3a3a" stroke-width="1"/>
<line x1="411.72" y1="298.7" x2="411.72" y2="300.2" stroke="#3a3a3a" stroke-width="1"/>
<line x1="421.04" y1="480.7" x2="421.04" y2="482.7" stroke="#3a3a3a" stroke-width="1"/>
<line x1="421.04" y1="298.7" x2="421.04" y2="300.2" stroke="#3a3a3a" stroke-width="1"/>
<line x1="427.65" y1="480.7" x2="427.65" y2="482.7" stroke="#3a3a3a" stroke-width="1"/>
<line x1="427.65" y1="298.7" x2="427.65" y2="300.2" stroke="#3a3a3a" stroke-width="1"/>
<line x1="432.78" y1="480.7" x2="432.78" y2="482.7" stroke="#3a3a3a" stroke-width="1"/>
<line x1="432.78" y1="298.7" x2="432.78" y2="300.2" stroke="#3a3a3a" stroke-width="1"/>
<line x1="436.96" y1="480.7" x2="436.96" y2="482.7" stroke="#3a3a3a" stroke-width="1"/>
<line x1="436.96" y1="298.7" x2="436.96" y2="300.2" stroke="#3a3a3a" stroke-width="1"/>
<line x1="440.51" y1="480.7" x2="440.51" y2="482.7" stroke="#3a3a3a" stroke-width="1"/>
<line x1="440.51" y1="298.7" x2="440.51" y2="300.2" stroke="#3a3a3a" stroke-width="1"/>
<line x1="443.57" y1="480.7" x2="443.57" y2="482.7" stroke="#3a3a3a" stroke-width="1"/>
<line x1="443.57" y1="298.7" x2="443.57" y2="300.2" stroke="#3a3a3a" stroke-width="1"/>
<line x1="446.28" y1="480.7" x2="446.28" y2="482.7" stroke="#3a3a3a" stroke-width="1"/>
<line x1="446.28" y1="298.7" x2="446.28" y2="300.2" stroke="#3a3a3a" stroke-width="1"/>
<line x1="448.7" y1="480.7" x2="448.7" y2="484.2" stroke="#3a3a3a" stroke-width="1"/>
<line x1="448.7" y1="298.7" x2="448.7" y2="301.2" stroke="#3a3a3a" stroke-width="1"/>
<text x="448.7" y="497" font-size="11" fill="#1a1a1a" text-anchor="middle"  stroke="#1a1a1a" stroke-width="0.32">1000</text>
<line x1="464.62" y1="480.7" x2="464.62" y2="482.7" stroke="#3a3a3a" stroke-width="1"/>
<line x1="464.62" y1="298.7" x2="464.62" y2="300.2" stroke="#3a3a3a" stroke-width="1"/>
<line x1="473.94" y1="480.7" x2="473.94" y2="482.7" stroke="#3a3a3a" stroke-width="1"/>
<line x1="473.94" y1="298.7" x2="473.94" y2="300.2" stroke="#3a3a3a" stroke-width="1"/>
<line x1="480.55" y1="480.7" x2="480.55" y2="482.7" stroke="#3a3a3a" stroke-width="1"/>
<line x1="480.55" y1="298.7" x2="480.55" y2="300.2" stroke="#3a3a3a" stroke-width="1"/>
<line x1="485.68" y1="480.7" x2="485.68" y2="482.7" stroke="#3a3a3a" stroke-width="1"/>
<line x1="485.68" y1="298.7" x2="485.68" y2="300.2" stroke="#3a3a3a" stroke-width="1"/>
<line x1="489.86" y1="480.7" x2="489.86" y2="482.7" stroke="#3a3a3a" stroke-width="1"/>
<line x1="489.86" y1="298.7" x2="489.86" y2="300.2" stroke="#3a3a3a" stroke-width="1"/>
<line x1="493.41" y1="480.7" x2="493.41" y2="482.7" stroke="#3a3a3a" stroke-width="1"/>
<line x1="493.41" y1="298.7" x2="493.41" y2="300.2" stroke="#3a3a3a" stroke-width="1"/>
<line x1="496.47" y1="480.7" x2="496.47" y2="482.7" stroke="#3a3a3a" stroke-width="1"/>
<line x1="496.47" y1="298.7" x2="496.47" y2="300.2" stroke="#3a3a3a" stroke-width="1"/>
<line x1="499.18" y1="480.7" x2="499.18" y2="482.7" stroke="#3a3a3a" stroke-width="1"/>
<line x1="499.18" y1="298.7" x2="499.18" y2="300.2" stroke="#3a3a3a" stroke-width="1"/>
<line x1="501.6" y1="480.7" x2="501.6" y2="484.2" stroke="#3a3a3a" stroke-width="1"/>
<line x1="501.6" y1="298.7" x2="501.6" y2="301.2" stroke="#3a3a3a" stroke-width="1"/>
<text x="501.6" y="497" font-size="11" fill="#1a1a1a" text-anchor="middle"  stroke="#1a1a1a" stroke-width="0.32">10000</text>
<line x1="517.52" y1="480.7" x2="517.52" y2="482.7" stroke="#3a3a3a" stroke-width="1"/>
<line x1="517.52" y1="298.7" x2="517.52" y2="300.2" stroke="#3a3a3a" stroke-width="1"/>
<line x1="526.84" y1="480.7" x2="526.84" y2="482.7" stroke="#3a3a3a" stroke-width="1"/>
<line x1="526.84" y1="298.7" x2="526.84" y2="300.2" stroke="#3a3a3a" stroke-width="1"/>
<line x1="533.45" y1="480.7" x2="533.45" y2="482.7" stroke="#3a3a3a" stroke-width="1"/>
<line x1="533.45" y1="298.7" x2="533.45" y2="300.2" stroke="#3a3a3a" stroke-width="1"/>
<line x1="538.58" y1="480.7" x2="538.58" y2="482.7" stroke="#3a3a3a" stroke-width="1"/>
<line x1="538.58" y1="298.7" x2="538.58" y2="300.2" stroke="#3a3a3a" stroke-width="1"/>
<line x1="542.76" y1="480.7" x2="542.76" y2="482.7" stroke="#3a3a3a" stroke-width="1"/>
<line x1="542.76" y1="298.7" x2="542.76" y2="300.2" stroke="#3a3a3a" stroke-width="1"/>
<line x1="546.31" y1="480.7" x2="546.31" y2="482.7" stroke="#3a3a3a" stroke-width="1"/>
<line x1="546.31" y1="298.7" x2="546.31" y2="300.2" stroke="#3a3a3a" stroke-width="1"/>
<line x1="549.37" y1="480.7" x2="549.37" y2="482.7" stroke="#3a3a3a" stroke-width="1"/>
<line x1="549.37" y1="298.7" x2="549.37" y2="300.2" stroke="#3a3a3a" stroke-width="1"/>
<line x1="552.08" y1="480.7" x2="552.08" y2="482.7" stroke="#3a3a3a" stroke-width="1"/>
<line x1="552.08" y1="298.7" x2="552.08" y2="300.2" stroke="#3a3a3a" stroke-width="1"/>
<line x1="554.5" y1="480.7" x2="554.5" y2="484.2" stroke="#3a3a3a" stroke-width="1"/>
<line x1="554.5" y1="298.7" x2="554.5" y2="301.2" stroke="#3a3a3a" stroke-width="1"/>
<text x="554.5" y="497" font-size="11" fill="#1a1a1a" text-anchor="middle"  stroke="#1a1a1a" stroke-width="0.32">100000</text>
<line x1="570.42" y1="480.7" x2="570.42" y2="482.7" stroke="#3a3a3a" stroke-width="1"/>
<line x1="570.42" y1="298.7" x2="570.42" y2="300.2" stroke="#3a3a3a" stroke-width="1"/>
<line x1="579.74" y1="480.7" x2="579.74" y2="482.7" stroke="#3a3a3a" stroke-width="1"/>
<line x1="579.74" y1="298.7" x2="579.74" y2="300.2" stroke="#3a3a3a" stroke-width="1"/>
<line x1="586.35" y1="480.7" x2="586.35" y2="482.7" stroke="#3a3a3a" stroke-width="1"/>
<line x1="586.35" y1="298.7" x2="586.35" y2="300.2" stroke="#3a3a3a" stroke-width="1"/>
<line x1="591.48" y1="480.7" x2="591.48" y2="482.7" stroke="#3a3a3a" stroke-width="1"/>
<line x1="591.48" y1="298.7" x2="591.48" y2="300.2" stroke="#3a3a3a" stroke-width="1"/>
<line x1="595.66" y1="480.7" x2="595.66" y2="482.7" stroke="#3a3a3a" stroke-width="1"/>
<line x1="595.66" y1="298.7" x2="595.66" y2="300.2" stroke="#3a3a3a" stroke-width="1"/>
<line x1="599.21" y1="480.7" x2="599.21" y2="482.7" stroke="#3a3a3a" stroke-width="1"/>
<line x1="599.21" y1="298.7" x2="599.21" y2="300.2" stroke="#3a3a3a" stroke-width="1"/>
<line x1="602.27" y1="480.7" x2="602.27" y2="482.7" stroke="#3a3a3a" stroke-width="1"/>
<line x1="602.27" y1="298.7" x2="602.27" y2="300.2" stroke="#3a3a3a" stroke-width="1"/>
<line x1="604.98" y1="480.7" x2="604.98" y2="482.7" stroke="#3a3a3a" stroke-width="1"/>
<line x1="604.98" y1="298.7" x2="604.98" y2="300.2" stroke="#3a3a3a" stroke-width="1"/>
<line x1="607.4" y1="480.7" x2="607.4" y2="484.2" stroke="#3a3a3a" stroke-width="1"/>
<line x1="607.4" y1="298.7" x2="607.4" y2="301.2" stroke="#3a3a3a" stroke-width="1"/>
<text x="607.4" y="497" font-size="11" fill="#1a1a1a" text-anchor="middle"  stroke="#1a1a1a" stroke-width="0.32">1000000</text>
<line x1="392.3" y1="480.7" x2="395.8" y2="480.7" stroke="#3a3a3a" stroke-width="1"/>
<text x="389.8" y="484.3" font-size="11" fill="#1a1a1a" text-anchor="end" stroke="#1a1a1a" stroke-width="0.32">10<tspan dy="-4.5" font-size="8">-2</tspan></text>
<line x1="393.8" y1="465.65" x2="395.8" y2="465.65" stroke="#3a3a3a" stroke-width="1"/>
<line x1="393.8" y1="456.84" x2="395.8" y2="456.84" stroke="#3a3a3a" stroke-width="1"/>
<line x1="393.8" y1="450.6" x2="395.8" y2="450.6" stroke="#3a3a3a" stroke-width="1"/>
<line x1="393.8" y1="445.75" x2="395.8" y2="445.75" stroke="#3a3a3a" stroke-width="1"/>
<line x1="393.8" y1="441.79" x2="395.8" y2="441.79" stroke="#3a3a3a" stroke-width="1"/>
<line x1="393.8" y1="438.45" x2="395.8" y2="438.45" stroke="#3a3a3a" stroke-width="1"/>
<line x1="393.8" y1="435.55" x2="395.8" y2="435.55" stroke="#3a3a3a" stroke-width="1"/>
<line x1="393.8" y1="432.99" x2="395.8" y2="432.99" stroke="#3a3a3a" stroke-width="1"/>
<line x1="392.3" y1="430.7" x2="395.8" y2="430.7" stroke="#3a3a3a" stroke-width="1"/>
<text x="389.8" y="434.3" font-size="11" fill="#1a1a1a" text-anchor="end" stroke="#1a1a1a" stroke-width="0.32">10<tspan dy="-4.5" font-size="8">-1</tspan></text>
<line x1="393.8" y1="415.65" x2="395.8" y2="415.65" stroke="#3a3a3a" stroke-width="1"/>
<line x1="393.8" y1="406.84" x2="395.8" y2="406.84" stroke="#3a3a3a" stroke-width="1"/>
<line x1="393.8" y1="400.6" x2="395.8" y2="400.6" stroke="#3a3a3a" stroke-width="1"/>
<line x1="393.8" y1="395.75" x2="395.8" y2="395.75" stroke="#3a3a3a" stroke-width="1"/>
<line x1="393.8" y1="391.79" x2="395.8" y2="391.79" stroke="#3a3a3a" stroke-width="1"/>
<line x1="393.8" y1="388.45" x2="395.8" y2="388.45" stroke="#3a3a3a" stroke-width="1"/>
<line x1="393.8" y1="385.55" x2="395.8" y2="385.55" stroke="#3a3a3a" stroke-width="1"/>
<line x1="393.8" y1="382.99" x2="395.8" y2="382.99" stroke="#3a3a3a" stroke-width="1"/>
<line x1="392.3" y1="380.7" x2="395.8" y2="380.7" stroke="#3a3a3a" stroke-width="1"/>
<text x="389.8" y="384.3" font-size="11" fill="#1a1a1a" text-anchor="end" stroke="#1a1a1a" stroke-width="0.32">10<tspan dy="-4.5" font-size="8">0</tspan></text>
<line x1="393.8" y1="365.65" x2="395.8" y2="365.65" stroke="#3a3a3a" stroke-width="1"/>
<line x1="393.8" y1="356.84" x2="395.8" y2="356.84" stroke="#3a3a3a" stroke-width="1"/>
<line x1="393.8" y1="350.6" x2="395.8" y2="350.6" stroke="#3a3a3a" stroke-width="1"/>
<line x1="393.8" y1="345.75" x2="395.8" y2="345.75" stroke="#3a3a3a" stroke-width="1"/>
<line x1="393.8" y1="341.79" x2="395.8" y2="341.79" stroke="#3a3a3a" stroke-width="1"/>
<line x1="393.8" y1="338.45" x2="395.8" y2="338.45" stroke="#3a3a3a" stroke-width="1"/>
<line x1="393.8" y1="335.55" x2="395.8" y2="335.55" stroke="#3a3a3a" stroke-width="1"/>
<line x1="393.8" y1="332.99" x2="395.8" y2="332.99" stroke="#3a3a3a" stroke-width="1"/>
<line x1="392.3" y1="330.7" x2="395.8" y2="330.7" stroke="#3a3a3a" stroke-width="1"/>
<text x="389.8" y="334.3" font-size="11" fill="#1a1a1a" text-anchor="end" stroke="#1a1a1a" stroke-width="0.32">10<tspan dy="-4.5" font-size="8">1</tspan></text>
<line x1="393.8" y1="315.65" x2="395.8" y2="315.65" stroke="#3a3a3a" stroke-width="1"/>
<line x1="393.8" y1="306.84" x2="395.8" y2="306.84" stroke="#3a3a3a" stroke-width="1"/>
<line x1="393.8" y1="300.6" x2="395.8" y2="300.6" stroke="#3a3a3a" stroke-width="1"/>
<line x1="623" y1="480.7" x2="626.5" y2="480.7" stroke="#1f56a8" stroke-width="1"/>
<text x="629.5" y="484.3" font-size="11" fill="#1f56a8" stroke="#1f56a8" stroke-width="0.32">10<tspan dy="-4.5" font-size="8">-1</tspan></text>
<line x1="623" y1="468" x2="625" y2="468" stroke="#1f56a8" stroke-width="1"/>
<line x1="623" y1="460.57" x2="625" y2="460.57" stroke="#1f56a8" stroke-width="1"/>
<line x1="623" y1="455.29" x2="625" y2="455.29" stroke="#1f56a8" stroke-width="1"/>
<line x1="623" y1="451.2" x2="625" y2="451.2" stroke="#1f56a8" stroke-width="1"/>
<line x1="623" y1="447.86" x2="625" y2="447.86" stroke="#1f56a8" stroke-width="1"/>
<line x1="623" y1="445.04" x2="625" y2="445.04" stroke="#1f56a8" stroke-width="1"/>
<line x1="623" y1="442.59" x2="625" y2="442.59" stroke="#1f56a8" stroke-width="1"/>
<line x1="623" y1="440.43" x2="625" y2="440.43" stroke="#1f56a8" stroke-width="1"/>
<line x1="623" y1="438.5" x2="626.5" y2="438.5" stroke="#1f56a8" stroke-width="1"/>
<text x="629.5" y="442.1" font-size="11" fill="#1f56a8" stroke="#1f56a8" stroke-width="0.32">10<tspan dy="-4.5" font-size="8">0</tspan></text>
<line x1="623" y1="425.8" x2="625" y2="425.8" stroke="#1f56a8" stroke-width="1"/>
<line x1="623" y1="418.37" x2="625" y2="418.37" stroke="#1f56a8" stroke-width="1"/>
<line x1="623" y1="413.09" x2="625" y2="413.09" stroke="#1f56a8" stroke-width="1"/>
<line x1="623" y1="409" x2="625" y2="409" stroke="#1f56a8" stroke-width="1"/>
<line x1="623" y1="405.66" x2="625" y2="405.66" stroke="#1f56a8" stroke-width="1"/>
<line x1="623" y1="402.84" x2="625" y2="402.84" stroke="#1f56a8" stroke-width="1"/>
<line x1="623" y1="400.39" x2="625" y2="400.39" stroke="#1f56a8" stroke-width="1"/>
<line x1="623" y1="398.23" x2="625" y2="398.23" stroke="#1f56a8" stroke-width="1"/>
<line x1="623" y1="396.3" x2="626.5" y2="396.3" stroke="#1f56a8" stroke-width="1"/>
<text x="629.5" y="399.9" font-size="11" fill="#1f56a8" stroke="#1f56a8" stroke-width="0.32">10<tspan dy="-4.5" font-size="8">1</tspan></text>
<line x1="623" y1="383.6" x2="625" y2="383.6" stroke="#1f56a8" stroke-width="1"/>
<line x1="623" y1="376.17" x2="625" y2="376.17" stroke="#1f56a8" stroke-width="1"/>
<line x1="623" y1="370.89" x2="625" y2="370.89" stroke="#1f56a8" stroke-width="1"/>
<line x1="623" y1="366.8" x2="625" y2="366.8" stroke="#1f56a8" stroke-width="1"/>
<line x1="623" y1="363.46" x2="625" y2="363.46" stroke="#1f56a8" stroke-width="1"/>
<line x1="623" y1="360.64" x2="625" y2="360.64" stroke="#1f56a8" stroke-width="1"/>
<line x1="623" y1="358.19" x2="625" y2="358.19" stroke="#1f56a8" stroke-width="1"/>
<line x1="623" y1="356.03" x2="625" y2="356.03" stroke="#1f56a8" stroke-width="1"/>
<line x1="623" y1="354.1" x2="626.5" y2="354.1" stroke="#1f56a8" stroke-width="1"/>
<text x="629.5" y="357.7" font-size="11" fill="#1f56a8" stroke="#1f56a8" stroke-width="0.32">10<tspan dy="-4.5" font-size="8">2</tspan></text>
<line x1="623" y1="341.4" x2="625" y2="341.4" stroke="#1f56a8" stroke-width="1"/>
<line x1="623" y1="333.97" x2="625" y2="333.97" stroke="#1f56a8" stroke-width="1"/>
<line x1="623" y1="328.69" x2="625" y2="328.69" stroke="#1f56a8" stroke-width="1"/>
<line x1="623" y1="324.6" x2="625" y2="324.6" stroke="#1f56a8" stroke-width="1"/>
<line x1="623" y1="321.26" x2="625" y2="321.26" stroke="#1f56a8" stroke-width="1"/>
<line x1="623" y1="318.44" x2="625" y2="318.44" stroke="#1f56a8" stroke-width="1"/>
<line x1="623" y1="315.99" x2="625" y2="315.99" stroke="#1f56a8" stroke-width="1"/>
<line x1="623" y1="313.83" x2="625" y2="313.83" stroke="#1f56a8" stroke-width="1"/>
<line x1="623" y1="311.9" x2="626.5" y2="311.9" stroke="#1f56a8" stroke-width="1"/>
<text x="629.5" y="315.5" font-size="11" fill="#1f56a8" stroke="#1f56a8" stroke-width="0.32">10<tspan dy="-4.5" font-size="8">3</tspan></text>
<line x1="623" y1="299.2" x2="625" y2="299.2" stroke="#1f56a8" stroke-width="1"/>
<text x="615.5" y="314.8" font-size="12" fill="#1a1a1a" text-anchor="end"  stroke="#1a1a1a" stroke-width="0.32">n-ITEM</text>
<text x="509.4" y="517.6" font-size="15" fill="#1a1a1a" text-anchor="middle" stroke="#1a1a1a" stroke-width="0.32">R<tspan dy="3" font-size="11">load</tspan><tspan dy="-3"> / </tspan><tspan font-family="Liberation Serif" font-weight="normal" font-size="16">Ω</tspan></text>
<text transform="translate(363.5,392) rotate(-90)" font-size="15.5" fill="#1a1a1a" text-anchor="middle" stroke="#1a1a1a" stroke-width="0.32">Energy density / J m<tspan dy="-6" font-size="10">-2</tspan></text>
<text transform="translate(666,388) rotate(-90)" font-size="15.5" fill="#1f56a8" text-anchor="middle" stroke="#1f56a8" stroke-width="0.32">P* / mW m<tspan dy="-6" font-size="10">-2</tspan><tspan dy="6"> K</tspan><tspan dy="-6" font-size="10">-2</tspan></text>
<path d="M414.1,331.8 L448.7,353.4 L501.4,423.8 L523.5,438.2 L553.4,448.4 L606.8,443.3" fill="none" stroke="#111" stroke-width="2" stroke-linejoin="round" stroke-linecap="round" />
<path d="M414.1,319 L448.7,346.1 L501.4,412.9 L523.5,430.1 L553.4,445.4 L606.8,454.8" fill="none" stroke="#1f56a8" stroke-width="2" stroke-linejoin="round" stroke-linecap="round" />
<circle cx="414.1" cy="331.8" r="4.6" fill="#fff" stroke="#111" stroke-width="2.1"/>
<circle cx="448.7" cy="353.4" r="4.6" fill="#fff" stroke="#111" stroke-width="2.1"/>
<circle cx="501.4" cy="423.8" r="4.6" fill="#fff" stroke="#111" stroke-width="2.1"/>
<circle cx="523.5" cy="438.2" r="4.6" fill="#fff" stroke="#111" stroke-width="2.1"/>
<circle cx="553.4" cy="448.4" r="4.6" fill="#fff" stroke="#111" stroke-width="2.1"/>
<circle cx="606.8" cy="443.3" r="4.6" fill="#fff" stroke="#111" stroke-width="2.1"/>
<circle cx="414.1" cy="319" r="4.6" fill="#fff" stroke="#1f56a8" stroke-width="2.1"/>
<circle cx="448.7" cy="346.1" r="4.6" fill="#fff" stroke="#1f56a8" stroke-width="2.1"/>
<circle cx="501.4" cy="412.9" r="4.6" fill="#fff" stroke="#1f56a8" stroke-width="2.1"/>
<circle cx="523.5" cy="430.1" r="4.6" fill="#fff" stroke="#1f56a8" stroke-width="2.1"/>
<circle cx="553.4" cy="445.4" r="4.6" fill="#fff" stroke="#1f56a8" stroke-width="2.1"/>
<circle cx="606.8" cy="454.8" r="4.6" fill="#fff" stroke="#1f56a8" stroke-width="2.1"/>
<line x1="742.5" y1="291.6" x2="969.4" y2="291.6" stroke="#3a3a3a" stroke-width="1"/>
<line x1="742.5" y1="291.6" x2="742.5" y2="473.4" stroke="#3a3a3a" stroke-width="1"/>
<line x1="742.5" y1="473.4" x2="969.4" y2="473.4" stroke="#3a3a3a" stroke-width="1"/>
<line x1="969.4" y1="291.6" x2="969.4" y2="473.4" stroke="#3a3a3a" stroke-width="1"/>
<line x1="742.5" y1="473.4" x2="742.5" y2="476.4" stroke="#3a3a3a" stroke-width="1"/>
<text x="742.5" y="488.3" font-size="11" fill="#1a1a1a" text-anchor="middle"  stroke="#1a1a1a" stroke-width="0.32">0.01</text>
<line x1="754.9" y1="473.4" x2="754.9" y2="475.2" stroke="#3a3a3a" stroke-width="1"/>
<line x1="762.16" y1="473.4" x2="762.16" y2="475.2" stroke="#3a3a3a" stroke-width="1"/>
<line x1="767.3" y1="473.4" x2="767.3" y2="475.2" stroke="#3a3a3a" stroke-width="1"/>
<line x1="771.3" y1="473.4" x2="771.3" y2="475.2" stroke="#3a3a3a" stroke-width="1"/>
<line x1="774.56" y1="473.4" x2="774.56" y2="475.2" stroke="#3a3a3a" stroke-width="1"/>
<line x1="777.32" y1="473.4" x2="777.32" y2="475.2" stroke="#3a3a3a" stroke-width="1"/>
<line x1="779.71" y1="473.4" x2="779.71" y2="475.2" stroke="#3a3a3a" stroke-width="1"/>
<line x1="781.81" y1="473.4" x2="781.81" y2="475.2" stroke="#3a3a3a" stroke-width="1"/>
<line x1="783.7" y1="473.4" x2="783.7" y2="476.4" stroke="#3a3a3a" stroke-width="1"/>
<text x="783.7" y="488.3" font-size="11" fill="#1a1a1a" text-anchor="middle"  stroke="#1a1a1a" stroke-width="0.32">0.1</text>
<line x1="796.1" y1="473.4" x2="796.1" y2="475.2" stroke="#3a3a3a" stroke-width="1"/>
<line x1="803.36" y1="473.4" x2="803.36" y2="475.2" stroke="#3a3a3a" stroke-width="1"/>
<line x1="808.5" y1="473.4" x2="808.5" y2="475.2" stroke="#3a3a3a" stroke-width="1"/>
<line x1="812.5" y1="473.4" x2="812.5" y2="475.2" stroke="#3a3a3a" stroke-width="1"/>
<line x1="815.76" y1="473.4" x2="815.76" y2="475.2" stroke="#3a3a3a" stroke-width="1"/>
<line x1="818.52" y1="473.4" x2="818.52" y2="475.2" stroke="#3a3a3a" stroke-width="1"/>
<line x1="820.91" y1="473.4" x2="820.91" y2="475.2" stroke="#3a3a3a" stroke-width="1"/>
<line x1="823.01" y1="473.4" x2="823.01" y2="475.2" stroke="#3a3a3a" stroke-width="1"/>
<line x1="824.9" y1="473.4" x2="824.9" y2="476.4" stroke="#3a3a3a" stroke-width="1"/>
<text x="824.9" y="488.3" font-size="11" fill="#1a1a1a" text-anchor="middle"  stroke="#1a1a1a" stroke-width="0.32">1</text>
<line x1="837.3" y1="473.4" x2="837.3" y2="475.2" stroke="#3a3a3a" stroke-width="1"/>
<line x1="844.56" y1="473.4" x2="844.56" y2="475.2" stroke="#3a3a3a" stroke-width="1"/>
<line x1="849.7" y1="473.4" x2="849.7" y2="475.2" stroke="#3a3a3a" stroke-width="1"/>
<line x1="853.7" y1="473.4" x2="853.7" y2="475.2" stroke="#3a3a3a" stroke-width="1"/>
<line x1="856.96" y1="473.4" x2="856.96" y2="475.2" stroke="#3a3a3a" stroke-width="1"/>
<line x1="859.72" y1="473.4" x2="859.72" y2="475.2" stroke="#3a3a3a" stroke-width="1"/>
<line x1="862.11" y1="473.4" x2="862.11" y2="475.2" stroke="#3a3a3a" stroke-width="1"/>
<line x1="864.21" y1="473.4" x2="864.21" y2="475.2" stroke="#3a3a3a" stroke-width="1"/>
<line x1="866.1" y1="473.4" x2="866.1" y2="476.4" stroke="#3a3a3a" stroke-width="1"/>
<text x="866.1" y="488.3" font-size="11" fill="#1a1a1a" text-anchor="middle"  stroke="#1a1a1a" stroke-width="0.32">10</text>
<line x1="878.5" y1="473.4" x2="878.5" y2="475.2" stroke="#3a3a3a" stroke-width="1"/>
<line x1="885.76" y1="473.4" x2="885.76" y2="475.2" stroke="#3a3a3a" stroke-width="1"/>
<line x1="890.9" y1="473.4" x2="890.9" y2="475.2" stroke="#3a3a3a" stroke-width="1"/>
<line x1="894.9" y1="473.4" x2="894.9" y2="475.2" stroke="#3a3a3a" stroke-width="1"/>
<line x1="898.16" y1="473.4" x2="898.16" y2="475.2" stroke="#3a3a3a" stroke-width="1"/>
<line x1="900.92" y1="473.4" x2="900.92" y2="475.2" stroke="#3a3a3a" stroke-width="1"/>
<line x1="903.31" y1="473.4" x2="903.31" y2="475.2" stroke="#3a3a3a" stroke-width="1"/>
<line x1="905.41" y1="473.4" x2="905.41" y2="475.2" stroke="#3a3a3a" stroke-width="1"/>
<line x1="907.3" y1="473.4" x2="907.3" y2="476.4" stroke="#3a3a3a" stroke-width="1"/>
<text x="907.3" y="488.3" font-size="11" fill="#1a1a1a" text-anchor="middle"  stroke="#1a1a1a" stroke-width="0.32">100</text>
<line x1="919.7" y1="473.4" x2="919.7" y2="475.2" stroke="#3a3a3a" stroke-width="1"/>
<line x1="926.96" y1="473.4" x2="926.96" y2="475.2" stroke="#3a3a3a" stroke-width="1"/>
<line x1="932.1" y1="473.4" x2="932.1" y2="475.2" stroke="#3a3a3a" stroke-width="1"/>
<line x1="936.1" y1="473.4" x2="936.1" y2="475.2" stroke="#3a3a3a" stroke-width="1"/>
<line x1="939.36" y1="473.4" x2="939.36" y2="475.2" stroke="#3a3a3a" stroke-width="1"/>
<line x1="942.12" y1="473.4" x2="942.12" y2="475.2" stroke="#3a3a3a" stroke-width="1"/>
<line x1="944.51" y1="473.4" x2="944.51" y2="475.2" stroke="#3a3a3a" stroke-width="1"/>
<line x1="946.61" y1="473.4" x2="946.61" y2="475.2" stroke="#3a3a3a" stroke-width="1"/>
<line x1="948.5" y1="473.4" x2="948.5" y2="476.4" stroke="#3a3a3a" stroke-width="1"/>
<text x="948.5" y="488.3" font-size="11" fill="#1a1a1a" text-anchor="middle"  stroke="#1a1a1a" stroke-width="0.32">1000</text>
<line x1="960.9" y1="473.4" x2="960.9" y2="475.2" stroke="#3a3a3a" stroke-width="1"/>
<line x1="968.16" y1="473.4" x2="968.16" y2="475.2" stroke="#3a3a3a" stroke-width="1"/>
<line x1="969.4" y1="473.3" x2="971.4" y2="473.3" stroke="#3a3a3a" stroke-width="1"/>
<line x1="969.4" y1="460.3" x2="972.9" y2="460.3" stroke="#3a3a3a" stroke-width="1"/>
<text x="975.5" y="464.1" font-size="11" fill="#1a1a1a" text-anchor="start"  stroke="#1a1a1a" stroke-width="0.32">0</text>
<line x1="969.4" y1="447.3" x2="971.4" y2="447.3" stroke="#3a3a3a" stroke-width="1"/>
<line x1="969.4" y1="434.3" x2="972.9" y2="434.3" stroke="#3a3a3a" stroke-width="1"/>
<text x="975.5" y="438.1" font-size="11" fill="#1a1a1a" text-anchor="start"  stroke="#1a1a1a" stroke-width="0.32">200</text>
<line x1="969.4" y1="421.3" x2="971.4" y2="421.3" stroke="#3a3a3a" stroke-width="1"/>
<line x1="969.4" y1="408.3" x2="972.9" y2="408.3" stroke="#3a3a3a" stroke-width="1"/>
<text x="975.5" y="412.1" font-size="11" fill="#1a1a1a" text-anchor="start"  stroke="#1a1a1a" stroke-width="0.32">400</text>
<line x1="969.4" y1="395.3" x2="971.4" y2="395.3" stroke="#3a3a3a" stroke-width="1"/>
<line x1="969.4" y1="382.3" x2="972.9" y2="382.3" stroke="#3a3a3a" stroke-width="1"/>
<text x="975.5" y="386.1" font-size="11" fill="#1a1a1a" text-anchor="start"  stroke="#1a1a1a" stroke-width="0.32">600</text>
<line x1="969.4" y1="369.3" x2="971.4" y2="369.3" stroke="#3a3a3a" stroke-width="1"/>
<line x1="969.4" y1="356.3" x2="972.9" y2="356.3" stroke="#3a3a3a" stroke-width="1"/>
<text x="975.5" y="360.1" font-size="11" fill="#1a1a1a" text-anchor="start"  stroke="#1a1a1a" stroke-width="0.32">800</text>
<line x1="969.4" y1="343.3" x2="971.4" y2="343.3" stroke="#3a3a3a" stroke-width="1"/>
<line x1="969.4" y1="330.3" x2="972.9" y2="330.3" stroke="#3a3a3a" stroke-width="1"/>
<text x="975.5" y="334.1" font-size="11" fill="#1a1a1a" text-anchor="start"  stroke="#1a1a1a" stroke-width="0.32">1000</text>
<line x1="969.4" y1="317.3" x2="971.4" y2="317.3" stroke="#3a3a3a" stroke-width="1"/>
<line x1="969.4" y1="304.3" x2="972.9" y2="304.3" stroke="#3a3a3a" stroke-width="1"/>
<text x="975.5" y="308.1" font-size="11" fill="#1a1a1a" text-anchor="start"  stroke="#1a1a1a" stroke-width="0.32">1200</text>
<line x1="969.4" y1="291.3" x2="971.4" y2="291.3" stroke="#3a3a3a" stroke-width="1"/>
<text x="855.5" y="508" font-size="15" fill="#1a1a1a" text-anchor="middle" stroke="#1a1a1a" stroke-width="0.32">P* / mW m<tspan dy="-6" font-size="10">-2</tspan><tspan dy="6"> K</tspan><tspan dy="-6" font-size="10">-2</tspan></text>
<text transform="translate(1018,382) rotate(-90)" font-size="15.5" fill="#1a1a1a" text-anchor="middle" stroke="#1a1a1a" stroke-width="0.32">V<tspan dy="3" font-size="11">oc</tspan><tspan dy="-3"> / mV K</tspan><tspan dy="-6" font-size="10">-1</tspan></text>
<rect x="719.6" y="320.5" width="85.9" height="124.7" fill="#fff" stroke="#444" stroke-width="1"/>
<path d="M734.8,321 L736.92,326.68 L742.98,326.94 L738.24,330.72 L739.85,336.56 L734.8,333.21 L729.75,336.56 L731.36,330.72 L726.62,326.94 L732.68,326.68Z" fill="#c8161d"/>
<path d="M734.8,335.6 L736.92,341.28 L742.98,341.54 L738.24,345.32 L739.85,351.16 L734.8,347.81 L729.75,351.16 L731.36,345.32 L726.62,341.54 L732.68,341.28Z" fill="#1f56a8"/>
<text x="752.2" y="334.3" font-size="12.4" fill="#1a1a1a" text-anchor="start"  stroke="#1a1a1a" stroke-width="0.32">p/n-ITEM</text>
<text x="752.2" y="349.3" font-size="12.4" fill="#1a1a1a" text-anchor="start"  stroke="#1a1a1a" stroke-width="0.32">n-ITEM</text>
<circle cx="734.8" cy="359.8" r="4" fill="none" stroke="#a56ee0" stroke-width="1.5"/>
<text x="752.2" y="364.3" font-size="12.4" fill="#1a1a1a" text-anchor="start"  stroke="#1a1a1a" stroke-width="0.32">Ref. 49</text>
<circle cx="734.8" cy="375.07" r="4" fill="none" stroke="#f08a3c" stroke-width="1.5"/>
<text x="752.2" y="379.57" font-size="12.4" fill="#1a1a1a" text-anchor="start"  stroke="#1a1a1a" stroke-width="0.32">Ref. 50</text>
<circle cx="734.8" cy="390.34" r="4" fill="none" stroke="#27a05a" stroke-width="1.5"/>
<text x="752.2" y="394.84" font-size="12.4" fill="#1a1a1a" text-anchor="start"  stroke="#1a1a1a" stroke-width="0.32">Ref. 51</text>
<circle cx="734.8" cy="405.61" r="4" fill="none" stroke="#5b8fe8" stroke-width="1.5"/>
<text x="752.2" y="410.11" font-size="12.4" fill="#1a1a1a" text-anchor="start"  stroke="#1a1a1a" stroke-width="0.32">Ref. 16</text>
<circle cx="734.8" cy="420.88" r="4" fill="none" stroke="#c8920a" stroke-width="1.5"/>
<text x="752.2" y="425.38" font-size="12.4" fill="#1a1a1a" text-anchor="start"  stroke="#1a1a1a" stroke-width="0.32">Ref. 52</text>
<circle cx="734.8" cy="436.15" r="4" fill="none" stroke="#1ec8c8" stroke-width="1.5"/>
<text x="752.2" y="440.65" font-size="12.4" fill="#1a1a1a" text-anchor="start"  stroke="#1a1a1a" stroke-width="0.32">Ref. 53</text>
<circle cx="828.3" cy="455" r="4.4" fill="none" stroke="#27a05a" stroke-width="1.9"/>
<circle cx="857.8" cy="456.6" r="4.4" fill="none" stroke="#a56ee0" stroke-width="1.9"/>
<circle cx="854.3" cy="419.9" r="4.4" fill="none" stroke="#f08a3c" stroke-width="1.9"/>
<circle cx="864.4" cy="424.1" r="4.4" fill="none" stroke="#1ec8c8" stroke-width="1.9"/>
<circle cx="895.2" cy="418.3" r="4.4" fill="none" stroke="#c8920a" stroke-width="1.9"/>
<circle cx="820.5" cy="353.75" r="4.4" fill="none" stroke="#5b8fe8" stroke-width="1.9"/>
<path d="M941.2,301.2 L943.57,307.54 L950.33,307.83 L945.03,312.05 L946.84,318.57 L941.2,314.83 L935.56,318.57 L937.37,312.05 L932.07,307.83 L938.83,307.54Z" fill="#1f56a8"/>
<path d="M948.7,317.2 L951.07,323.54 L957.83,323.83 L952.53,328.05 L954.34,334.57 L948.7,330.83 L943.06,334.57 L944.87,328.05 L939.57,323.83 L946.33,323.54Z" fill="#c8161d"/>
<text x="941.8" y="300.7" font-size="9.6" fill="#1a1a1a" text-anchor="middle" textLength="23" lengthAdjust="spacingAndGlyphs" stroke="#1a1a1a" stroke-width="0.32">n=19</text>
<text x="950.4" y="344.4" font-size="9.6" fill="#1a1a1a" text-anchor="middle" textLength="22.6" lengthAdjust="spacingAndGlyphs" stroke="#1a1a1a" stroke-width="0.32">n=20</text>
<text x="821.4" y="344.6" font-size="9.6" fill="#1a1a1a" text-anchor="middle" textLength="22.6" lengthAdjust="spacingAndGlyphs" stroke="#1a1a1a" stroke-width="0.32">n=20</text>
<text x="831.8" y="468.6" font-size="9.6" fill="#1a1a1a" text-anchor="middle" textLength="17.5" lengthAdjust="spacingAndGlyphs" stroke="#1a1a1a" stroke-width="0.32">n=4</text>
<text x="860.3" y="470.3" font-size="9.6" fill="#1a1a1a" text-anchor="middle" textLength="17.5" lengthAdjust="spacingAndGlyphs" stroke="#1a1a1a" stroke-width="0.32">n=4</text>
<text x="857" y="412" font-size="9.6" fill="#1a1a1a" text-anchor="middle" textLength="17.5" lengthAdjust="spacingAndGlyphs" stroke="#1a1a1a" stroke-width="0.32">n=9</text>
<text x="867" y="437.8" font-size="9.6" fill="#1a1a1a" text-anchor="middle" textLength="22.6" lengthAdjust="spacingAndGlyphs" stroke="#1a1a1a" stroke-width="0.32">n=16</text>
<text x="896" y="432.4" font-size="9.6" fill="#1a1a1a" text-anchor="middle" textLength="17.5" lengthAdjust="spacingAndGlyphs" stroke="#1a1a1a" stroke-width="0.32">n=8</text>
<rect x="318.1" y="562.4" width="126" height="182.5" fill="#dce6f2"/>
<line x1="318.1" y1="562.4" x2="318.1" y2="744.9" stroke="#777" stroke-width="1"/>
<line x1="217.9" y1="562.4" x2="444.1" y2="562.4" stroke="#3a3a3a" stroke-width="1"/>
<line x1="217.9" y1="562.4" x2="217.9" y2="744.9" stroke="#3a3a3a" stroke-width="1"/>
<line x1="217.9" y1="744.9" x2="444.1" y2="744.9" stroke="#3a3a3a" stroke-width="1"/>
<line x1="444.1" y1="562.4" x2="444.1" y2="744.9" stroke="#555" stroke-width="1"/>
<line x1="217.9" y1="744.9" x2="217.9" y2="748.4" stroke="#3a3a3a" stroke-width="1"/>
<text x="217.9" y="760" font-size="11" fill="#1a1a1a" text-anchor="middle"  stroke="#1a1a1a" stroke-width="0.32">0</text>
<line x1="242.95" y1="744.9" x2="242.95" y2="746.9" stroke="#3a3a3a" stroke-width="1"/>
<line x1="268" y1="744.9" x2="268" y2="748.4" stroke="#3a3a3a" stroke-width="1"/>
<text x="268" y="760" font-size="11" fill="#1a1a1a" text-anchor="middle"  stroke="#1a1a1a" stroke-width="0.32">2</text>
<line x1="293.05" y1="744.9" x2="293.05" y2="746.9" stroke="#3a3a3a" stroke-width="1"/>
<line x1="318.1" y1="744.9" x2="318.1" y2="748.4" stroke="#3a3a3a" stroke-width="1"/>
<text x="318.1" y="760" font-size="11" fill="#1a1a1a" text-anchor="middle"  stroke="#1a1a1a" stroke-width="0.32">4</text>
<line x1="343.15" y1="744.9" x2="343.15" y2="746.9" stroke="#3a3a3a" stroke-width="1"/>
<line x1="368.2" y1="744.9" x2="368.2" y2="748.4" stroke="#3a3a3a" stroke-width="1"/>
<text x="368.2" y="760" font-size="11" fill="#1a1a1a" text-anchor="middle"  stroke="#1a1a1a" stroke-width="0.32">6</text>
<line x1="393.25" y1="744.9" x2="393.25" y2="746.9" stroke="#3a3a3a" stroke-width="1"/>
<line x1="418.3" y1="744.9" x2="418.3" y2="748.4" stroke="#3a3a3a" stroke-width="1"/>
<text x="418.3" y="760" font-size="11" fill="#1a1a1a" text-anchor="middle"  stroke="#1a1a1a" stroke-width="0.32">8</text>
<line x1="443.35" y1="744.9" x2="443.35" y2="746.9" stroke="#3a3a3a" stroke-width="1"/>
<line x1="214.4" y1="744.9" x2="217.9" y2="744.9" stroke="#3a3a3a" stroke-width="1"/>
<text x="212.8" y="748.7" font-size="11" fill="#1a1a1a" text-anchor="end"  stroke="#1a1a1a" stroke-width="0.32">0.0</text>
<line x1="215.9" y1="729.69" x2="217.9" y2="729.69" stroke="#3a3a3a" stroke-width="1"/>
<line x1="214.4" y1="714.48" x2="217.9" y2="714.48" stroke="#3a3a3a" stroke-width="1"/>
<text x="212.8" y="718.28" font-size="11" fill="#1a1a1a" text-anchor="end"  stroke="#1a1a1a" stroke-width="0.32">0.3</text>
<line x1="215.9" y1="699.27" x2="217.9" y2="699.27" stroke="#3a3a3a" stroke-width="1"/>
<line x1="214.4" y1="684.06" x2="217.9" y2="684.06" stroke="#3a3a3a" stroke-width="1"/>
<text x="212.8" y="687.86" font-size="11" fill="#1a1a1a" text-anchor="end"  stroke="#1a1a1a" stroke-width="0.32">0.6</text>
<line x1="215.9" y1="668.85" x2="217.9" y2="668.85" stroke="#3a3a3a" stroke-width="1"/>
<line x1="214.4" y1="653.64" x2="217.9" y2="653.64" stroke="#3a3a3a" stroke-width="1"/>
<text x="212.8" y="657.44" font-size="11" fill="#1a1a1a" text-anchor="end"  stroke="#1a1a1a" stroke-width="0.32">0.9</text>
<line x1="215.9" y1="638.43" x2="217.9" y2="638.43" stroke="#3a3a3a" stroke-width="1"/>
<line x1="214.4" y1="623.22" x2="217.9" y2="623.22" stroke="#3a3a3a" stroke-width="1"/>
<text x="212.8" y="627.02" font-size="11" fill="#1a1a1a" text-anchor="end"  stroke="#1a1a1a" stroke-width="0.32">1.2</text>
<line x1="215.9" y1="608.01" x2="217.9" y2="608.01" stroke="#3a3a3a" stroke-width="1"/>
<line x1="214.4" y1="592.8" x2="217.9" y2="592.8" stroke="#3a3a3a" stroke-width="1"/>
<text x="212.8" y="596.6" font-size="11" fill="#1a1a1a" text-anchor="end"  stroke="#1a1a1a" stroke-width="0.32">1.5</text>
<line x1="215.9" y1="577.59" x2="217.9" y2="577.59" stroke="#3a3a3a" stroke-width="1"/>
<line x1="214.4" y1="562.38" x2="217.9" y2="562.38" stroke="#3a3a3a" stroke-width="1"/>
<text x="212.8" y="566.18" font-size="11" fill="#1a1a1a" text-anchor="end"  stroke="#1a1a1a" stroke-width="0.32">1.8</text>
<text x="331" y="782.7" font-size="15" fill="#1a1a1a" text-anchor="middle"  stroke="#1a1a1a" stroke-width="0.32">Time / min</text>
<text transform="translate(182.5,650.6) rotate(-90)" font-size="15" fill="#1a1a1a" text-anchor="middle" stroke="#1a1a1a" stroke-width="0.32">V<tspan dy="3" font-size="10">thermo</tspan><tspan dy="-3"> / V</tspan></text>
<text x="383" y="582.6" font-size="15" fill="#c8161d" text-anchor="middle"  stroke="#c8161d" stroke-width="0.32">LED ON</text>
<path d="M217.9,733.01 L218.9,730.27 L219.9,727.34 L220.91,724.67 L221.91,721.93 L222.91,718.95 L223.91,716.26 L224.91,714.06 L225.92,711.2 L226.92,708.66 L227.92,706.55 L228.92,703.85 L229.92,701.62 L230.93,699.08 L231.93,696.84 L232.93,694.3 L233.93,692.3 L234.93,690.2 L235.94,687.85 L236.94,685.82 L237.94,683.68 L238.94,681.31 L239.94,679.62 L240.95,677.53 L241.95,675.42 L242.95,673.35 L243.95,671.86 L244.95,669.79 L245.96,668.07 L246.96,666.34 L247.96,664.48 L248.96,662.83 L249.96,660.84 L250.97,659.35 L251.97,657.51 L252.97,656.11 L253.97,654.47 L254.97,652.5 L255.98,650.96 L256.98,649.46 L257.98,648.33 L258.98,646.58 L259.98,645.22 L260.99,643.62 L261.99,642.31 L262.99,640.86 L263.99,639.48 L264.99,638.26 L266,636.94 L267,635.8 L268,634.41 L269,633.28 L270,632.01 L271.01,630.86 L272.01,629.51 L273.01,628.08 L274.01,627.27 L275.01,626.19 L276.02,625.04 L277.02,623.78 L278.02,622.77 L279.02,621.45 L280.02,620.72 L281.03,619.56 L282.03,618.41 L283.03,617.3 L284.03,616.72 L285.03,615.82 L286.04,614.43 L287.04,613.85 L288.04,612.74 L289.04,611.72 L290.04,610.9 L291.05,610.27 L292.05,609.47 L293.05,608.21 L294.05,607.67 L295.05,606.57 L296.06,606.1 L297.06,605.12 L298.06,604.62 L299.06,603.91 L300.06,602.93 L301.07,602.44 L302.07,601.37 L303.07,600.54 L304.07,600.1 L305.07,599.13 L306.08,598.53 L307.08,597.97 L308.08,597.42 L309.08,596.55 L310.08,595.85 L311.09,595.64 L312.09,594.75 L313.09,594.47 L314.09,593.85 L315.09,593.01 L316.1,592.47 L317.1,591.94 L318.6,603.95 L319.1,604.11 L320.1,604.07 L321.11,604.05 L322.11,604.12 L323.11,604.45 L324.11,604.03 L325.11,603.97 L326.12,604.27 L327.12,603.8 L328.12,603.88 L329.12,604.58 L330.12,604.14 L331.13,604.18 L332.13,603.66 L333.13,604.09 L334.13,604.27 L335.13,603.73 L336.14,604.35 L337.14,604.38 L338.14,603.83 L339.14,604.42 L340.14,604.29 L341.15,604.52 L342.15,604.22 L343.15,604.6 L344.15,604.66 L345.15,603.97 L346.16,604.03 L347.16,604.67 L348.16,604.99 L349.16,604.31 L350.16,604.54 L351.17,604.71 L352.17,604.47 L353.17,604.54 L354.17,604.52 L355.17,604.61 L356.18,604.87 L357.18,604.61 L358.18,604.72 L359.18,605.15 L360.18,604.44 L361.19,605.02 L362.19,605.22 L363.19,604.83 L364.19,604.78 L365.19,605.4 L366.2,604.88 L367.2,604.87 L368.2,605.15 L369.2,605.46 L370.2,604.9 L371.21,605.17 L372.21,605.22 L373.21,605.77 L374.21,605.41 L375.21,605.88 L376.22,605.24 L377.22,605.45 L378.22,605.81 L379.22,606.09 L380.22,605.71 L381.23,605.53 L382.23,605.47 L383.23,605.93 L384.23,605.64 L385.23,606.31 L386.24,606.39 L387.24,605.79 L388.24,605.94 L389.24,606.52 L390.24,606.41 L391.25,606.63 L392.25,606.23 L393.25,606.07 L394.25,606.28 L395.25,606.84 L396.26,606.38 L397.26,606.51 L398.26,606.64 L399.26,606.71 L400.26,606.76 L401.27,607.33 L402.27,606.63 L403.27,606.54 L404.27,607.54 L405.27,607.54 L406.28,607.71 L407.28,607.22 L408.28,607.8 L409.28,607.85 L410.28,607.21 L411.29,607.8 L412.29,607.96 L413.29,607.85 L414.29,607.78 L415.29,607.62 L416.3,607.74 L417.3,607.7 L418.3,607.61 L419.3,608.2 L420.3,607.97 L421.31,608.57 L422.31,607.88 L423.31,608.81 L424.31,608.68 L425.31,608.99 L426.32,609.04 L427.32,609.12 L428.32,608.87 L429.32,608.39 L430.32,609.2 L431.33,608.7 L432.33,608.91 L433.33,609.36 L434.33,609.3 L435.33,609.27 L436.34,609.88 L437.34,609.64 L438.34,609.45 L439.34,609.45 L440.34,610.14 L441.35,609.84 L442.35,610.23 L443.35,609.89" fill="none" stroke="#111" stroke-width="1.8" stroke-linejoin="round" stroke-linecap="round" />
<defs><filter id="bl" x="-5%" y="-5%" width="110%" height="110%"><feGaussianBlur stdDeviation="0.6"/></filter><filter id="bl2"><feGaussianBlur stdDeviation="1.5"/></filter><filter id="bl2s" x="-5%" y="-5%" width="110%" height="110%"><feGaussianBlur stdDeviation="0.55"/></filter><clipPath id="ca1"><rect x="40" y="25" width="248" height="109"/></clipPath><clipPath id="ca2"><rect x="40" y="139" width="248" height="110"/></clipPath><linearGradient id="gbg1" x1="0" y1="0" x2="0" y2="1"><stop offset="0" stop-color="#e2dfd9"/><stop offset="1" stop-color="#cfccc6"/></linearGradient><linearGradient id="gbg2" x1="0" y1="0" x2="1" y2="0"><stop offset="0" stop-color="#e8e8ee"/><stop offset="1" stop-color="#dcdde6"/></linearGradient><linearGradient id="glv1" x1="0" y1="0" x2="0" y2="1"><stop offset="0" stop-color="#8a84dc"/><stop offset="1" stop-color="#6a62c4"/></linearGradient></defs>
<g clip-path="url(#ca1)"><g filter="url(#bl)">
<rect x="40" y="25" width="248" height="109" fill="url(#gbg1)"/>
<path transform="translate(46,38.4) scale(1.0)" d="M0,0h2.1v8h9.5v-8h2.1v10h-13.7z M14.8,10v-10h11.3v10h-2.1v-8h-7.1v8z M28.5,0h2.3v1.8h-2.3z M28.5,3.3h2.3v6.7h-2.3z M33.9,0h11.8v2h-9.7v2.9h9.7v5.1h-11.8v-2h9.7v-1.1h-9.7z M47.2,0h12.1v2h-4.9v8h-2.4v-8h-4.8z" fill="#2e3448" stroke="#2e3448" stroke-width="0.5" opacity="1"/>
<path transform="translate(131.5,38.4) scale(1.0)" d="M0,0h2.1v8h9.5v-8h2.1v10h-13.7z M14.8,10v-10h11.3v10h-2.1v-8h-7.1v8z M28.5,0h2.3v1.8h-2.3z M28.5,3.3h2.3v6.7h-2.3z M33.9,0h11.8v2h-9.7v2.9h9.7v5.1h-11.8v-2h9.7v-1.1h-9.7z M47.2,0h12.1v2h-4.9v8h-2.4v-8h-4.8z" fill="#2e3448" stroke="#2e3448" stroke-width="0.5" opacity="1"/>
<path transform="translate(218,38.4) scale(1.0)" d="M0,0h2.1v8h9.5v-8h2.1v10h-13.7z M14.8,10v-10h11.3v10h-2.1v-8h-7.1v8z M28.5,0h2.3v1.8h-2.3z M28.5,3.3h2.3v6.7h-2.3z M33.9,0h11.8v2h-9.7v2.9h9.7v5.1h-11.8v-2h9.7v-1.1h-9.7z M47.2,0h12.1v2h-4.9v8h-2.4v-8h-4.8z" fill="#2e3448" stroke="#2e3448" stroke-width="0.5" opacity="1"/>
<path transform="translate(131.5,76) scale(1.0)" d="M0,0h2.1v8h9.5v-8h2.1v10h-13.7z M14.8,10v-10h11.3v10h-2.1v-8h-7.1v8z M28.5,0h2.3v1.8h-2.3z M28.5,3.3h2.3v6.7h-2.3z M33.9,0h11.8v2h-9.7v2.9h9.7v5.1h-11.8v-2h9.7v-1.1h-9.7z M47.2,0h12.1v2h-4.9v8h-2.4v-8h-4.8z" fill="#2e3448" stroke="#2e3448" stroke-width="0.5" opacity="1"/>
<path transform="translate(218,76) scale(1.0)" d="M0,0h2.1v8h9.5v-8h2.1v10h-13.7z M14.8,10v-10h11.3v10h-2.1v-8h-7.1v8z M28.5,0h2.3v1.8h-2.3z M28.5,3.3h2.3v6.7h-2.3z M33.9,0h11.8v2h-9.7v2.9h9.7v5.1h-11.8v-2h9.7v-1.1h-9.7z M47.2,0h12.1v2h-4.9v8h-2.4v-8h-4.8z" fill="#2e3448" stroke="#2e3448" stroke-width="0.5" opacity="1"/>
<path transform="translate(131.5,113) scale(1.0)" d="M0,0h2.1v8h9.5v-8h2.1v10h-13.7z M14.8,10v-10h11.3v10h-2.1v-8h-7.1v8z M28.5,0h2.3v1.8h-2.3z M28.5,3.3h2.3v6.7h-2.3z M33.9,0h11.8v2h-9.7v2.9h9.7v5.1h-11.8v-2h9.7v-1.1h-9.7z M47.2,0h12.1v2h-4.9v8h-2.4v-8h-4.8z" fill="#2e3448" stroke="#2e3448" stroke-width="0.5" opacity="1"/>
<path transform="translate(218,113) scale(1.0)" d="M0,0h2.1v8h9.5v-8h2.1v10h-13.7z M14.8,10v-10h11.3v10h-2.1v-8h-7.1v8z M28.5,0h2.3v1.8h-2.3z M28.5,3.3h2.3v6.7h-2.3z M33.9,0h11.8v2h-9.7v2.9h9.7v5.1h-11.8v-2h9.7v-1.1h-9.7z M47.2,0h12.1v2h-4.9v8h-2.4v-8h-4.8z" fill="#2e3448" stroke="#2e3448" stroke-width="0.5" opacity="1"/>
<g filter="url(#bl2s)">
<path d="M40,72 C60,69 95,65 129,65 C140,65 148,72 149,82 C150,90 148,94 146,96 C155,96 166,99 166,106 C166,114 162,121 150,127 C142,131 136,133 132,135 L40,135 Z" fill="#7670d0"/>
<path d="M40,74 C60,70 95,66 129,66 C139,66 146,72 147,80 C140,86 120,90 90,90 C70,90 50,86 40,84 Z" fill="#8782dc"/>
<path d="M40,84 C60,88 100,92 146,90" stroke="#5048ac" stroke-width="2.2" fill="none" opacity="0.8"/>
<path d="M100,96 C120,96 150,96 166,104 C166,112 158,120 140,124 C115,118 105,108 100,96 Z" fill="#8580da" opacity="0.8"/>
<path d="M40,118 C70,122 110,124 150,126 C142,131 136,133 132,135 L40,135 Z" fill="#5a52b4" opacity="0.75"/>
<path d="M75,78 C74,95 80,115 95,134" stroke="#4c44a8" stroke-width="1.5" fill="none" opacity="0.6"/>
</g>
<path d="M221,85 L252,70 L288,55 L288,134 L240,134 L226,119 L219,99Z" fill="#7c76d6" />
<path d="M245,80 L288,70 L288,105 L255,110Z" fill="#8e88e0"  opacity="0.7"/>
<path d="M144,70 L146.35,68.03 L148.74,66.1 L151.16,64.23 L153.61,62.42 L156.1,60.65 L158.62,58.94 L161.18,57.28 L163.78,55.67 L166.41,54.11 L169.07,52.6 L171.77,51.15 L174.5,49.75 L177.27,48.4 L180.07,47.1 L182.91,45.86 L185.78,44.67 L188.68,43.53 L191.62,42.44 L194.6,41.4 L197.61,40.42 L200.66,39.48 L203.74,38.6 L206.85,37.78 L210,37 L206,54 L203.67,54.7 L201.35,55.48 L199.05,56.33 L196.75,57.25 L194.46,58.24 L192.19,59.31 L189.92,60.45 L187.67,61.67 L185.42,62.95 L183.19,64.31 L180.96,65.74 L178.75,67.25 L176.55,68.83 L174.35,70.48 L172.17,72.2 L170,74 L167.84,75.87 L165.69,77.81 L163.55,79.83 L161.42,81.92 L159.3,84.08 L157.19,86.31 L155.09,88.62 L153,91Z" fill="#cfd0cc" />
<path d="M145.29,70.04 L152.45,64.29 L155.82,72.56 L149.03,78.79Z" fill="#121212" />
<path d="M149.74,80.46 L156.46,74.14 L159.82,82.42 L153.48,89.21Z" fill="#8e9494" />
<path d="M154.91,62.48 L162.48,57.37 L165.2,65.13 L158.13,70.61Z" fill="#8e9494" />
<path d="M158.74,72.16 L165.72,66.61 L168.44,74.37 L161.96,80.3Z" fill="#121212" />
<path d="M165.07,55.77 L173.04,51.29 L174.96,58.68 L167.6,63.43Z" fill="#121212" />
<path d="M168.09,64.88 L175.32,60.09 L177.24,67.48 L170.63,72.54Z" fill="#8e9494" />
<path d="M175.76,49.9 L184.14,46.06 L185.09,53.22 L177.46,57.22Z" fill="#8e9494" />
<path d="M177.78,58.62 L185.28,54.59 L186.23,61.75 L179.47,65.94Z" fill="#121212" />
<path d="M187,44.88 L195.78,41.67 L195.61,48.75 L187.69,52.01Z" fill="#121212" />
<path d="M187.82,53.37 L195.57,50.09 L195.39,57.16 L188.5,60.49Z" fill="#8e9494" />
<path d="M198.78,40.71 L207.97,38.14 L206.49,45.26 L198.29,47.78Z" fill="#8e9494" />
<path d="M198.2,49.13 L206.21,46.61 L204.74,53.73 L197.71,56.2Z" fill="#121212" />
<line x1="144" y1="70" x2="153" y2="91" stroke="#d4ac38" stroke-width="1.2"/>
<line x1="153.61" y1="62.42" x2="161.42" y2="81.92" stroke="#d4ac38" stroke-width="1.2"/>
<line x1="163.78" y1="55.67" x2="170" y2="74" stroke="#d4ac38" stroke-width="1.2"/>
<line x1="174.5" y1="49.75" x2="178.75" y2="67.25" stroke="#d4ac38" stroke-width="1.2"/>
<line x1="185.78" y1="44.67" x2="187.67" y2="61.67" stroke="#d4ac38" stroke-width="1.2"/>
<line x1="197.61" y1="40.42" x2="196.75" y2="57.25" stroke="#d4ac38" stroke-width="1.2"/>
<line x1="210" y1="37" x2="206" y2="54" stroke="#d4ac38" stroke-width="1.2"/>
<path d="M144,70 Q172,46 210,37 M153,91 Q178,62 206,54" stroke="#d4ac38" stroke-width="2.8" fill="none"/>
<path d="M209,37 C224,42 224,62 218,74 C212,84 206,88 203,93" stroke="#d4ac38" stroke-width="2.4" fill="none"/>
<path d="M205,53 C214,56 214,66 210,76 C207,84 205,88 204,93" stroke="#d4ac38" stroke-width="2.2" fill="none"/>
<path d="M211,42 C219,48 218,62 213,74" stroke="#b0b4b0" stroke-width="3" fill="none"/>
<path d="M202,93 L203.92,92.84 L205.85,92.68 L207.78,92.53 L209.72,92.39 L211.67,92.25 L213.62,92.12 L215.59,92 L217.56,91.89 L219.53,91.78 L221.51,91.68 L223.5,91.59 L225.5,91.5 L227.5,91.42 L229.51,91.35 L231.53,91.28 L233.56,91.22 L235.59,91.17 L237.62,91.12 L239.67,91.09 L241.72,91.06 L243.78,91.03 L245.85,91.01 L247.92,91 L250,91 L252,113 L250.17,113.24 L248.33,113.45 L246.5,113.64 L244.67,113.81 L242.83,113.95 L241,114.06 L239.17,114.15 L237.33,114.22 L235.5,114.27 L233.67,114.28 L231.83,114.28 L230,114.25 L228.17,114.2 L226.33,114.12 L224.5,114.02 L222.67,113.89 L220.83,113.74 L219,113.56 L217.17,113.36 L215.33,113.14 L213.5,112.89 L211.67,112.62 L209.83,112.32 L208,112Z" fill="#cfd0cc" />
<path d="M203.39,93.67 L212.08,93.09 L214.39,101.97 L205.89,101.78Z" fill="#121212" />
<path d="M206.36,103.32 L214.83,103.66 L217.13,112.54 L208.86,111.42Z" fill="#8e9494" />
<path d="M215.01,92.92 L223.89,92.48 L225.84,101.99 L217.24,102Z" fill="#8e9494" />
<path d="M217.66,103.73 L226.21,103.8 L228.16,113.3 L219.89,112.81Z" fill="#121212" />
<path d="M226.88,92.36 L235.93,92.08 L237.43,101.74 L228.72,101.95Z" fill="#121212" />
<path d="M229.08,103.77 L237.71,103.58 L239.21,113.23 L230.92,113.36Z" fill="#8e9494" />
<path d="M238.98,92.02 L248.22,91.89 L249.15,101.22 L240.35,101.63Z" fill="#8e9494" />
<path d="M240.61,103.46 L249.33,103 L250.26,112.33 L241.97,113.08Z" fill="#121212" />
<line x1="202" y1="93" x2="208" y2="112" stroke="#d4ac38" stroke-width="1.2"/>
<line x1="213.62" y1="92.12" x2="219" y2="113.56" stroke="#d4ac38" stroke-width="1.2"/>
<line x1="225.5" y1="91.5" x2="230" y2="114.25" stroke="#d4ac38" stroke-width="1.2"/>
<line x1="237.62" y1="91.12" x2="241" y2="114.06" stroke="#d4ac38" stroke-width="1.2"/>
<line x1="250" y1="91" x2="252" y2="113" stroke="#d4ac38" stroke-width="1.2"/>
<path d="M202,93 Q225,91 250,91 M208,112 Q230,116 252,113" stroke="#d4ac38" stroke-width="2.8" fill="none"/>
</g></g>
<text x="48.5" y="123.9" font-size="17.5" font-weight="normal" fill="#fff" stroke="#d01424" stroke-width="4.6" paint-order="stroke" stroke-linejoin="round">p/n-ITEM</text>
<rect x="40.3" y="25.5" width="247.4" height="108.7" fill="none" stroke="#333" stroke-width="1.2"/>
<g clip-path="url(#ca2)"><g filter="url(#bl)">
<rect x="40" y="139" width="248" height="110" fill="url(#gbg2)"/>
<path transform="translate(17,153.6) scale(1.0)" d="M0,0h2.1v8h9.5v-8h2.1v10h-13.7z M14.8,10v-10h11.3v10h-2.1v-8h-7.1v8z M28.5,0h2.3v1.8h-2.3z M28.5,3.3h2.3v6.7h-2.3z M33.9,0h11.8v2h-9.7v2.9h9.7v5.1h-11.8v-2h9.7v-1.1h-9.7z M47.2,0h12.1v2h-4.9v8h-2.4v-8h-4.8z" fill="#2e3448" stroke="#2e3448" stroke-width="0.5" opacity="1"/>
<path transform="translate(103.5,153.6) scale(1.0)" d="M0,0h2.1v8h9.5v-8h2.1v10h-13.7z M14.8,10v-10h11.3v10h-2.1v-8h-7.1v8z M28.5,0h2.3v1.8h-2.3z M28.5,3.3h2.3v6.7h-2.3z M33.9,0h11.8v2h-9.7v2.9h9.7v5.1h-11.8v-2h9.7v-1.1h-9.7z M47.2,0h12.1v2h-4.9v8h-2.4v-8h-4.8z" fill="#2e3448" stroke="#2e3448" stroke-width="0.5" opacity="1"/>
<path transform="translate(199,153.6) scale(1.0)" d="M0,0h2.1v8h9.5v-8h2.1v10h-13.7z M14.8,10v-10h11.3v10h-2.1v-8h-7.1v8z M28.5,0h2.3v1.8h-2.3z M28.5,3.3h2.3v6.7h-2.3z M33.9,0h11.8v2h-9.7v2.9h9.7v5.1h-11.8v-2h9.7v-1.1h-9.7z M47.2,0h12.1v2h-4.9v8h-2.4v-8h-4.8z" fill="#2e3448" stroke="#2e3448" stroke-width="0.5" opacity="1"/>
<path transform="translate(152,194) scale(1.0)" d="M0,0h2.1v8h9.5v-8h2.1v10h-13.7z M14.8,10v-10h11.3v10h-2.1v-8h-7.1v8z M28.5,0h2.3v1.8h-2.3z M28.5,3.3h2.3v6.7h-2.3z M33.9,0h11.8v2h-9.7v2.9h9.7v5.1h-11.8v-2h9.7v-1.1h-9.7z M47.2,0h12.1v2h-4.9v8h-2.4v-8h-4.8z" fill="#2e3448" stroke="#2e3448" stroke-width="0.5" opacity="1"/>
<path transform="translate(70,234) scale(1.0)" d="M0,0h2.1v8h9.5v-8h2.1v10h-13.7z M14.8,10v-10h11.3v10h-2.1v-8h-7.1v8z M28.5,0h2.3v1.8h-2.3z M28.5,3.3h2.3v6.7h-2.3z M33.9,0h11.8v2h-9.7v2.9h9.7v5.1h-11.8v-2h9.7v-1.1h-9.7z M47.2,0h12.1v2h-4.9v8h-2.4v-8h-4.8z" fill="#2e3448" stroke="#2e3448" stroke-width="0.5" opacity="1"/>
<path transform="translate(180,234) scale(1.0)" d="M0,0h2.1v8h9.5v-8h2.1v10h-13.7z M14.8,10v-10h11.3v10h-2.1v-8h-7.1v8z M28.5,0h2.3v1.8h-2.3z M28.5,3.3h2.3v6.7h-2.3z M33.9,0h11.8v2h-9.7v2.9h9.7v5.1h-11.8v-2h9.7v-1.1h-9.7z M47.2,0h12.1v2h-4.9v8h-2.4v-8h-4.8z" fill="#2e3448" stroke="#2e3448" stroke-width="0.5" opacity="1"/>
<path d="M40,158.5 L69,159.5 L101,170.5 L121,178 L142,190 L155,202 L167,219 L172,236 L160,247 L40,247Z" fill="#7a72d2" />
<path d="M40,199 L90,201 L145,211 L170,229 L160,247 L40,247Z" fill="#6a62c0" />
<path d="M50,164 L100,173 L135,191 L80,189Z" fill="#948ee0"  opacity="0.6"/>
<path d="M60,209 Q120,207 160,229" stroke="#4a42a0" stroke-width="2" fill="none" opacity="0.6"/>
<path d="M145.6,213 C150,190 170,150 199,144.6 C212,143 226,152 224,167 C220,190 205,215 201.7,236 L193,237 C186,210 203,190 207,170 C209,162 205,155 196,160 C185,168 178,190 172,212 Z" fill="#bcc4c4"/>
<path d="M159,212 C165,190 176,160 197,152 C210,148 218,155 215,170 C211,190 197,212 197,236" stroke="#151518" stroke-width="13" fill="none" stroke-dasharray="6 3.5"/>
<path d="M159,212 C165,190 176,160 197,152 C210,148 218,155 215,170 C211,190 197,212 197,236" stroke="#8fa4a0" stroke-width="5" fill="none" stroke-dasharray="4 5.5" stroke-dashoffset="1"/>
<path d="M145.6,213 C150,190 170,150 199,144.6 C212,143 226,152 224,167 C220,190 205,215 201.7,236" stroke="#c8a440" stroke-width="2" fill="none"/>
<path d="M172,212 C178,190 185,168 196,160 C205,155 209,162 207,170 C203,190 186,210 193,237" stroke="#c8a440" stroke-width="2" fill="none"/>
<path d="M274,139 L288,139 L288,247 L196,247 L206,234 L225,210 L247,181 L264,154Z" fill="#766ed0" />
<path d="M280,149 L288,147 L288,247 L240,247 L255,219Z" fill="#6c64c6"  opacity="0.8"/>
</g></g>
<text x="48" y="238.2" font-size="18" font-weight="normal" fill="#fff" stroke="#1a70c8" stroke-width="4.6" paint-order="stroke" stroke-linejoin="round">n-ITEM</text>
<rect x="40.3" y="139.3" width="247.4" height="109" fill="none" stroke="#333" stroke-width="1.2"/>
<defs><clipPath id="ch"><rect x="542.8" y="562" width="227.4" height="207.7"/></clipPath><pattern id="mat" patternUnits="userSpaceOnUse" width="40" height="40" patternTransform="translate(4,10) rotate(-12) skewX(6)"><rect width="40" height="40" fill="#8a90aa"/><path d="M16.0,10.1 l-1.2,2.4 M23.2,17.4 l3.5,0.6 M6.3,19.7 l2.6,0.6 M19.4,33.1 l2.7,1.1 M26.3,37.2 l-0.8,3.2 M38.2,6.6 l-2.8,1.3 M9.9,9.0 l2.3,3.4 M11.1,24.8 l-1.4,2.9 M23.6,7.1 l2.9,0.5 M28.1,19.5 l2.0,3.1 M20.4,15.2 l-3.1,2.4 M13.3,24.5 l-0.3,4.2 M29.8,14.8 l-2.7,0.2 M19.2,30.7 l3.1,1.6 M6.3,27.7 l-2.7,2.5 M34.8,15.7 l-2.1,3.0 M24.7,20.5 l-3.8,2.1 M21.1,27.6 l3.8,0.7 M27.0,38.8 l-2.6,1.6 M18.1,27.7 l3.4,0.2 M10.7,9.0 l4.0,0.7 M9.4,13.4 l1.4,4.0 M7.7,20.3 l-0.7,4.2 M32.9,34.4 l2.1,2.6 M17.2,35.1 l-2.8,0.4 M11.0,12.9 l2.6,2.3 M25.0,13.9 l3.3,0.0 M17.6,24.3 l-3.8,0.6 M22.5,26.0 l-1.4,2.2 M35.6,31.5 l-3.8,1.6 M18.3,18.6 l3.6,1.2 M7.1,7.3 l2.2,1.7 M16.6,6.8 l2.8,0.0 M8.4,17.4 l4.2,0.3" stroke="#5a6082" stroke-width="1.1" opacity="0.85"/><path d="M0,0.8 H40 M0,3.6 H40 M0.8,0 V40 M3.6,0 V40" stroke="#c4c8d8" stroke-width="1"/></pattern><linearGradient id="gboard" x1="0" y1="0" x2="1" y2="0"><stop offset="0" stop-color="#e6e6e8"/><stop offset="1" stop-color="#d4d4d8"/></linearGradient></defs>
<g clip-path="url(#ch)"><g filter="url(#bl)">
<rect x="540" y="555" width="232" height="216" fill="url(#mat)"/>
<path d="M596,562 L638,562 L650,577 L664,615 L676,655 L688,705 L698,770 L650,770 L604,574.6Z" fill="#a6a8b2" />
<path d="M640,562 Q665,605 678,665 T698,770" stroke="#d0d2da" stroke-width="2.5" fill="none"/>
<path d="M612,615 L638,617 L648,630 L635,640 L610,635Z" fill="#b8b0b8"  opacity="0.8"/>
<path d="M540,555 L600,562 L604,574.6 L658,770 L540,770Z" fill="#d6d8e0" />
<path d="M540,575 L568,577 L580,770 L540,770Z" fill="#cdd2de" />
<path d="M542,645 L560,647 L562,665 L542,667Z" fill="#b0c0d8"  opacity="0.7"/>
<path d="M548,562 L560,562 L560,571 L548,571Z" fill="#6cb070" />
<path d="M560,562 L596,562 L596,577 L560,577Z" fill="#9cc4e8" />
<path d="M596,562 L606,562 L606,570 L596,570Z" fill="#e8e8e8" />
<path d="M566,578 L596,572 L606,575 L616,585 L658,770 L578,770Z" fill="url(#gboard)" />
<path d="M569.2,615 l52.0,-6" stroke="#c8c8cc" stroke-width="1" />
<path d="M570.0,655 l60.0,-6" stroke="#c8c8cc" stroke-width="1" />
<path d="M570.8,695 l68.0,-6" stroke="#c8c8cc" stroke-width="1" />
<path d="M571.6,735 l76.0,-6" stroke="#c8c8cc" stroke-width="1" />
<path d="M546,586 L576,768" stroke="#b8bcc8" stroke-width="4"/>
<path d="M572.5,729 L574.5,743" stroke="#d03048" stroke-width="4.5"/>
<path d="M575,747 L577.5,764" stroke="#e0d050" stroke-width="4.5"/>
<path d="M591,574 L634,768" stroke="#dcc860" stroke-width="3.6"/>
<path d="M624.5,716.5 L628,733" stroke="#d84838" stroke-width="3.6"/>
<g transform="translate(579,582.5) rotate(-6)"><rect x="-9" y="-4.8" width="18" height="9.6" fill="#f0f0ee"/><rect x="-8.4" y="-4.1" width="16.8" height="8.2" fill="#d8cc70"/><rect x="-6" y="-2.6" width="4" height="5.2" fill="#5a5638"/><rect x="-1.4" y="-3.6" width="2.8" height="7.2" fill="#1c2030"/><rect x="2.1" y="-2.6" width="4" height="5.2" fill="#5a5638"/></g>
<g transform="translate(580.84,590.77) rotate(-6)"><rect x="-9" y="-4.8" width="18" height="9.6" fill="#f0f0ee"/><rect x="-8.4" y="-4.1" width="16.8" height="8.2" fill="#d8cc70"/><rect x="-6" y="-2.6" width="4" height="5.2" fill="#5a5638"/><rect x="-1.4" y="-3.6" width="2.8" height="7.2" fill="#1c2030"/><rect x="2.1" y="-2.6" width="4" height="5.2" fill="#5a5638"/></g>
<g transform="translate(582.72,599.24) rotate(-6)"><rect x="-9" y="-4.8" width="18" height="9.6" fill="#f0f0ee"/><rect x="-8.4" y="-4.1" width="16.8" height="8.2" fill="#d04a30"/><rect x="-6" y="-2.6" width="4" height="5.2" fill="#5a5638"/><rect x="-1.4" y="-3.6" width="2.8" height="7.2" fill="#1c2030"/><rect x="2.1" y="-2.6" width="4" height="5.2" fill="#5a5638"/></g>
<g transform="translate(584.64,607.91) rotate(-6)"><rect x="-9" y="-4.8" width="18" height="9.6" fill="#f0f0ee"/><rect x="-8.4" y="-4.1" width="16.8" height="8.2" fill="#d8cc70"/><rect x="-6" y="-2.6" width="4" height="5.2" fill="#5a5638"/><rect x="-1.4" y="-3.6" width="2.8" height="7.2" fill="#1c2030"/><rect x="2.1" y="-2.6" width="4" height="5.2" fill="#5a5638"/></g>
<g transform="translate(586.61,616.79) rotate(-6)"><rect x="-9" y="-4.8" width="18" height="9.6" fill="#f0f0ee"/><rect x="-8.4" y="-4.1" width="16.8" height="8.2" fill="#d8cc70"/><rect x="-6" y="-2.6" width="4" height="5.2" fill="#5a5638"/><rect x="-1.4" y="-3.6" width="2.8" height="7.2" fill="#1c2030"/><rect x="2.1" y="-2.6" width="4" height="5.2" fill="#5a5638"/></g>
<g transform="translate(588.62,625.86) rotate(-6)"><rect x="-9" y="-4.8" width="18" height="9.6" fill="#f0f0ee"/><rect x="-8.4" y="-4.1" width="16.8" height="8.2" fill="#d8cc70"/><rect x="-6" y="-2.6" width="4" height="5.2" fill="#5a5638"/><rect x="-1.4" y="-3.6" width="2.8" height="7.2" fill="#1c2030"/><rect x="2.1" y="-2.6" width="4" height="5.2" fill="#5a5638"/></g>
<g transform="translate(590.68,635.12) rotate(-6)"><rect x="-9" y="-4.8" width="18" height="9.6" fill="#f0f0ee"/><rect x="-8.4" y="-4.1" width="16.8" height="8.2" fill="#d8cc70"/><rect x="-6" y="-2.6" width="4" height="5.2" fill="#5a5638"/><rect x="-1.4" y="-3.6" width="2.8" height="7.2" fill="#1c2030"/><rect x="2.1" y="-2.6" width="4" height="5.2" fill="#5a5638"/></g>
<g transform="translate(592.78,644.59) rotate(-6)"><rect x="-9" y="-4.8" width="18" height="9.6" fill="#f0f0ee"/><rect x="-8.4" y="-4.1" width="16.8" height="8.2" fill="#d8cc70"/><rect x="-6" y="-2.6" width="4" height="5.2" fill="#5a5638"/><rect x="-1.4" y="-3.6" width="2.8" height="7.2" fill="#1c2030"/><rect x="2.1" y="-2.6" width="4" height="5.2" fill="#5a5638"/></g>
<g transform="translate(594.93,654.26) rotate(-6)"><rect x="-9" y="-4.8" width="18" height="9.6" fill="#f0f0ee"/><rect x="-8.4" y="-4.1" width="16.8" height="8.2" fill="#d8cc70"/><rect x="-6" y="-2.6" width="4" height="5.2" fill="#5a5638"/><rect x="-1.4" y="-3.6" width="2.8" height="7.2" fill="#1c2030"/><rect x="2.1" y="-2.6" width="4" height="5.2" fill="#5a5638"/></g>
<g transform="translate(597.12,664.13) rotate(-6)"><rect x="-9" y="-4.8" width="18" height="9.6" fill="#f0f0ee"/><rect x="-8.4" y="-4.1" width="16.8" height="8.2" fill="#d8cc70"/><rect x="-6" y="-2.6" width="4" height="5.2" fill="#5a5638"/><rect x="-1.4" y="-3.6" width="2.8" height="7.2" fill="#1c2030"/><rect x="2.1" y="-2.6" width="4" height="5.2" fill="#5a5638"/></g>
<g transform="translate(599.36,674.19) rotate(-6)"><rect x="-9" y="-4.8" width="18" height="9.6" fill="#f0f0ee"/><rect x="-8.4" y="-4.1" width="16.8" height="8.2" fill="#d8cc70"/><rect x="-6" y="-2.6" width="4" height="5.2" fill="#5a5638"/><rect x="-1.4" y="-3.6" width="2.8" height="7.2" fill="#1c2030"/><rect x="2.1" y="-2.6" width="4" height="5.2" fill="#5a5638"/></g>
<g transform="translate(601.63,684.46) rotate(-6)"><rect x="-9" y="-4.8" width="18" height="9.6" fill="#f0f0ee"/><rect x="-8.4" y="-4.1" width="16.8" height="8.2" fill="#d8cc70"/><rect x="-6" y="-2.6" width="4" height="5.2" fill="#5a5638"/><rect x="-1.4" y="-3.6" width="2.8" height="7.2" fill="#1c2030"/><rect x="2.1" y="-2.6" width="4" height="5.2" fill="#5a5638"/></g>
<g transform="translate(603.96,694.92) rotate(-6)"><rect x="-9" y="-4.8" width="18" height="9.6" fill="#f0f0ee"/><rect x="-8.4" y="-4.1" width="16.8" height="8.2" fill="#d8cc70"/><rect x="-6" y="-2.6" width="4" height="5.2" fill="#5a5638"/><rect x="-1.4" y="-3.6" width="2.8" height="7.2" fill="#1c2030"/><rect x="2.1" y="-2.6" width="4" height="5.2" fill="#5a5638"/></g>
<g transform="translate(606.33,705.59) rotate(-6)"><rect x="-9" y="-4.8" width="18" height="9.6" fill="#f0f0ee"/><rect x="-8.4" y="-4.1" width="16.8" height="8.2" fill="#d8cc70"/><rect x="-6" y="-2.6" width="4" height="5.2" fill="#5a5638"/><rect x="-1.4" y="-3.6" width="2.8" height="7.2" fill="#1c2030"/><rect x="2.1" y="-2.6" width="4" height="5.2" fill="#5a5638"/></g>
<g transform="translate(608.74,716.45) rotate(-6)"><rect x="-9" y="-4.8" width="18" height="9.6" fill="#f0f0ee"/><rect x="-8.4" y="-4.1" width="16.8" height="8.2" fill="#d8cc70"/><rect x="-6" y="-2.6" width="4" height="5.2" fill="#5a5638"/><rect x="-1.4" y="-3.6" width="2.8" height="7.2" fill="#1c2030"/><rect x="2.1" y="-2.6" width="4" height="5.2" fill="#5a5638"/></g>
<g transform="translate(611.19,727.51) rotate(-6)"><rect x="-9" y="-4.8" width="18" height="9.6" fill="#f0f0ee"/><rect x="-8.4" y="-4.1" width="16.8" height="8.2" fill="#d8cc70"/><rect x="-6" y="-2.6" width="4" height="5.2" fill="#5a5638"/><rect x="-1.4" y="-3.6" width="2.8" height="7.2" fill="#1c2030"/><rect x="2.1" y="-2.6" width="4" height="5.2" fill="#5a5638"/></g>
<g transform="translate(613.69,738.78) rotate(-6)"><rect x="-9" y="-4.8" width="18" height="9.6" fill="#f0f0ee"/><rect x="-8.4" y="-4.1" width="16.8" height="8.2" fill="#d04a30"/><rect x="-6" y="-2.6" width="4" height="5.2" fill="#5a5638"/><rect x="-1.4" y="-3.6" width="2.8" height="7.2" fill="#1c2030"/><rect x="2.1" y="-2.6" width="4" height="5.2" fill="#5a5638"/></g>
<g transform="translate(616.24,750.24) rotate(-6)"><rect x="-9" y="-4.8" width="18" height="9.6" fill="#f0f0ee"/><rect x="-8.4" y="-4.1" width="16.8" height="8.2" fill="#d04a30"/><rect x="-6" y="-2.6" width="4" height="5.2" fill="#5a5638"/><rect x="-1.4" y="-3.6" width="2.8" height="7.2" fill="#1c2030"/><rect x="2.1" y="-2.6" width="4" height="5.2" fill="#5a5638"/></g>
<g transform="translate(618.83,761.9) rotate(-6)"><rect x="-9" y="-4.8" width="18" height="9.6" fill="#f0f0ee"/><rect x="-8.4" y="-4.1" width="16.8" height="8.2" fill="#d8cc70"/><rect x="-6" y="-2.6" width="4" height="5.2" fill="#5a5638"/><rect x="-1.4" y="-3.6" width="2.8" height="7.2" fill="#1c2030"/><rect x="2.1" y="-2.6" width="4" height="5.2" fill="#5a5638"/></g>
<rect x="616" y="597" width="3" height="4" fill="#8a2020"/>
<rect x="622" y="622" width="3" height="4" fill="#8a2020"/>
<rect x="630" y="647" width="3" height="4" fill="#8a2020"/>
<rect x="637" y="673" width="3" height="4" fill="#8a2020"/>
<rect x="645" y="701" width="3" height="4" fill="#8a2020"/>
<rect x="651" y="727" width="3" height="4" fill="#8a2020"/>
<path d="M600,574 C635,575 660,590 674,630 L680,655" stroke="#d03020" stroke-width="2" fill="none"/>
<path d="M678,695 C685,735 698,755 705,770" stroke="#c03020" stroke-width="2" fill="none"/>
<path d="M705,560 C710,605 712,645 740,667 C760,685 768,700 772,715" stroke="#1c7a5a" stroke-width="3" fill="none"/>
<path d="M724,560 C730,595 740,625 772,663" stroke="#1c7a5a" stroke-width="3" fill="none"/>
<path d="M657,623 L661,623 L671,639 L673,695 L661,695 L651,641Z" fill="#16161a" />
<path d="M667,695 L669,770" stroke="#111" stroke-width="3"/>
<path d="M655,623 L658,615 L661,623Z" fill="#c8c8c8" />
<path d="M678,623 L682,623 L694,643 L695,701 L683,701 L676,645Z" fill="#c0182a" />
<path d="M688,701 L698,770" stroke="#d8d8dc" stroke-width="4"/>
<path d="M677,623 L680,615 L683,623Z" fill="#c8c8c8" />
<path d="M651,716 L677.5,699.6 L686,712 L658,729Z" fill="#f0a018" />
<path d="M703,753 L722,770" stroke="#7a5a40" stroke-width="5"/>
<circle cx="677.5" cy="615.4" r="4" fill="#ff9040" opacity="0.7" filter="url(#bl2)"/>
<circle cx="677.5" cy="615.4" r="2" fill="#ffe0a0"/>
</g></g>
<path d="M649.5,583 L594,573.5" stroke="#fff" stroke-width="2.4"/>
<path d="M649.5,583 L594,573.5" stroke="#7aa0e8" stroke-width="1.2"/>
<path d="M590,573 l7,-3.5 l-1.2,7.2 z" fill="#fff" stroke="#7aa0e8" stroke-width="0.8"/>
<path d="M712.6,664.5 L685,627" stroke="#fff" stroke-width="2.4"/>
<path d="M712.6,664.5 L685,627" stroke="#e06070" stroke-width="1.2"/>
<path d="M683,623.8 l1,7.5 l5.5,-3.8 z" fill="#fff" stroke="#e06070" stroke-width="0.8"/>
<path d="M710,737.5 L639,748.2" stroke="#c8c8c8" stroke-width="1.2"/>
<path d="M635.4,748.7 l6.5,-3.8 l0.8,6.5 z" fill="#eee" stroke="#999" stroke-width="0.6"/>
<text x="672" y="581.7" font-size="11.7" font-weight="normal" fill="#e4ecff" stroke="#6a8ad0" stroke-width="2" paint-order="stroke" stroke-opacity="0.6">Thermocouple &amp;</text>
<text x="655" y="594.3" font-size="11.8" font-weight="normal" fill="#e4ecff" stroke="#6a8ad0" stroke-width="2" paint-order="stroke" stroke-opacity="0.6">external connection</text>
<text x="666.3" y="685.5" font-size="14.5" font-weight="normal" fill="#fff" stroke="#c82030" stroke-width="3" paint-order="stroke" stroke-linejoin="round">Operated LED</text>
<text x="724" y="741.7" font-size="15" font-weight="normal" fill="#f4f4f4">ITEM</text>
<rect x="542.8" y="562" width="227.4" height="207.7" fill="none" stroke="#333" stroke-width="1.2"/>
</svg></body></html>
